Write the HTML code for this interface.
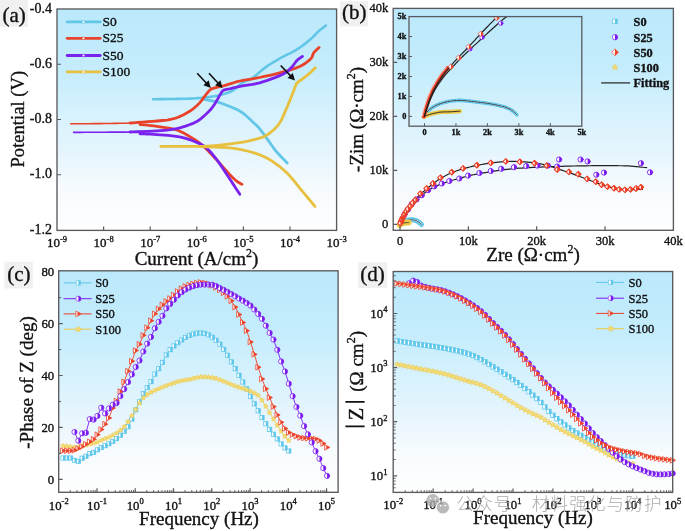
<!DOCTYPE html><html><head><meta charset="utf-8"><style>html,body{margin:0;padding:0;background:#fff;}svg{display:block}</style></head><body>
<svg width="685" height="531" viewBox="0 0 685 531" font-family="'Liberation Serif','Times New Roman',serif">
<style>text{stroke:#111;stroke-width:0.35px;paint-order:stroke;} .wm{stroke:none}</style>
<defs>
<linearGradient id="bg" x1="0" y1="0" x2="0" y2="1"><stop offset="0" stop-color="#bbe9fb"/><stop offset="0.27" stop-color="#c4ecfc"/><stop offset="0.45" stop-color="#d4f1fd"/><stop offset="0.65" stop-color="#e6f5fd"/><stop offset="0.82" stop-color="#f7fbfe"/><stop offset="1" stop-color="#fefefe"/></linearGradient>
<clipPath id="ca"><rect x="57" y="9" width="279.60" height="221.40"/></clipPath>
<clipPath id="cb"><rect x="393.2" y="8.4" width="280.20" height="221.90"/></clipPath>
<clipPath id="cc"><rect x="58.7" y="270.8" width="279.40" height="221.50"/></clipPath>
<clipPath id="cd"><rect x="393.2" y="271.5" width="279.50" height="220.90"/></clipPath>
<clipPath id="ci"><rect x="409" y="16.6" width="172.80" height="109.60"/></clipPath>
</defs>
<rect width="685" height="531" fill="#fff"/>
<rect x="57" y="9" width="279.60" height="221.40" fill="url(#bg)"/>
<g clip-path="url(#ca)" fill="none" stroke-linecap="round" stroke-linejoin="round">
<path d="M153,99.3 L154.81,99.27 L157.3,99.23 L160.25,99.17 L163.48,99.12 L166.8,99.06 L170,99 L173.22,98.95 L176.64,98.9 L180.14,98.85 L183.61,98.79 L186.94,98.71 L190,98.6 L192.77,98.47 L195.33,98.32 L197.75,98.16 L200.08,97.97 L202.37,97.75 L204.7,97.5 L207.03,97.23 L209.31,96.96 L211.56,96.66 L213.8,96.31 L216.04,95.89 L218.3,95.4 L220.62,94.84 L222.99,94.24 L225.36,93.58 L227.68,92.83 L229.91,91.97 L232,91 L233.92,89.82 L235.71,88.44 L237.4,86.96 L239.04,85.48 L240.66,84.09 L242.3,82.9 L243.89,82.02 L245.38,81.39 L246.85,80.85 L248.39,80.26 L250.08,79.46 L252,78.3 L254.2,76.68 L256.63,74.71 L259.21,72.52 L261.87,70.28 L264.52,68.12 L267.1,66.2 L269.67,64.48 L272.3,62.83 L274.94,61.28 L277.51,59.81 L279.95,58.45 L282.2,57.2 L284.22,56.12 L286.04,55.21 L287.73,54.41 L289.36,53.64 L291,52.83 L292.7,51.9 L294.48,50.86 L296.29,49.77 L298.09,48.64 L299.88,47.47 L301.62,46.29 L303.3,45.1 L304.93,43.87 L306.53,42.6 L308.09,41.3 L309.58,40.01 L310.99,38.77 L312.3,37.6 L313.46,36.51 L314.46,35.49 L315.39,34.51 L316.29,33.55 L317.24,32.59 L318.3,31.6 L319.56,30.52 L321,29.35 L322.47,28.18 L323.87,27.09 L325.05,26.16 L325.9,25.5" stroke="#62c6e6" stroke-width="2.6"/>
<path d="M204.7,99.5 L205.83,99.71 L207.39,99.98 L209.24,100.31 L211.22,100.69 L213.19,101.09 L215,101.5 L216.58,101.89 L218.06,102.26 L219.51,102.66 L221.06,103.13 L222.78,103.73 L224.8,104.5 L227.21,105.45 L229.97,106.55 L232.91,107.77 L235.88,109.1 L238.73,110.52 L241.3,112 L243.65,113.65 L245.9,115.5 L248.03,117.43 L250.01,119.34 L251.81,121.1 L253.4,122.6 L254.69,123.75 L255.68,124.62 L256.49,125.35 L257.24,126.07 L258.04,126.91 L259,128 L260.1,129.34 L261.24,130.8 L262.44,132.39 L263.69,134.1 L265.01,135.9 L266.4,137.8 L267.88,139.86 L269.44,142.09 L271.07,144.43 L272.76,146.8 L274.47,149.11 L276.2,151.3 L278.09,153.49 L280.19,155.77 L282.31,157.99 L284.3,160.03 L285.99,161.75 L287.2,163" stroke="#62c6e6" stroke-width="2.8"/>
<path d="M70.6,123.8 L73.79,123.78 L78.2,123.76 L83.42,123.74 L89.07,123.7 L94.72,123.66 L100,123.6 L105,123.54 L110.07,123.48 L115.15,123.41 L120.2,123.32 L125.17,123.19 L130,123 L134.99,122.72 L140.22,122.36 L145.38,121.96 L150.11,121.57 L154.1,121.23 L157,121" stroke="#e8432a" stroke-width="1.6"/>
<path d="M130,123 L133.1,122.78 L137.52,122.46 L142.69,122.09 L148.04,121.7 L153,121.33 L157,121 L160.02,120.74 L162.5,120.51 L164.59,120.31 L166.44,120.09 L168.19,119.83 L170,119.5 L171.79,119.13 L173.43,118.73 L174.98,118.29 L176.49,117.8 L178.01,117.24 L179.6,116.6 L181.31,115.83 L183.12,114.92 L184.94,113.95 L186.69,112.97 L188.31,112.03 L189.7,111.2 L190.82,110.5 L191.73,109.9 L192.49,109.34 L193.19,108.79 L193.9,108.19 L194.7,107.5 L195.56,106.76 L196.42,106.02 L197.29,105.23 L198.19,104.36 L199.16,103.36 L200.2,102.2 L201.38,100.76 L202.69,99.04 L204.06,97.21 L205.42,95.39 L206.69,93.74 L207.8,92.4 L208.64,91.41 L209.25,90.66 L209.78,90.08 L210.36,89.59 L211.15,89.12 L212.3,88.6 L213.82,88.07 L215.61,87.6 L217.6,87.15 L219.75,86.69 L222,86.18 L224.3,85.6 L226.66,84.91 L229.11,84.14 L231.68,83.33 L234.34,82.51 L237.11,81.72 L240,81 L243.01,80.37 L246.13,79.82 L249.37,79.29 L252.7,78.76 L256.11,78.17 L259.6,77.5 L263.25,76.73 L267.08,75.89 L270.99,75.01 L274.89,74.09 L278.66,73.14 L282.2,72.2 L285.57,71.26 L288.85,70.31 L292.01,69.34 L295,68.34 L297.78,67.29 L300.3,66.2 L302.58,65.02 L304.64,63.76 L306.49,62.45 L308.14,61.14 L309.57,59.88 L310.8,58.7 L311.71,57.61 L312.27,56.56 L312.63,55.56 L312.91,54.59 L313.25,53.64 L313.8,52.7 L314.61,51.71 L315.59,50.69 L316.64,49.68 L317.64,48.75 L318.5,47.97 L319.1,47.4" stroke="#e8432a" stroke-width="2.8"/>
<path d="M140,124.5 L141.82,124.69 L144.31,124.93 L147.28,125.22 L150.51,125.57 L153.82,125.96 L157,126.4 L160.17,126.85 L163.51,127.32 L166.93,127.84 L170.31,128.43 L173.57,129.14 L176.6,130 L179.42,131.05 L182.1,132.27 L184.66,133.61 L187.1,135 L189.41,136.38 L191.6,137.7 L193.61,138.91 L195.41,140.05 L197.09,141.18 L198.73,142.37 L200.4,143.69 L202.2,145.2 L204.12,146.92 L206.09,148.81 L208.11,150.82 L210.14,152.91 L212.18,155.06 L214.2,157.2 L216.25,159.42 L218.34,161.78 L220.44,164.18 L222.49,166.53 L224.46,168.77 L226.3,170.8 L228.01,172.64 L229.61,174.37 L231.14,175.97 L232.59,177.45 L233.97,178.8 L235.3,180 L236.63,181.06 L237.95,181.99 L239.21,182.78 L240.35,183.44 L241.3,183.98 L242,184.4" stroke="#e8432a" stroke-width="2.8"/>
<path d="M73.6,132.4 L76.43,132.38 L80.31,132.35 L84.92,132.31 L89.96,132.27 L95.09,132.24 L100,132.2 L104.83,132.18 L109.84,132.17 L114.96,132.16 L120.09,132.13 L125.13,132.09 L130,132 L134.99,131.86 L140.22,131.66 L145.38,131.44 L150.11,131.22 L154.1,131.03 L157,130.9" stroke="#7a22ee" stroke-width="1.6"/>
<path d="M130,132 L133.02,131.89 L137.27,131.76 L142.28,131.59 L147.55,131.4 L152.62,131.17 L157,130.9 L160.71,130.63 L164.14,130.36 L167.36,130.06 L170.45,129.69 L173.51,129.21 L176.6,128.6 L179.81,127.82 L183.07,126.9 L186.29,125.87 L189.37,124.78 L192.21,123.68 L194.7,122.6 L196.78,121.55 L198.52,120.48 L200.01,119.39 L201.36,118.29 L202.66,117.16 L204,116 L205.38,114.81 L206.71,113.59 L208,112.34 L209.23,111.07 L210.4,109.79 L211.5,108.5 L212.53,107.17 L213.5,105.8 L214.41,104.41 L215.26,103.04 L216.05,101.72 L216.8,100.5 L217.48,99.36 L218.08,98.29 L218.63,97.26 L219.14,96.29 L219.66,95.37 L220.2,94.5 L220.71,93.67 L221.17,92.87 L221.63,92.13 L222.14,91.45 L222.74,90.83 L223.5,90.3 L224.41,89.88 L225.43,89.57 L226.56,89.32 L227.77,89.11 L229.05,88.88 L230.4,88.6 L231.73,88.28 L233.03,87.96 L234.41,87.62 L235.96,87.26 L237.79,86.85 L240,86.4 L242.65,85.94 L245.68,85.48 L248.99,84.98 L252.47,84.4 L256.04,83.69 L259.6,82.8 L263.35,81.67 L267.41,80.33 L271.56,78.85 L275.56,77.33 L279.19,75.85 L282.2,74.5 L284.52,73.29 L286.32,72.15 L287.74,71.05 L288.93,69.96 L290.03,68.86 L291.2,67.7 L292.38,66.45 L293.45,65.11 L294.43,63.76 L295.36,62.45 L296.28,61.24 L297.2,60.2 L298.19,59.31 L299.21,58.52 L300.22,57.83 L301.15,57.25 L301.93,56.77 L302.5,56.4" stroke="#7a22ee" stroke-width="2.8"/>
<path d="M140,133.8 L141.78,133.87 L144.2,133.95 L147.09,134.06 L150.29,134.19 L153.65,134.37 L157,134.6 L160.51,134.86 L164.34,135.14 L168.33,135.47 L172.3,135.86 L176.12,136.33 L179.6,136.9 L182.78,137.6 L185.8,138.42 L188.66,139.32 L191.34,140.27 L193.86,141.24 L196.2,142.2 L198.3,143.09 L200.15,143.93 L201.83,144.78 L203.43,145.73 L205.02,146.84 L206.7,148.2 L208.43,149.78 L210.14,151.53 L211.85,153.44 L213.58,155.53 L215.36,157.78 L217.2,160.2 L219.14,162.89 L221.17,165.86 L223.25,169 L225.33,172.2 L227.36,175.33 L229.3,178.3 L231.26,181.27 L233.31,184.38 L235.31,187.43 L237.14,190.23 L238.68,192.58 L239.8,194.3" stroke="#7a22ee" stroke-width="2.8"/>
<path d="M160.8,146.4 L164.12,146.4 L168.83,146.41 L174.36,146.41 L180.11,146.41 L185.52,146.41 L190,146.4 L193.4,146.4 L196.16,146.43 L198.57,146.46 L200.94,146.44 L203.55,146.37 L206.7,146.2 L210.52,145.93 L214.8,145.57 L219.33,145.16 L223.9,144.69 L228.29,144.2 L232.3,143.7 L235.95,143.19 L239.4,142.66 L242.68,142.1 L245.81,141.51 L248.81,140.88 L251.7,140.2 L254.45,139.53 L257.04,138.9 L259.49,138.22 L261.85,137.44 L264.14,136.49 L266.4,135.3 L268.65,133.86 L270.86,132.22 L273.01,130.41 L275.06,128.47 L276.97,126.42 L278.7,124.3 L280.22,122.06 L281.55,119.67 L282.74,117.18 L283.84,114.64 L284.91,112.09 L286,109.6 L287.12,107.08 L288.22,104.49 L289.29,101.89 L290.31,99.37 L291.25,97.01 L292.1,94.9 L292.84,93.02 L293.5,91.29 L294.08,89.73 L294.59,88.33 L295.06,87.09 L295.5,86 L295.83,85.15 L296.03,84.56 L296.18,84.12 L296.37,83.75 L296.68,83.34 L297.2,82.8 L297.95,82.14 L298.86,81.46 L299.89,80.73 L301,79.97 L302.15,79.16 L303.3,78.3 L304.5,77.36 L305.81,76.33 L307.15,75.25 L308.47,74.17 L309.71,73.14 L310.8,72.2 L311.78,71.31 L312.69,70.41 L313.52,69.57 L314.24,68.81 L314.85,68.17 L315.3,67.7" stroke="#e6c03e" stroke-width="2.8"/>
<path d="M200,146.6 L203.61,146.73 L208.67,146.87 L214.63,147.06 L220.93,147.32 L227.01,147.69 L232.3,148.2 L236.9,148.86 L241.26,149.63 L245.39,150.51 L249.32,151.49 L253.05,152.56 L256.6,153.7 L259.91,154.91 L262.95,156.2 L265.8,157.57 L268.51,159.04 L271.16,160.62 L273.8,162.3 L276.42,164.11 L278.98,166.04 L281.46,168.07 L283.88,170.19 L286.22,172.37 L288.5,174.6 L290.65,176.88 L292.67,179.23 L294.63,181.65 L296.57,184.13 L298.57,186.68 L300.7,189.3 L303.13,192.21 L305.84,195.46 L308.61,198.77 L311.21,201.88 L313.42,204.51 L315,206.4" stroke="#e6c03e" stroke-width="2.8"/>
</g>
<line x1="197.2" y1="73.3" x2="206.71" y2="83.51" stroke="#111" stroke-width="1.6"/>
<path d="M210.8,87.9 L203.39,85.23 L208.66,80.32Z" fill="#111"/>
<line x1="209" y1="73.3" x2="218.43" y2="83.49" stroke="#111" stroke-width="1.6"/>
<path d="M222.5,87.9 L215.1,85.2 L220.39,80.32Z" fill="#111"/>
<line x1="280.7" y1="65.5" x2="290.86" y2="76.16" stroke="#111" stroke-width="1.6"/>
<path d="M295,80.5 L287.56,77.92 L292.78,72.95Z" fill="#111"/>
<rect x="57" y="9" width="279.60" height="221.40" fill="none" stroke="#5a5a5e" stroke-width="1.35"/>
<path d="M57,64.25h4 M57,119.5h4 M57,174.75h4" stroke="#5a5a5e" stroke-width="1.2" fill="none"/>
<path d="M103.6,230.4v-4 M150.2,230.4v-4 M196.8,230.4v-4 M243.4,230.4v-4 M290,230.4v-4" stroke="#5a5a5e" stroke-width="1.2" fill="none"/>
<text x="52.0" y="12.5" font-size="14" text-anchor="end" fill="#111" font-weight="normal">-0.4</text>
<text x="52.0" y="67.75" font-size="14" text-anchor="end" fill="#111" font-weight="normal">-0.6</text>
<text x="52.0" y="123" font-size="14" text-anchor="end" fill="#111" font-weight="normal">-0.8</text>
<text x="52.0" y="178.25" font-size="14" text-anchor="end" fill="#111" font-weight="normal">-1.0</text>
<text x="52.0" y="233.5" font-size="14" text-anchor="end" fill="#111" font-weight="normal">-1.2</text>
<text x="57" y="247.3" font-size="13" text-anchor="middle" fill="#111" font-weight="normal">10<tspan font-size="8.5" dy="-5.5">-9</tspan></text>
<text x="103.6" y="247.3" font-size="13" text-anchor="middle" fill="#111" font-weight="normal">10<tspan font-size="8.5" dy="-5.5">-8</tspan></text>
<text x="150.2" y="247.3" font-size="13" text-anchor="middle" fill="#111" font-weight="normal">10<tspan font-size="8.5" dy="-5.5">-7</tspan></text>
<text x="196.8" y="247.3" font-size="13" text-anchor="middle" fill="#111" font-weight="normal">10<tspan font-size="8.5" dy="-5.5">-6</tspan></text>
<text x="243.4" y="247.3" font-size="13" text-anchor="middle" fill="#111" font-weight="normal">10<tspan font-size="8.5" dy="-5.5">-5</tspan></text>
<text x="290" y="247.3" font-size="13" text-anchor="middle" fill="#111" font-weight="normal">10<tspan font-size="8.5" dy="-5.5">-4</tspan></text>
<text x="336.6" y="247.3" font-size="13" text-anchor="middle" fill="#111" font-weight="normal">10<tspan font-size="8.5" dy="-5.5">-3</tspan></text>
<line x1="67.2" y1="21.9" x2="100.2" y2="21.9" stroke="#62c6e6" stroke-width="2.8" stroke-linecap="round"/>
<circle cx="83.5" cy="21.9" r="1.3" fill="#fff" stroke="#62c6e6" stroke-width="0.6"/>
<text x="102.6" y="25.9" font-size="13.5" fill="#111">S0</text>
<line x1="67.2" y1="38.3" x2="100.2" y2="38.3" stroke="#e8432a" stroke-width="2.8" stroke-linecap="round"/>
<circle cx="83.5" cy="38.3" r="1.3" fill="#fff" stroke="#e8432a" stroke-width="0.6"/>
<text x="102.6" y="42.3" font-size="13.5" fill="#111">S25</text>
<line x1="67.2" y1="55.5" x2="100.2" y2="55.5" stroke="#7a22ee" stroke-width="2.8" stroke-linecap="round"/>
<circle cx="83.5" cy="55.5" r="1.3" fill="#fff" stroke="#7a22ee" stroke-width="0.6"/>
<text x="102.6" y="59.5" font-size="13.5" fill="#111">S50</text>
<line x1="67.2" y1="71.9" x2="100.2" y2="71.9" stroke="#e6c03e" stroke-width="2.8" stroke-linecap="round"/>
<circle cx="83.5" cy="71.9" r="1.3" fill="#fff" stroke="#e6c03e" stroke-width="0.6"/>
<text x="102.6" y="75.9" font-size="13.5" fill="#111">S100</text>
<text transform="translate(23.8,119.2) rotate(-90)" font-size="18.6" text-anchor="middle" fill="#111">Potential (V)</text>
<text x="196.5" y="265.4" font-size="19" text-anchor="middle" fill="#111">Current (A/cm<tspan font-size="12" dy="-8">2</tspan><tspan dy="8">)</tspan></text>
<rect x="0" y="0" width="28" height="27" fill="#f0f0f0"/>
<text x="2.5" y="21.5" font-size="21" fill="#111">(a)</text>
<rect x="393.2" y="8.4" width="280.20" height="221.90" fill="url(#bg)"/>
<g clip-path="url(#cb)" stroke-linecap="round" stroke-linejoin="round">
<path d="M400.3,224.6 L400.48,224.34 L400.71,223.97 L400.99,223.53 L401.31,223.08 L401.65,222.65 L402,222.3 L402.37,222.02 L402.77,221.77 L403.2,221.55 L403.64,221.35 L404.07,221.17 L404.5,221 L404.91,220.85 L405.31,220.71 L405.72,220.6 L406.13,220.5 L406.55,220.4 L407,220.3 L407.47,220.2 L407.96,220.1 L408.47,220.01 L408.98,219.92 L409.49,219.85 L410,219.8 L410.5,219.76 L411,219.73 L411.5,219.72 L412,219.72 L412.5,219.75 L413,219.8 L413.5,219.88 L414,219.98 L414.5,220.1 L415,220.24 L415.5,220.41 L416,220.6 L416.51,220.81 L417.02,221.04 L417.53,221.3 L418.04,221.58 L418.53,221.88 L419,222.2 L419.47,222.58 L419.96,223.03 L420.44,223.5 L420.87,223.95 L421.23,224.33 L421.5,224.6" stroke="#5cc6ea" stroke-width="5" fill="none"/>
<path d="M400.3,224.6 L400.48,224.34 L400.71,223.97 L400.99,223.53 L401.31,223.08 L401.65,222.65 L402,222.3 L402.37,222.02 L402.77,221.77 L403.2,221.55 L403.64,221.35 L404.07,221.17 L404.5,221 L404.91,220.85 L405.31,220.71 L405.72,220.6 L406.13,220.5 L406.55,220.4 L407,220.3 L407.47,220.2 L407.96,220.1 L408.47,220.01 L408.98,219.92 L409.49,219.85 L410,219.8 L410.5,219.76 L411,219.73 L411.5,219.72 L412,219.72 L412.5,219.75 L413,219.8 L413.5,219.88 L414,219.98 L414.5,220.1 L415,220.24 L415.5,220.41 L416,220.6 L416.51,220.81 L417.02,221.04 L417.53,221.3 L418.04,221.58 L418.53,221.88 L419,222.2 L419.47,222.58 L419.96,223.03 L420.44,223.5 L420.87,223.95 L421.23,224.33 L421.5,224.6" stroke="#fff" stroke-width="1.6" fill="none" stroke-dasharray="1.5 1.5" opacity="0.8"/>
<path d="M400.3,224.6 L400.48,224.34 L400.71,223.97 L400.99,223.53 L401.31,223.08 L401.65,222.65 L402,222.3 L402.37,222.02 L402.77,221.77 L403.2,221.55 L403.64,221.35 L404.07,221.17 L404.5,221 L404.91,220.85 L405.31,220.71 L405.72,220.6 L406.13,220.5 L406.55,220.4 L407,220.3 L407.47,220.2 L407.96,220.1 L408.47,220.01 L408.98,219.92 L409.49,219.85 L410,219.8 L410.5,219.76 L411,219.73 L411.5,219.72 L412,219.72 L412.5,219.75 L413,219.8 L413.5,219.88 L414,219.98 L414.5,220.1 L415,220.24 L415.5,220.41 L416,220.6 L416.51,220.81 L417.02,221.04 L417.53,221.3 L418.04,221.58 L418.53,221.88 L419,222.2 L419.47,222.58 L419.96,223.03 L420.44,223.5 L420.87,223.95 L421.23,224.33 L421.5,224.6" stroke="#1d2b30" stroke-width="0.9" fill="none"/>
<path d="M399.8,225 L399.98,224.84 L400.21,224.61 L400.49,224.34 L400.81,224.07 L401.15,223.81 L401.5,223.6 L401.87,223.44 L402.27,223.3 L402.7,223.18 L403.14,223.08 L403.57,222.99 L404,222.9 L404.42,222.82 L404.85,222.76 L405.28,222.71 L405.7,222.66 L406.11,222.63 L406.5,222.6 L406.9,222.58 L407.31,222.58 L407.71,222.58 L408.07,222.59 L408.38,222.6 L408.6,222.6" stroke="#ecc948" stroke-width="6" fill="none"/>
<path d="M399.8,225 L399.98,224.84 L400.21,224.61 L400.49,224.34 L400.81,224.07 L401.15,223.81 L401.5,223.6 L401.87,223.44 L402.27,223.3 L402.7,223.18 L403.14,223.08 L403.57,222.99 L404,222.9 L404.42,222.82 L404.85,222.76 L405.28,222.71 L405.7,222.66 L406.11,222.63 L406.5,222.6 L406.9,222.58 L407.31,222.58 L407.71,222.58 L408.07,222.59 L408.38,222.6 L408.6,222.6" stroke="#2a2a2a" stroke-width="0.9" fill="none"/>
<path d="M400,224.3 L400.15,223.84 L400.35,223.21 L400.59,222.46 L400.87,221.64 L401.17,220.81 L401.5,220 L401.84,219.21 L402.2,218.4 L402.59,217.57 L403.02,216.73 L403.48,215.87 L404,215 L404.58,214.11 L405.22,213.19 L405.91,212.25 L406.61,211.31 L407.32,210.39 L408,209.5 L408.67,208.63 L409.36,207.76 L410.04,206.91 L410.71,206.07 L411.37,205.27 L412,204.5 L412.57,203.79 L413.07,203.14 L413.56,202.51 L414.07,201.89 L414.67,201.22 L415.4,200.5 L416.28,199.7 L417.29,198.84 L418.37,197.94 L419.49,197.04 L420.62,196.15 L421.7,195.3 L422.75,194.48 L423.8,193.66 L424.86,192.85 L425.91,192.07 L426.96,191.31 L428,190.6 L429.02,189.93 L430.02,189.3 L431.02,188.71 L432.03,188.13 L433.09,187.56 L434.2,187 L435.39,186.44 L436.63,185.88 L437.92,185.34 L439.22,184.81 L440.52,184.29 L441.8,183.8 L443.03,183.33 L444.21,182.9 L445.4,182.48 L446.62,182.06 L447.91,181.64 L449.3,181.2 L450.84,180.74 L452.49,180.27 L454.22,179.79 L455.96,179.31 L457.67,178.85 L459.3,178.4 L460.81,177.98 L462.23,177.57 L463.62,177.18 L465.03,176.79 L466.5,176.4 L468.1,176 L469.84,175.59 L471.68,175.18 L473.59,174.77 L475.53,174.36 L477.48,173.97 L479.4,173.6 L481.31,173.25 L483.24,172.91 L485.18,172.59 L487.1,172.29 L488.98,171.99 L490.8,171.7 L492.51,171.43 L494.12,171.17 L495.69,170.93 L497.28,170.69 L498.96,170.45 L500.8,170.2 L502.78,169.93 L504.86,169.65 L507.03,169.37 L509.27,169.09 L511.6,168.83 L514,168.6 L516.5,168.4 L519.1,168.21 L521.78,168.05 L524.51,167.9 L527.26,167.75 L530,167.6 L532.67,167.45 L535.27,167.31 L537.89,167.18 L540.61,167.05 L543.52,166.93 L546.7,166.8 L550.21,166.67 L554,166.55 L557.98,166.43 L562.05,166.31 L566.12,166.2 L570.1,166.1 L574,166.01 L577.9,165.93 L581.81,165.86 L585.71,165.79 L589.61,165.74 L593.5,165.7 L597.5,165.67 L601.62,165.66 L605.74,165.65 L609.73,165.66 L613.46,165.67 L616.8,165.7 L619.65,165.73 L622.09,165.76 L624.26,165.8 L626.34,165.86 L628.46,165.96 L630.8,166.1 L633.52,166.32 L636.55,166.6 L639.62,166.92 L642.51,167.24 L644.95,167.51 L646.7,167.7" stroke="#222" stroke-width="1.2" fill="none"/>
<path d="M400,224.3 L400.16,223.78 L400.37,223.06 L400.62,222.21 L400.91,221.29 L401.2,220.37 L401.5,219.5 L401.8,218.67 L402.11,217.83 L402.44,216.98 L402.78,216.14 L403.13,215.31 L403.5,214.5 L403.87,213.73 L404.24,212.98 L404.62,212.25 L405.04,211.52 L405.49,210.77 L406,210 L406.57,209.2 L407.19,208.39 L407.84,207.56 L408.54,206.71 L409.26,205.86 L410,205 L410.76,204.13 L411.56,203.24 L412.38,202.35 L413.22,201.44 L414.1,200.53 L415,199.6 L415.94,198.65 L416.93,197.67 L417.94,196.69 L418.96,195.7 L419.99,194.74 L421,193.8 L422,192.89 L423,192.01 L424,191.14 L425,190.28 L426,189.44 L427,188.6 L427.98,187.79 L428.93,187 L429.88,186.22 L430.85,185.44 L431.88,184.64 L433,183.8 L434.18,182.91 L435.41,181.99 L436.69,181.05 L438.04,180.1 L439.47,179.14 L441,178.2 L442.66,177.25 L444.44,176.27 L446.31,175.29 L448.22,174.33 L450.13,173.43 L452,172.6 L453.8,171.86 L455.56,171.19 L457.31,170.56 L459.11,169.97 L460.99,169.39 L463,168.8 L465.16,168.2 L467.44,167.6 L469.81,167.01 L472.22,166.44 L474.63,165.9 L477,165.4 L479.32,164.93 L481.63,164.49 L483.94,164.07 L486.26,163.69 L488.61,163.33 L491,163 L493.45,162.69 L495.96,162.41 L498.5,162.15 L501.04,161.93 L503.55,161.74 L506,161.6 L508.38,161.5 L510.72,161.44 L513.02,161.43 L515.33,161.44 L517.64,161.5 L520,161.6 L522.43,161.74 L524.91,161.93 L527.42,162.16 L529.9,162.42 L532.3,162.7 L534.6,163 L536.77,163.3 L538.83,163.61 L540.83,163.95 L542.79,164.32 L544.74,164.73 L546.7,165.2 L548.67,165.74 L550.63,166.34 L552.58,166.99 L554.51,167.66 L556.45,168.34 L558.4,169 L560.35,169.65 L562.3,170.31 L564.25,170.97 L566.2,171.64 L568.15,172.32 L570.1,173 L572.05,173.68 L574,174.37 L575.95,175.07 L577.9,175.77 L579.85,176.48 L581.8,177.2 L583.75,177.94 L585.7,178.69 L587.66,179.46 L589.61,180.22 L591.56,180.97 L593.5,181.7 L595.44,182.42 L597.37,183.14 L599.3,183.86 L601.23,184.54 L603.16,185.2 L605.1,185.8 L607.04,186.36 L608.99,186.9 L610.94,187.39 L612.9,187.85 L614.85,188.25 L616.8,188.6 L618.72,188.88 L620.61,189.11 L622.51,189.29 L624.43,189.42 L626.42,189.52 L628.5,189.6 L630.86,189.63 L633.51,189.61 L636.23,189.56 L638.79,189.5 L640.95,189.44 L642.5,189.4" stroke="#222" stroke-width="1.2" fill="none"/>
<circle cx="650" cy="172.3" r="2.6" fill="#fff" stroke="#7a1cf0" stroke-width="0.9"/><path d="M650,169.7 A2.6,2.6 0 0 1 650,174.9Z" fill="#7a1cf0"/><circle cx="640.9" cy="163.2" r="2.6" fill="#fff" stroke="#7a1cf0" stroke-width="0.9"/><path d="M640.9,160.6 A2.6,2.6 0 0 1 640.9,165.8Z" fill="#7a1cf0"/><circle cx="604" cy="172.6" r="2.6" fill="#fff" stroke="#7a1cf0" stroke-width="0.9"/><path d="M604,170 A2.6,2.6 0 0 1 604,175.2Z" fill="#7a1cf0"/><circle cx="596.3" cy="174.7" r="2.6" fill="#fff" stroke="#7a1cf0" stroke-width="0.9"/><path d="M596.3,172.1 A2.6,2.6 0 0 1 596.3,177.3Z" fill="#7a1cf0"/><circle cx="587.6" cy="161.4" r="2.6" fill="#fff" stroke="#7a1cf0" stroke-width="0.9"/><path d="M587.6,158.8 A2.6,2.6 0 0 1 587.6,164Z" fill="#7a1cf0"/><circle cx="580.6" cy="159.5" r="2.6" fill="#fff" stroke="#7a1cf0" stroke-width="0.9"/><path d="M580.6,156.9 A2.6,2.6 0 0 1 580.6,162.1Z" fill="#7a1cf0"/><circle cx="559.1" cy="159.5" r="2.6" fill="#fff" stroke="#7a1cf0" stroke-width="0.9"/><path d="M559.1,156.9 A2.6,2.6 0 0 1 559.1,162.1Z" fill="#7a1cf0"/><circle cx="557.2" cy="166.5" r="2.6" fill="#fff" stroke="#7a1cf0" stroke-width="0.9"/><path d="M557.2,163.9 A2.6,2.6 0 0 1 557.2,169.1Z" fill="#7a1cf0"/><circle cx="547.9" cy="165.6" r="2.6" fill="#fff" stroke="#7a1cf0" stroke-width="0.9"/><path d="M547.9,163 A2.6,2.6 0 0 1 547.9,168.2Z" fill="#7a1cf0"/><circle cx="537.4" cy="165.6" r="2.6" fill="#fff" stroke="#7a1cf0" stroke-width="0.9"/><path d="M537.4,163 A2.6,2.6 0 0 1 537.4,168.2Z" fill="#7a1cf0"/><circle cx="526.2" cy="166" r="2.6" fill="#fff" stroke="#7a1cf0" stroke-width="0.9"/><path d="M526.2,163.4 A2.6,2.6 0 0 1 526.2,168.6Z" fill="#7a1cf0"/><circle cx="514" cy="167.2" r="2.6" fill="#fff" stroke="#7a1cf0" stroke-width="0.9"/><path d="M514,164.6 A2.6,2.6 0 0 1 514,169.8Z" fill="#7a1cf0"/><circle cx="501.2" cy="168.8" r="2.6" fill="#fff" stroke="#7a1cf0" stroke-width="0.9"/><path d="M501.2,166.2 A2.6,2.6 0 0 1 501.2,171.4Z" fill="#7a1cf0"/><circle cx="490.8" cy="171" r="2.6" fill="#fff" stroke="#7a1cf0" stroke-width="0.9"/><path d="M490.8,168.4 A2.6,2.6 0 0 1 490.8,173.6Z" fill="#7a1cf0"/><circle cx="479.4" cy="173" r="2.6" fill="#fff" stroke="#7a1cf0" stroke-width="0.9"/><path d="M479.4,170.4 A2.6,2.6 0 0 1 479.4,175.6Z" fill="#7a1cf0"/><circle cx="468.1" cy="175.6" r="2.6" fill="#fff" stroke="#7a1cf0" stroke-width="0.9"/><path d="M468.1,173 A2.6,2.6 0 0 1 468.1,178.2Z" fill="#7a1cf0"/><circle cx="459.3" cy="178.5" r="2.6" fill="#fff" stroke="#7a1cf0" stroke-width="0.9"/><path d="M459.3,175.9 A2.6,2.6 0 0 1 459.3,181.1Z" fill="#7a1cf0"/><circle cx="449.3" cy="181" r="2.6" fill="#fff" stroke="#7a1cf0" stroke-width="0.9"/><path d="M449.3,178.4 A2.6,2.6 0 0 1 449.3,183.6Z" fill="#7a1cf0"/><circle cx="441.8" cy="183.5" r="2.6" fill="#fff" stroke="#7a1cf0" stroke-width="0.9"/><path d="M441.8,180.9 A2.6,2.6 0 0 1 441.8,186.1Z" fill="#7a1cf0"/><circle cx="434.2" cy="186.4" r="2.6" fill="#fff" stroke="#7a1cf0" stroke-width="0.9"/><path d="M434.2,183.8 A2.6,2.6 0 0 1 434.2,189Z" fill="#7a1cf0"/><circle cx="428" cy="190.2" r="2.6" fill="#fff" stroke="#7a1cf0" stroke-width="0.9"/><path d="M428,187.6 A2.6,2.6 0 0 1 428,192.8Z" fill="#7a1cf0"/><circle cx="421.7" cy="195.3" r="2.6" fill="#fff" stroke="#7a1cf0" stroke-width="0.9"/><path d="M421.7,192.7 A2.6,2.6 0 0 1 421.7,197.9Z" fill="#7a1cf0"/><circle cx="416.5" cy="199.5" r="2.6" fill="#fff" stroke="#7a1cf0" stroke-width="0.9"/><path d="M416.5,196.9 A2.6,2.6 0 0 1 416.5,202.1Z" fill="#7a1cf0"/><circle cx="411.6" cy="204.2" r="2.6" fill="#fff" stroke="#7a1cf0" stroke-width="0.9"/><path d="M411.6,201.6 A2.6,2.6 0 0 1 411.6,206.8Z" fill="#7a1cf0"/><circle cx="408" cy="209.5" r="2.6" fill="#fff" stroke="#7a1cf0" stroke-width="0.9"/><path d="M408,206.9 A2.6,2.6 0 0 1 408,212.1Z" fill="#7a1cf0"/><circle cx="404.5" cy="214.5" r="2.6" fill="#fff" stroke="#7a1cf0" stroke-width="0.9"/><path d="M404.5,211.9 A2.6,2.6 0 0 1 404.5,217.1Z" fill="#7a1cf0"/>
<path d="M640.9,184.3 L643.7,187.1 L640.9,189.9 L638.1,187.1Z" fill="#fff" stroke="#ec3f25" stroke-width="1.1"/><path d="M640.9,184.3 L643.7,187.1 L640.9,189.9Z" fill="#ec3f25"/><path d="M636,185.7 L638.8,188.5 L636,191.3 L633.2,188.5Z" fill="#fff" stroke="#ec3f25" stroke-width="1.1"/><path d="M636,185.7 L638.8,188.5 L636,191.3Z" fill="#ec3f25"/><path d="M630.4,186.6 L633.2,189.4 L630.4,192.2 L627.6,189.4Z" fill="#fff" stroke="#ec3f25" stroke-width="1.1"/><path d="M630.4,186.6 L633.2,189.4 L630.4,192.2Z" fill="#ec3f25"/><path d="M625,187.1 L627.8,189.9 L625,192.7 L622.2,189.9Z" fill="#fff" stroke="#ec3f25" stroke-width="1.1"/><path d="M625,187.1 L627.8,189.9 L625,192.7Z" fill="#ec3f25"/><path d="M619.2,186.6 L622,189.4 L619.2,192.2 L616.4,189.4Z" fill="#fff" stroke="#ec3f25" stroke-width="1.1"/><path d="M619.2,186.6 L622,189.4 L619.2,192.2Z" fill="#ec3f25"/><path d="M614,185.4 L616.8,188.2 L614,191 L611.2,188.2Z" fill="#fff" stroke="#ec3f25" stroke-width="1.1"/><path d="M614,185.4 L616.8,188.2 L614,191Z" fill="#ec3f25"/><path d="M607.5,183.8 L610.3,186.6 L607.5,189.4 L604.7,186.6Z" fill="#fff" stroke="#ec3f25" stroke-width="1.1"/><path d="M607.5,183.8 L610.3,186.6 L607.5,189.4Z" fill="#ec3f25"/><path d="M601.6,181.9 L604.4,184.7 L601.6,187.5 L598.8,184.7Z" fill="#fff" stroke="#ec3f25" stroke-width="1.1"/><path d="M601.6,181.9 L604.4,184.7 L601.6,187.5Z" fill="#ec3f25"/><path d="M595.8,178.9 L598.6,181.7 L595.8,184.5 L593,181.7Z" fill="#fff" stroke="#ec3f25" stroke-width="1.1"/><path d="M595.8,178.9 L598.6,181.7 L595.8,184.5Z" fill="#ec3f25"/><path d="M587.1,176.1 L589.9,178.9 L587.1,181.7 L584.3,178.9Z" fill="#fff" stroke="#ec3f25" stroke-width="1.1"/><path d="M587.1,176.1 L589.9,178.9 L587.1,181.7Z" fill="#ec3f25"/><path d="M578.3,171.4 L581.1,174.2 L578.3,177 L575.5,174.2Z" fill="#fff" stroke="#ec3f25" stroke-width="1.1"/><path d="M578.3,171.4 L581.1,174.2 L578.3,177Z" fill="#ec3f25"/><path d="M568.9,169.1 L571.7,171.9 L568.9,174.7 L566.1,171.9Z" fill="#fff" stroke="#ec3f25" stroke-width="1.1"/><path d="M568.9,169.1 L571.7,171.9 L568.9,174.7Z" fill="#ec3f25"/><path d="M557.2,166.7 L560,169.5 L557.2,172.3 L554.4,169.5Z" fill="#fff" stroke="#ec3f25" stroke-width="1.1"/><path d="M557.2,166.7 L560,169.5 L557.2,172.3Z" fill="#ec3f25"/><path d="M546.7,162.8 L549.5,165.6 L546.7,168.4 L543.9,165.6Z" fill="#fff" stroke="#ec3f25" stroke-width="1.1"/><path d="M546.7,162.8 L549.5,165.6 L546.7,168.4Z" fill="#ec3f25"/><path d="M534.6,160.4 L537.4,163.2 L534.6,166 L531.8,163.2Z" fill="#fff" stroke="#ec3f25" stroke-width="1.1"/><path d="M534.6,160.4 L537.4,163.2 L534.6,166Z" fill="#ec3f25"/><path d="M519.9,159 L522.7,161.8 L519.9,164.6 L517.1,161.8Z" fill="#fff" stroke="#ec3f25" stroke-width="1.1"/><path d="M519.9,159 L522.7,161.8 L519.9,164.6Z" fill="#ec3f25"/><path d="M505.8,158.6 L508.6,161.4 L505.8,164.2 L503,161.4Z" fill="#fff" stroke="#ec3f25" stroke-width="1.1"/><path d="M505.8,158.6 L508.6,161.4 L505.8,164.2Z" fill="#ec3f25"/><path d="M490.8,160.1 L493.6,162.9 L490.8,165.7 L488,162.9Z" fill="#fff" stroke="#ec3f25" stroke-width="1.1"/><path d="M490.8,160.1 L493.6,162.9 L490.8,165.7Z" fill="#ec3f25"/><path d="M476.9,162.4 L479.7,165.2 L476.9,168 L474.1,165.2Z" fill="#fff" stroke="#ec3f25" stroke-width="1.1"/><path d="M476.9,162.4 L479.7,165.2 L476.9,168Z" fill="#ec3f25"/><path d="M463.1,165.6 L465.9,168.4 L463.1,171.2 L460.3,168.4Z" fill="#fff" stroke="#ec3f25" stroke-width="1.1"/><path d="M463.1,165.6 L465.9,168.4 L463.1,171.2Z" fill="#ec3f25"/><path d="M451.8,169.4 L454.6,172.2 L451.8,175 L449,172.2Z" fill="#fff" stroke="#ec3f25" stroke-width="1.1"/><path d="M451.8,169.4 L454.6,172.2 L451.8,175Z" fill="#ec3f25"/><path d="M440.5,174.9 L443.3,177.7 L440.5,180.5 L437.7,177.7Z" fill="#fff" stroke="#ec3f25" stroke-width="1.1"/><path d="M440.5,174.9 L443.3,177.7 L440.5,180.5Z" fill="#ec3f25"/><path d="M433,180.7 L435.8,183.5 L433,186.3 L430.2,183.5Z" fill="#fff" stroke="#ec3f25" stroke-width="1.1"/><path d="M433,180.7 L435.8,183.5 L433,186.3Z" fill="#ec3f25"/><path d="M426.7,185.7 L429.5,188.5 L426.7,191.3 L423.9,188.5Z" fill="#fff" stroke="#ec3f25" stroke-width="1.1"/><path d="M426.7,185.7 L429.5,188.5 L426.7,191.3Z" fill="#ec3f25"/><path d="M420.4,190.8 L423.2,193.6 L420.4,196.4 L417.6,193.6Z" fill="#fff" stroke="#ec3f25" stroke-width="1.1"/><path d="M420.4,190.8 L423.2,193.6 L420.4,196.4Z" fill="#ec3f25"/><path d="M415.4,197 L418.2,199.8 L415.4,202.6 L412.6,199.8Z" fill="#fff" stroke="#ec3f25" stroke-width="1.1"/><path d="M415.4,197 L418.2,199.8 L415.4,202.6Z" fill="#ec3f25"/><path d="M410.4,203.3 L413.2,206.1 L410.4,208.9 L407.6,206.1Z" fill="#fff" stroke="#ec3f25" stroke-width="1.1"/><path d="M410.4,203.3 L413.2,206.1 L410.4,208.9Z" fill="#ec3f25"/><path d="M405.8,209.1 L408.6,211.9 L405.8,214.7 L403,211.9Z" fill="#fff" stroke="#ec3f25" stroke-width="1.1"/><path d="M405.8,209.1 L408.6,211.9 L405.8,214.7Z" fill="#ec3f25"/><path d="M412.8,200 L415.6,202.8 L412.8,205.6 L410,202.8Z" fill="#fff" stroke="#ec3f25" stroke-width="1.1"/><path d="M412.8,200 L415.6,202.8 L412.8,205.6Z" fill="#ec3f25"/><path d="M407.8,206.2 L410.6,209 L407.8,211.8 L405,209Z" fill="#fff" stroke="#ec3f25" stroke-width="1.1"/><path d="M407.8,206.2 L410.6,209 L407.8,211.8Z" fill="#ec3f25"/><path d="M404.2,212 L407,214.8 L404.2,217.6 L401.4,214.8Z" fill="#fff" stroke="#ec3f25" stroke-width="1.1"/><path d="M404.2,212 L407,214.8 L404.2,217.6Z" fill="#ec3f25"/><path d="M402.8,214.6 L405.6,217.4 L402.8,220.2 L400,217.4Z" fill="#fff" stroke="#ec3f25" stroke-width="1.1"/><path d="M402.8,214.6 L405.6,217.4 L402.8,220.2Z" fill="#ec3f25"/><path d="M402,216.4 L404.8,219.2 L402,222 L399.2,219.2Z" fill="#fff" stroke="#ec3f25" stroke-width="1.1"/><path d="M402,216.4 L404.8,219.2 L402,222Z" fill="#ec3f25"/><path d="M401.2,218.2 L404,221 L401.2,223.8 L398.4,221Z" fill="#fff" stroke="#ec3f25" stroke-width="1.1"/><path d="M401.2,218.2 L404,221 L401.2,223.8Z" fill="#ec3f25"/><path d="M400.4,220.4 L403.2,223.2 L400.4,226 L397.6,223.2Z" fill="#fff" stroke="#ec3f25" stroke-width="1.1"/><path d="M400.4,220.4 L403.2,223.2 L400.4,226Z" fill="#ec3f25"/>
</g>
<rect x="393.2" y="8.4" width="280.20" height="221.90" fill="none" stroke="#5a5a5e" stroke-width="1.35"/>
<path d="M393.2,224.3h4 M393.2,170.3h4 M393.2,116.3h4 M393.2,62.3h4" stroke="#5a5a5e" stroke-width="1.2" fill="none"/>
<path d="M400,230.3v-4 M468.35,230.3v-4 M536.7,230.3v-4 M605.05,230.3v-4" stroke="#5a5a5e" stroke-width="1.2" fill="none"/>
<text x="388.2" y="227.9" font-size="12.5" text-anchor="end" fill="#111" font-weight="normal">0</text>
<text x="388.2" y="173.9" font-size="12.5" text-anchor="end" fill="#111" font-weight="normal">10k</text>
<text x="388.2" y="119.9" font-size="12.5" text-anchor="end" fill="#111" font-weight="normal">20k</text>
<text x="388.2" y="65.9" font-size="12.5" text-anchor="end" fill="#111" font-weight="normal">30k</text>
<text x="388.2" y="11.9" font-size="12.5" text-anchor="end" fill="#111" font-weight="normal">40k</text>
<text x="400" y="245" font-size="12.5" text-anchor="middle" fill="#111" font-weight="normal">0</text>
<text x="468.35" y="245" font-size="12.5" text-anchor="middle" fill="#111" font-weight="normal">10k</text>
<text x="536.7" y="245" font-size="12.5" text-anchor="middle" fill="#111" font-weight="normal">20k</text>
<text x="605.05" y="245" font-size="12.5" text-anchor="middle" fill="#111" font-weight="normal">30k</text>
<text x="673.4" y="245" font-size="12.5" text-anchor="middle" fill="#111" font-weight="normal">40k</text>
<g clip-path="url(#ci)" stroke-linecap="round" stroke-linejoin="round">
<path d="M424,115.8 L424.44,115.26 L425.04,114.5 L425.75,113.6 L426.52,112.66 L427.29,111.76 L428,111 L428.67,110.36 L429.33,109.78 L430,109.24 L430.67,108.74 L431.33,108.26 L432,107.8 L432.67,107.36 L433.33,106.94 L434,106.56 L434.67,106.19 L435.33,105.84 L436,105.5 L436.66,105.18 L437.3,104.88 L437.94,104.6 L438.59,104.33 L439.28,104.06 L440,103.8 L440.78,103.53 L441.6,103.27 L442.44,103.01 L443.3,102.76 L444.16,102.52 L445,102.3 L445.82,102.09 L446.63,101.89 L447.44,101.69 L448.26,101.51 L449.07,101.35 L449.9,101.2 L450.74,101.07 L451.59,100.95 L452.45,100.84 L453.31,100.75 L454.16,100.67 L455,100.6 L455.83,100.54 L456.64,100.49 L457.45,100.44 L458.26,100.41 L459.07,100.4 L459.9,100.4 L460.74,100.42 L461.59,100.46 L462.45,100.51 L463.31,100.57 L464.16,100.63 L465,100.7 L465.83,100.77 L466.64,100.85 L467.45,100.93 L468.26,101.02 L469.07,101.11 L469.9,101.2 L470.74,101.29 L471.59,101.39 L472.45,101.49 L473.31,101.6 L474.16,101.7 L475,101.8 L475.83,101.9 L476.64,102 L477.45,102.1 L478.26,102.2 L479.07,102.3 L479.9,102.4 L480.74,102.5 L481.59,102.59 L482.45,102.69 L483.31,102.79 L484.16,102.89 L485,103 L485.83,103.12 L486.64,103.25 L487.45,103.38 L488.26,103.52 L489.07,103.66 L489.9,103.8 L490.74,103.94 L491.6,104.09 L492.46,104.23 L493.31,104.38 L494.17,104.54 L495,104.7 L495.82,104.87 L496.64,105.06 L497.46,105.24 L498.26,105.43 L499.04,105.62 L499.8,105.8 L500.54,105.97 L501.26,106.13 L501.96,106.28 L502.65,106.44 L503.33,106.61 L504,106.8 L504.66,107.01 L505.32,107.23 L505.96,107.46 L506.59,107.7 L507.21,107.95 L507.8,108.2 L508.37,108.45 L508.93,108.7 L509.46,108.96 L509.99,109.23 L510.5,109.51 L511,109.8 L511.49,110.1 L511.96,110.4 L512.41,110.71 L512.87,111.04 L513.33,111.4 L513.8,111.8 L514.32,112.28 L514.9,112.84 L515.47,113.42 L516.01,113.99 L516.47,114.46 L516.8,114.8" stroke="#5cc6ea" stroke-width="3.6" fill="none"/>
<path d="M424,115.8 L424.44,115.26 L425.04,114.5 L425.75,113.6 L426.52,112.66 L427.29,111.76 L428,111 L428.67,110.36 L429.33,109.78 L430,109.24 L430.67,108.74 L431.33,108.26 L432,107.8 L432.67,107.36 L433.33,106.94 L434,106.56 L434.67,106.19 L435.33,105.84 L436,105.5 L436.66,105.18 L437.3,104.88 L437.94,104.6 L438.59,104.33 L439.28,104.06 L440,103.8 L440.78,103.53 L441.6,103.27 L442.44,103.01 L443.3,102.76 L444.16,102.52 L445,102.3 L445.82,102.09 L446.63,101.89 L447.44,101.69 L448.26,101.51 L449.07,101.35 L449.9,101.2 L450.74,101.07 L451.59,100.95 L452.45,100.84 L453.31,100.75 L454.16,100.67 L455,100.6 L455.83,100.54 L456.64,100.49 L457.45,100.44 L458.26,100.41 L459.07,100.4 L459.9,100.4 L460.74,100.42 L461.59,100.46 L462.45,100.51 L463.31,100.57 L464.16,100.63 L465,100.7 L465.83,100.77 L466.64,100.85 L467.45,100.93 L468.26,101.02 L469.07,101.11 L469.9,101.2 L470.74,101.29 L471.59,101.39 L472.45,101.49 L473.31,101.6 L474.16,101.7 L475,101.8 L475.83,101.9 L476.64,102 L477.45,102.1 L478.26,102.2 L479.07,102.3 L479.9,102.4 L480.74,102.5 L481.59,102.59 L482.45,102.69 L483.31,102.79 L484.16,102.89 L485,103 L485.83,103.12 L486.64,103.25 L487.45,103.38 L488.26,103.52 L489.07,103.66 L489.9,103.8 L490.74,103.94 L491.6,104.09 L492.46,104.23 L493.31,104.38 L494.17,104.54 L495,104.7 L495.82,104.87 L496.64,105.06 L497.46,105.24 L498.26,105.43 L499.04,105.62 L499.8,105.8 L500.54,105.97 L501.26,106.13 L501.96,106.28 L502.65,106.44 L503.33,106.61 L504,106.8 L504.66,107.01 L505.32,107.23 L505.96,107.46 L506.59,107.7 L507.21,107.95 L507.8,108.2 L508.37,108.45 L508.93,108.7 L509.46,108.96 L509.99,109.23 L510.5,109.51 L511,109.8 L511.49,110.1 L511.96,110.4 L512.41,110.71 L512.87,111.04 L513.33,111.4 L513.8,111.8 L514.32,112.28 L514.9,112.84 L515.47,113.42 L516.01,113.99 L516.47,114.46 L516.8,114.8" stroke="#fff" stroke-width="1.4" stroke-dasharray="1.6 1.8" fill="none" opacity="0.9"/>
<path d="M424,115.8 L424.44,115.26 L425.04,114.5 L425.75,113.6 L426.52,112.66 L427.29,111.76 L428,111 L428.67,110.36 L429.33,109.78 L430,109.24 L430.67,108.74 L431.33,108.26 L432,107.8 L432.67,107.36 L433.33,106.94 L434,106.56 L434.67,106.19 L435.33,105.84 L436,105.5 L436.66,105.18 L437.3,104.88 L437.94,104.6 L438.59,104.33 L439.28,104.06 L440,103.8 L440.78,103.53 L441.6,103.27 L442.44,103.01 L443.3,102.76 L444.16,102.52 L445,102.3 L445.82,102.09 L446.63,101.89 L447.44,101.69 L448.26,101.51 L449.07,101.35 L449.9,101.2 L450.74,101.07 L451.59,100.95 L452.45,100.84 L453.31,100.75 L454.16,100.67 L455,100.6 L455.83,100.54 L456.64,100.49 L457.45,100.44 L458.26,100.41 L459.07,100.4 L459.9,100.4 L460.74,100.42 L461.59,100.46 L462.45,100.51 L463.31,100.57 L464.16,100.63 L465,100.7 L465.83,100.77 L466.64,100.85 L467.45,100.93 L468.26,101.02 L469.07,101.11 L469.9,101.2 L470.74,101.29 L471.59,101.39 L472.45,101.49 L473.31,101.6 L474.16,101.7 L475,101.8 L475.83,101.9 L476.64,102 L477.45,102.1 L478.26,102.2 L479.07,102.3 L479.9,102.4 L480.74,102.5 L481.59,102.59 L482.45,102.69 L483.31,102.79 L484.16,102.89 L485,103 L485.83,103.12 L486.64,103.25 L487.45,103.38 L488.26,103.52 L489.07,103.66 L489.9,103.8 L490.74,103.94 L491.6,104.09 L492.46,104.23 L493.31,104.38 L494.17,104.54 L495,104.7 L495.82,104.87 L496.64,105.06 L497.46,105.24 L498.26,105.43 L499.04,105.62 L499.8,105.8 L500.54,105.97 L501.26,106.13 L501.96,106.28 L502.65,106.44 L503.33,106.61 L504,106.8 L504.66,107.01 L505.32,107.23 L505.96,107.46 L506.59,107.7 L507.21,107.95 L507.8,108.2 L508.37,108.45 L508.93,108.7 L509.46,108.96 L509.99,109.23 L510.5,109.51 L511,109.8 L511.49,110.1 L511.96,110.4 L512.41,110.71 L512.87,111.04 L513.33,111.4 L513.8,111.8 L514.32,112.28 L514.9,112.84 L515.47,113.42 L516.01,113.99 L516.47,114.46 L516.8,114.8" stroke="#1a2a33" stroke-width="1.0" fill="none"/>
<path d="M424,116.8 L424.44,116.6 L425.04,116.31 L425.75,115.97 L426.52,115.62 L427.29,115.29 L428,115 L428.67,114.76 L429.33,114.54 L430,114.34 L430.67,114.16 L431.33,113.98 L432,113.8 L432.67,113.63 L433.33,113.47 L434,113.32 L434.67,113.17 L435.33,113.03 L436,112.9 L436.66,112.77 L437.3,112.64 L437.94,112.51 L438.59,112.4 L439.28,112.29 L440,112.2 L440.78,112.12 L441.6,112.06 L442.44,112.01 L443.3,111.97 L444.16,111.93 L445,111.9 L445.82,111.87 L446.63,111.86 L447.44,111.85 L448.26,111.84 L449.07,111.83 L449.9,111.8 L450.74,111.76 L451.59,111.71 L452.45,111.66 L453.31,111.61 L454.16,111.55 L455,111.5 L455.88,111.45 L456.83,111.39 L457.77,111.33 L458.64,111.28 L459.37,111.23 L459.9,111.2" stroke="#ecc948" stroke-width="4.2" fill="none"/>
<path d="M424,116.8 L424.44,116.6 L425.04,116.31 L425.75,115.97 L426.52,115.62 L427.29,115.29 L428,115 L428.67,114.76 L429.33,114.54 L430,114.34 L430.67,114.16 L431.33,113.98 L432,113.8 L432.67,113.63 L433.33,113.47 L434,113.32 L434.67,113.17 L435.33,113.03 L436,112.9 L436.66,112.77 L437.3,112.64 L437.94,112.51 L438.59,112.4 L439.28,112.29 L440,112.2 L440.78,112.12 L441.6,112.06 L442.44,112.01 L443.3,111.97 L444.16,111.93 L445,111.9 L445.82,111.87 L446.63,111.86 L447.44,111.85 L448.26,111.84 L449.07,111.83 L449.9,111.8 L450.74,111.76 L451.59,111.71 L452.45,111.66 L453.31,111.61 L454.16,111.55 L455,111.5 L455.88,111.45 L456.83,111.39 L457.77,111.33 L458.64,111.28 L459.37,111.23 L459.9,111.2" stroke="#222" stroke-width="1.0" fill="none"/>
<path d="M423.8,116.4 L423.95,115.74 L424.14,114.83 L424.37,113.76 L424.64,112.59 L424.92,111.41 L425.2,110.3 L425.5,109.23 L425.82,108.13 L426.16,107.02 L426.51,105.91 L426.86,104.84 L427.2,103.8 L427.52,102.83 L427.83,101.92 L428.14,101.03 L428.46,100.14 L428.81,99.2 L429.2,98.2 L429.64,97.1 L430.13,95.92 L430.64,94.7 L431.16,93.48 L431.69,92.3 L432.2,91.2 L432.69,90.2 L433.16,89.26 L433.64,88.37 L434.13,87.48 L434.64,86.57 L435.2,85.6 L435.81,84.56 L436.46,83.47 L437.14,82.36 L437.83,81.24 L438.52,80.15 L439.2,79.1 L439.86,78.1 L440.52,77.12 L441.18,76.16 L441.84,75.23 L442.52,74.31 L443.2,73.4 L443.95,72.46 L444.77,71.47 L445.6,70.49 L446.37,69.6 L447.03,68.85 L447.5,68.3" stroke="#ec3f25" stroke-width="4.2" fill="none"/>
<path d="M422.2,115.8 L422.35,115.14 L422.54,114.23 L422.77,113.16 L423.04,111.99 L423.32,110.81 L423.6,109.7 L423.9,108.63 L424.22,107.53 L424.56,106.42 L424.91,105.31 L425.26,104.24 L425.6,103.2 L425.92,102.23 L426.23,101.32 L426.54,100.43 L426.86,99.54 L427.21,98.6 L427.6,97.6 L428.04,96.5 L428.53,95.32 L429.04,94.1 L429.56,92.88 L430.09,91.7 L430.6,90.6 L431.09,89.6 L431.56,88.66 L432.04,87.77 L432.53,86.88 L433.04,85.97 L433.6,85 L434.21,83.96 L434.86,82.87 L435.54,81.76 L436.23,80.64 L436.92,79.55 L437.6,78.5 L438.26,77.5 L438.92,76.52 L439.58,75.56 L440.24,74.63 L440.92,73.71 L441.6,72.8 L442.35,71.86 L443.17,70.87 L444,69.89 L444.77,69 L445.43,68.25 L445.9,67.7" stroke="#fff" stroke-width="0.9" fill="none" opacity="0.85"/>
<path d="M424.5,116.4 L424.66,115.81 L424.87,115 L425.12,114.04 L425.41,113.01 L425.7,111.97 L426,111 L426.3,110.09 L426.63,109.17 L426.97,108.26 L427.31,107.34 L427.66,106.42 L428,105.5 L428.32,104.59 L428.63,103.7 L428.94,102.81 L429.26,101.91 L429.61,100.97 L430,100 L430.44,98.96 L430.93,97.87 L431.44,96.75 L431.96,95.63 L432.49,94.54 L433,93.5 L433.49,92.53 L433.96,91.61 L434.44,90.72 L434.93,89.83 L435.44,88.93 L436,88 L436.61,87.02 L437.26,86.02 L437.94,85 L438.63,83.98 L439.32,82.98 L440,82 L440.62,81.09 L441.19,80.26 L441.75,79.44 L442.37,78.57 L443.1,77.61 L444,76.5 L445.1,75.19 L446.37,73.73 L447.75,72.17 L449.19,70.58 L450.62,69 L452,67.5 L453.31,66.09 L454.6,64.73 L455.88,63.39 L457.19,62.04 L458.56,60.66 L460,59.2 L461.54,57.66 L463.16,56.05 L464.82,54.41 L466.52,52.75 L468.22,51.1 L469.9,49.5 L471.56,47.94 L473.23,46.4 L474.89,44.87 L476.56,43.36 L478.23,41.83 L479.9,40.3 L481.57,38.75 L483.24,37.19 L484.91,35.62 L486.57,34.07 L488.24,32.52 L489.9,31 L491.58,29.48 L493.27,27.95 L494.96,26.44 L496.63,24.96 L498.25,23.54 L499.8,22.2 L501.36,20.88 L502.96,19.56 L504.52,18.3 L505.94,17.16 L507.13,16.2 L508,15.5" stroke="#222" stroke-width="1.2" fill="none"/>
<path d="M424.5,116.4 L424.66,115.77 L424.87,114.89 L425.12,113.86 L425.41,112.73 L425.7,111.59 L426,110.5 L426.3,109.44 L426.63,108.34 L426.97,107.22 L427.31,106.11 L427.66,105.03 L428,104 L428.32,103.04 L428.63,102.15 L428.94,101.28 L429.26,100.41 L429.61,99.49 L430,98.5 L430.44,97.4 L430.93,96.22 L431.44,95 L431.96,93.78 L432.49,92.6 L433,91.5 L433.49,90.51 L433.96,89.59 L434.44,88.72 L434.93,87.85 L435.44,86.96 L436,86 L436.61,84.97 L437.26,83.88 L437.94,82.76 L438.63,81.64 L439.32,80.55 L440,79.5 L440.62,78.55 L441.19,77.68 L441.75,76.84 L442.37,75.95 L443.1,74.96 L444,73.8 L445.1,72.42 L446.37,70.88 L447.75,69.22 L449.19,67.53 L450.62,65.87 L452,64.3 L453.31,62.85 L454.6,61.46 L455.88,60.1 L457.19,58.73 L458.56,57.31 L460,55.8 L461.54,54.19 L463.16,52.52 L464.82,50.8 L466.52,49.04 L468.22,47.27 L469.9,45.5 L471.56,43.71 L473.23,41.89 L474.89,40.06 L476.56,38.22 L478.23,36.39 L479.9,34.6 L481.58,32.82 L483.29,31.03 L484.99,29.26 L486.67,27.52 L488.31,25.83 L489.9,24.2 L491.51,22.55 L493.19,20.85 L494.82,19.2 L496.32,17.69 L497.58,16.43 L498.5,15.5" stroke="#222" stroke-width="1.2" fill="none"/>
<circle cx="469.8" cy="48.9" r="2.2" fill="#fff" stroke="#7a1cf0" stroke-width="0.7"/><path d="M469.8,46.7 A2.2,2.2 0 0 1 469.8,51.1Z" fill="#7a1cf0"/><circle cx="482" cy="37.3" r="2.2" fill="#fff" stroke="#7a1cf0" stroke-width="0.7"/><path d="M482,35.1 A2.2,2.2 0 0 1 482,39.5Z" fill="#7a1cf0"/><circle cx="500.8" cy="23.2" r="2.2" fill="#fff" stroke="#7a1cf0" stroke-width="0.7"/><path d="M500.8,21 A2.2,2.2 0 0 1 500.8,25.4Z" fill="#7a1cf0"/>
<path d="M451,64.3 L453.6,66.9 L451,69.5 L448.4,66.9Z" fill="#fff" stroke="#ec3f25" stroke-width="0.7"/><path d="M451,64.3 L453.6,66.9 L451,69.5Z" fill="#ec3f25"/><path d="M458.9,55.3 L461.5,57.9 L458.9,60.5 L456.3,57.9Z" fill="#fff" stroke="#ec3f25" stroke-width="0.7"/><path d="M458.9,55.3 L461.5,57.9 L458.9,60.5Z" fill="#ec3f25"/><path d="M468.9,44.3 L471.5,46.9 L468.9,49.5 L466.3,46.9Z" fill="#fff" stroke="#ec3f25" stroke-width="0.7"/><path d="M468.9,44.3 L471.5,46.9 L468.9,49.5Z" fill="#ec3f25"/><path d="M480.9,31.4 L483.5,34 L480.9,36.6 L478.3,34Z" fill="#fff" stroke="#ec3f25" stroke-width="0.7"/><path d="M480.9,31.4 L483.5,34 L480.9,36.6Z" fill="#ec3f25"/><path d="M496.8,15.4 L499.4,18 L496.8,20.6 L494.2,18Z" fill="#fff" stroke="#ec3f25" stroke-width="0.7"/><path d="M496.8,15.4 L499.4,18 L496.8,20.6Z" fill="#ec3f25"/>
</g>
<rect x="409" y="16.6" width="172.80" height="109.60" fill="none" stroke="#5a5a5e" stroke-width="1.3"/>
<path d="M409,116.4h3 M409,96.44h3 M409,76.48h3 M409,56.52h3 M409,36.56h3" stroke="#5a5a5e" stroke-width="1.0" fill="none"/>
<path d="M424.5,126.2v-3 M455.96,126.2v-3 M487.42,126.2v-3 M518.88,126.2v-3 M550.34,126.2v-3" stroke="#5a5a5e" stroke-width="1.0" fill="none"/>
<text x="406.3" y="118.9" font-size="8.3" text-anchor="end" fill="#111" font-weight="bold">0</text>
<text x="406.3" y="98.94" font-size="8.3" text-anchor="end" fill="#111" font-weight="bold">1k</text>
<text x="406.3" y="78.98" font-size="8.3" text-anchor="end" fill="#111" font-weight="bold">2k</text>
<text x="406.3" y="59.02" font-size="8.3" text-anchor="end" fill="#111" font-weight="bold">3k</text>
<text x="406.3" y="39.06" font-size="8.3" text-anchor="end" fill="#111" font-weight="bold">4k</text>
<text x="406.3" y="19.1" font-size="8.3" text-anchor="end" fill="#111" font-weight="bold">5k</text>
<text x="424.5" y="135.2" font-size="8.3" text-anchor="middle" fill="#111" font-weight="bold">0</text>
<text x="455.96" y="135.2" font-size="8.3" text-anchor="middle" fill="#111" font-weight="bold">1k</text>
<text x="487.42" y="135.2" font-size="8.3" text-anchor="middle" fill="#111" font-weight="bold">2k</text>
<text x="518.88" y="135.2" font-size="8.3" text-anchor="middle" fill="#111" font-weight="bold">3k</text>
<text x="550.34" y="135.2" font-size="8.3" text-anchor="middle" fill="#111" font-weight="bold">4k</text>
<text x="581.8" y="135.2" font-size="8.3" text-anchor="middle" fill="#111" font-weight="bold">5k</text>
<rect x="612.7" y="19.1" width="4.6" height="4.6" fill="#fff" stroke="#5cc6ea" stroke-width="0.7"/><rect x="615" y="19.1" width="2.3" height="4.6" fill="#5cc6ea"/>
<circle cx="615" cy="37.2" r="2.7" fill="#fff" stroke="#7a1cf0" stroke-width="0.7"/><path d="M615,34.5 A2.7,2.7 0 0 1 615,39.9Z" fill="#7a1cf0"/>
<path d="M615,48.9 L618.4,52.3 L615,55.7 L611.6,52.3Z" fill="#fff" stroke="#ec3f25" stroke-width="0.7"/><path d="M615,48.9 L618.4,52.3 L615,55.7Z" fill="#ec3f25"/>
<path d="M615,64.3 L615.88,66.09 L617.85,66.37 L616.43,67.76 L616.76,69.73 L615,68.8 L613.24,69.73 L613.57,67.76 L612.15,66.37 L614.12,66.09Z" fill="#f6dc78" stroke="#ecc948" stroke-width="0.6"/>
<line x1="601.2" y1="82.9" x2="630.1" y2="82.9" stroke="#222" stroke-width="1.2"/>
<text x="633.6" y="25.7" font-size="12.3" font-weight="bold" fill="#111">S0</text>
<text x="633.6" y="41.5" font-size="12.3" font-weight="bold" fill="#111">S25</text>
<text x="633.6" y="56.599999999999994" font-size="12.3" font-weight="bold" fill="#111">S50</text>
<text x="633.6" y="71.6" font-size="12.3" font-weight="bold" fill="#111">S100</text>
<text x="633.6" y="87.2" font-size="12.3" font-weight="bold" fill="#111">Fitting</text>
<text transform="translate(363.3,119.4) rotate(-90)" font-size="19" text-anchor="middle" fill="#111">-Zim (Ω·cm<tspan font-size="12" dy="-8">2</tspan><tspan dy="8">)</tspan></text>
<text x="533" y="260.8" font-size="19" text-anchor="middle" fill="#111">Zre (Ω·cm<tspan font-size="12" dy="-8">2</tspan><tspan dy="8">)</tspan></text>
<rect x="340" y="1.3" width="28" height="25.099999999999998" fill="#f0f0f0"/>
<text x="341.9" y="19.0" font-size="21" fill="#111">(b)</text>
<rect x="58.7" y="270.8" width="279.40" height="221.50" fill="url(#bg)"/>
<g clip-path="url(#cc)" fill="none" stroke-linejoin="round">
<path d="M63,458 L66.83,458 L70.65,458.01 L74.48,460.33 L78.31,461.3 L82.13,458.19 L85.96,456.19 L89.79,453.65 L93.62,452.33 L97.44,449.82 L101.27,447.55 L105.1,445.7 L108.92,443.74 L112.75,441.34 L116.58,438.57 L120.41,435.24 L124.23,431.23 L128.06,426.72 L131.89,419.07 L135.71,409.81 L139.54,401.83 L143.37,393.49 L147.19,387.56 L151.02,381.65 L154.85,374.09 L158.68,368.69 L162.5,362.41 L166.33,354.93 L170.16,349.64 L173.98,345.92 L177.81,342.75 L181.64,339.99 L185.46,337.44 L189.29,335.35 L193.12,333.95 L196.94,333.08 L200.77,333 L204.6,333.39 L208.43,334.98 L212.25,337.23 L216.08,340.18 L219.91,344.1 L223.73,349.32 L227.56,355.28 L231.39,361.86 L235.22,368.58 L239.04,375.3 L242.87,382.03 L246.7,388.87 L250.52,396.46 L254.35,403.76 L258.18,410.77 L262,417.55 L265.83,423.72 L269.66,429.33 L273.49,434.24 L277.31,438.97 L281.14,443.93 L284.97,447.91 L288.79,451" stroke="#5cc6ea" stroke-width="0.9"/>
<path d="M63,445.72 L66.83,446.22 L70.65,446.73 L74.48,447.26 L78.31,447.14 L82.13,445.99 L85.96,445.05 L89.79,444.12 L93.62,443.19 L97.44,442.22 L101.27,440.27 L105.1,438.67 L108.92,437.24 L112.75,435.26 L116.58,432.99 L120.41,430.21 L124.23,426.64 L128.06,421.61 L131.89,415.79 L135.71,409.48 L139.54,403.03 L143.37,398.07 L147.19,394.64 L151.02,392.34 L154.85,390.46 L158.68,388.83 L162.5,387.23 L166.33,385.62 L170.16,384.26 L173.98,383.04 L177.81,381.67 L181.64,380.66 L185.46,380.06 L189.29,379.46 L193.12,378.49 L196.94,377.51 L200.77,376.95 L204.6,376.83 L208.43,377.11 L212.25,377.59 L216.08,378.44 L219.91,379.86 L223.73,381.35 L227.56,382.93 L231.39,384.53 L235.22,385.98 L239.04,387.34 L242.87,388.66 L246.7,389.85 L250.52,391.22 L254.35,393.14 L258.18,395.31 L262,400.18 L265.83,406.35 L269.66,412.76 L273.49,419.14 L277.31,425.33 L281.14,431.2 L284.97,436.46 L288.79,440.49" stroke="#ecc948" stroke-width="0.9"/>
<path d="M63,450.7 L66.83,450.7 L70.65,450.7 L74.48,450.24 L78.31,448.53 L82.13,446.58 L85.96,444.19 L89.79,441.7 L93.62,439.23 L97.44,434.7 L101.27,429.56 L105.1,424.16 L108.92,417.95 L112.75,408.01 L116.58,400.97 L120.41,391.49 L124.23,381.9 L128.06,371.06 L131.89,361.2 L135.71,350.55 L139.54,344.21 L143.37,335.34 L147.19,327.7 L151.02,320.69 L154.85,313.85 L158.68,308.94 L162.5,304.89 L166.33,301.46 L170.16,298.45 L173.98,295.08 L177.81,291.5 L181.64,288.69 L185.46,286.46 L189.29,285.01 L193.12,283.96 L196.94,283.01 L200.77,282.4 L204.6,282.82 L208.43,283.81 L212.25,285.3 L216.08,287.43 L219.91,289.86 L223.73,292.82 L227.56,296.36 L231.39,300.83 L235.22,307.11 L239.04,314.58 L242.87,322.51 L246.7,330.7 L250.52,341.98 L254.35,354.3 L258.18,367.2 L262,378.95 L265.83,388.75 L269.66,397.61 L273.49,406.65 L277.31,414.98 L281.14,422.3 L284.97,428.46 L288.79,432.41 L292.62,434.59 L296.45,436.21 L300.27,437.48 L304.1,438.01 L307.93,438.25 L311.75,438.55 L315.58,438.96 L319.41,440.53 L323.24,443.55 L327.06,447.39" stroke="#ec3f25" stroke-width="0.9"/>
<path d="M74.48,432 L78.31,440.7 L82.13,433.3 L85.96,432.8 L89.79,419.1 L93.62,419.6 L97.44,415.9 L101.27,407.7 L105.1,413.4 L108.92,408.4 L112.75,404.7 L116.58,403.09 L120.41,396.09 L124.23,389.09 L128.06,382.09 L131.89,374.42 L135.71,366.97 L139.54,360.5 L143.37,351.49 L147.19,343.59 L151.02,336.95 L154.85,328.25 L158.68,321.85 L162.5,315.8 L166.33,308.37 L170.16,303.94 L173.98,299.69 L177.81,295.4 L181.64,292.13 L185.46,289.57 L189.29,287.64 L193.12,286.19 L196.94,285.18 L200.77,284.6 L204.6,284.6 L208.43,284.6 L212.25,284.68 L216.08,286.1 L219.91,288.11 L223.73,289.94 L227.56,291.93 L231.39,294.05 L235.22,296.3 L239.04,298.52 L242.87,300.67 L246.7,302.99 L250.52,305.62 L254.35,309.53 L258.18,313.97 L262,318.81 L265.83,325.67 L269.66,332.88 L273.49,339.55 L277.31,349.76 L281.14,361.43 L284.97,371.47 L288.79,383.65 L292.62,396.13 L296.45,406.92 L300.27,415.69 L304.1,426.08 L307.93,434.3 L311.75,442.44 L315.58,451.22 L319.41,458.78 L323.24,468.17 L327.06,475.87" stroke="#7a1cf0" stroke-width="0.9"/>
</g>
<rect x="286.69" y="448.9" width="4.2" height="4.2" fill="#fff" stroke="#5cc6ea" stroke-width="0.8"/><rect x="288.79" y="448.9" width="2.1" height="4.2" fill="#5cc6ea"/><rect x="282.87" y="445.81" width="4.2" height="4.2" fill="#fff" stroke="#5cc6ea" stroke-width="0.8"/><rect x="284.97" y="445.81" width="2.1" height="4.2" fill="#5cc6ea"/><rect x="279.04" y="441.83" width="4.2" height="4.2" fill="#fff" stroke="#5cc6ea" stroke-width="0.8"/><rect x="281.14" y="441.83" width="2.1" height="4.2" fill="#5cc6ea"/><rect x="275.21" y="436.87" width="4.2" height="4.2" fill="#fff" stroke="#5cc6ea" stroke-width="0.8"/><rect x="277.31" y="436.87" width="2.1" height="4.2" fill="#5cc6ea"/><rect x="271.38" y="432.14" width="4.2" height="4.2" fill="#fff" stroke="#5cc6ea" stroke-width="0.8"/><rect x="273.49" y="432.14" width="2.1" height="4.2" fill="#5cc6ea"/><rect x="267.56" y="427.23" width="4.2" height="4.2" fill="#fff" stroke="#5cc6ea" stroke-width="0.8"/><rect x="269.66" y="427.23" width="2.1" height="4.2" fill="#5cc6ea"/><rect x="263.73" y="421.62" width="4.2" height="4.2" fill="#fff" stroke="#5cc6ea" stroke-width="0.8"/><rect x="265.83" y="421.62" width="2.1" height="4.2" fill="#5cc6ea"/><rect x="259.9" y="415.45" width="4.2" height="4.2" fill="#fff" stroke="#5cc6ea" stroke-width="0.8"/><rect x="262" y="415.45" width="2.1" height="4.2" fill="#5cc6ea"/><rect x="256.08" y="408.67" width="4.2" height="4.2" fill="#fff" stroke="#5cc6ea" stroke-width="0.8"/><rect x="258.18" y="408.67" width="2.1" height="4.2" fill="#5cc6ea"/><rect x="252.25" y="401.66" width="4.2" height="4.2" fill="#fff" stroke="#5cc6ea" stroke-width="0.8"/><rect x="254.35" y="401.66" width="2.1" height="4.2" fill="#5cc6ea"/><rect x="248.42" y="394.36" width="4.2" height="4.2" fill="#fff" stroke="#5cc6ea" stroke-width="0.8"/><rect x="250.52" y="394.36" width="2.1" height="4.2" fill="#5cc6ea"/><rect x="244.6" y="386.77" width="4.2" height="4.2" fill="#fff" stroke="#5cc6ea" stroke-width="0.8"/><rect x="246.7" y="386.77" width="2.1" height="4.2" fill="#5cc6ea"/><rect x="240.77" y="379.93" width="4.2" height="4.2" fill="#fff" stroke="#5cc6ea" stroke-width="0.8"/><rect x="242.87" y="379.93" width="2.1" height="4.2" fill="#5cc6ea"/><rect x="236.94" y="373.2" width="4.2" height="4.2" fill="#fff" stroke="#5cc6ea" stroke-width="0.8"/><rect x="239.04" y="373.2" width="2.1" height="4.2" fill="#5cc6ea"/><rect x="233.12" y="366.48" width="4.2" height="4.2" fill="#fff" stroke="#5cc6ea" stroke-width="0.8"/><rect x="235.22" y="366.48" width="2.1" height="4.2" fill="#5cc6ea"/><rect x="229.29" y="359.76" width="4.2" height="4.2" fill="#fff" stroke="#5cc6ea" stroke-width="0.8"/><rect x="231.39" y="359.76" width="2.1" height="4.2" fill="#5cc6ea"/><rect x="225.46" y="353.18" width="4.2" height="4.2" fill="#fff" stroke="#5cc6ea" stroke-width="0.8"/><rect x="227.56" y="353.18" width="2.1" height="4.2" fill="#5cc6ea"/><rect x="221.63" y="347.22" width="4.2" height="4.2" fill="#fff" stroke="#5cc6ea" stroke-width="0.8"/><rect x="223.73" y="347.22" width="2.1" height="4.2" fill="#5cc6ea"/><rect x="217.81" y="342" width="4.2" height="4.2" fill="#fff" stroke="#5cc6ea" stroke-width="0.8"/><rect x="219.91" y="342" width="2.1" height="4.2" fill="#5cc6ea"/><rect x="213.98" y="338.08" width="4.2" height="4.2" fill="#fff" stroke="#5cc6ea" stroke-width="0.8"/><rect x="216.08" y="338.08" width="2.1" height="4.2" fill="#5cc6ea"/><rect x="210.15" y="335.13" width="4.2" height="4.2" fill="#fff" stroke="#5cc6ea" stroke-width="0.8"/><rect x="212.25" y="335.13" width="2.1" height="4.2" fill="#5cc6ea"/><rect x="206.33" y="332.88" width="4.2" height="4.2" fill="#fff" stroke="#5cc6ea" stroke-width="0.8"/><rect x="208.43" y="332.88" width="2.1" height="4.2" fill="#5cc6ea"/><rect x="202.5" y="331.29" width="4.2" height="4.2" fill="#fff" stroke="#5cc6ea" stroke-width="0.8"/><rect x="204.6" y="331.29" width="2.1" height="4.2" fill="#5cc6ea"/><rect x="198.67" y="330.9" width="4.2" height="4.2" fill="#fff" stroke="#5cc6ea" stroke-width="0.8"/><rect x="200.77" y="330.9" width="2.1" height="4.2" fill="#5cc6ea"/><rect x="194.84" y="330.98" width="4.2" height="4.2" fill="#fff" stroke="#5cc6ea" stroke-width="0.8"/><rect x="196.94" y="330.98" width="2.1" height="4.2" fill="#5cc6ea"/><rect x="191.02" y="331.85" width="4.2" height="4.2" fill="#fff" stroke="#5cc6ea" stroke-width="0.8"/><rect x="193.12" y="331.85" width="2.1" height="4.2" fill="#5cc6ea"/><rect x="187.19" y="333.25" width="4.2" height="4.2" fill="#fff" stroke="#5cc6ea" stroke-width="0.8"/><rect x="189.29" y="333.25" width="2.1" height="4.2" fill="#5cc6ea"/><rect x="183.36" y="335.34" width="4.2" height="4.2" fill="#fff" stroke="#5cc6ea" stroke-width="0.8"/><rect x="185.46" y="335.34" width="2.1" height="4.2" fill="#5cc6ea"/><rect x="179.54" y="337.89" width="4.2" height="4.2" fill="#fff" stroke="#5cc6ea" stroke-width="0.8"/><rect x="181.64" y="337.89" width="2.1" height="4.2" fill="#5cc6ea"/><rect x="175.71" y="340.65" width="4.2" height="4.2" fill="#fff" stroke="#5cc6ea" stroke-width="0.8"/><rect x="177.81" y="340.65" width="2.1" height="4.2" fill="#5cc6ea"/><rect x="171.88" y="343.82" width="4.2" height="4.2" fill="#fff" stroke="#5cc6ea" stroke-width="0.8"/><rect x="173.98" y="343.82" width="2.1" height="4.2" fill="#5cc6ea"/><rect x="168.06" y="347.54" width="4.2" height="4.2" fill="#fff" stroke="#5cc6ea" stroke-width="0.8"/><rect x="170.16" y="347.54" width="2.1" height="4.2" fill="#5cc6ea"/><rect x="164.23" y="352.83" width="4.2" height="4.2" fill="#fff" stroke="#5cc6ea" stroke-width="0.8"/><rect x="166.33" y="352.83" width="2.1" height="4.2" fill="#5cc6ea"/><rect x="160.4" y="360.31" width="4.2" height="4.2" fill="#fff" stroke="#5cc6ea" stroke-width="0.8"/><rect x="162.5" y="360.31" width="2.1" height="4.2" fill="#5cc6ea"/><rect x="156.58" y="366.59" width="4.2" height="4.2" fill="#fff" stroke="#5cc6ea" stroke-width="0.8"/><rect x="158.68" y="366.59" width="2.1" height="4.2" fill="#5cc6ea"/><rect x="152.75" y="371.99" width="4.2" height="4.2" fill="#fff" stroke="#5cc6ea" stroke-width="0.8"/><rect x="154.85" y="371.99" width="2.1" height="4.2" fill="#5cc6ea"/><rect x="148.92" y="379.55" width="4.2" height="4.2" fill="#fff" stroke="#5cc6ea" stroke-width="0.8"/><rect x="151.02" y="379.55" width="2.1" height="4.2" fill="#5cc6ea"/><rect x="145.09" y="385.46" width="4.2" height="4.2" fill="#fff" stroke="#5cc6ea" stroke-width="0.8"/><rect x="147.19" y="385.46" width="2.1" height="4.2" fill="#5cc6ea"/><rect x="141.27" y="391.39" width="4.2" height="4.2" fill="#fff" stroke="#5cc6ea" stroke-width="0.8"/><rect x="143.37" y="391.39" width="2.1" height="4.2" fill="#5cc6ea"/><rect x="137.44" y="399.73" width="4.2" height="4.2" fill="#fff" stroke="#5cc6ea" stroke-width="0.8"/><rect x="139.54" y="399.73" width="2.1" height="4.2" fill="#5cc6ea"/><rect x="133.61" y="407.71" width="4.2" height="4.2" fill="#fff" stroke="#5cc6ea" stroke-width="0.8"/><rect x="135.71" y="407.71" width="2.1" height="4.2" fill="#5cc6ea"/><rect x="129.79" y="416.97" width="4.2" height="4.2" fill="#fff" stroke="#5cc6ea" stroke-width="0.8"/><rect x="131.89" y="416.97" width="2.1" height="4.2" fill="#5cc6ea"/><rect x="125.96" y="424.62" width="4.2" height="4.2" fill="#fff" stroke="#5cc6ea" stroke-width="0.8"/><rect x="128.06" y="424.62" width="2.1" height="4.2" fill="#5cc6ea"/><rect x="122.13" y="429.13" width="4.2" height="4.2" fill="#fff" stroke="#5cc6ea" stroke-width="0.8"/><rect x="124.23" y="429.13" width="2.1" height="4.2" fill="#5cc6ea"/><rect x="118.31" y="433.14" width="4.2" height="4.2" fill="#fff" stroke="#5cc6ea" stroke-width="0.8"/><rect x="120.41" y="433.14" width="2.1" height="4.2" fill="#5cc6ea"/><rect x="114.48" y="436.47" width="4.2" height="4.2" fill="#fff" stroke="#5cc6ea" stroke-width="0.8"/><rect x="116.58" y="436.47" width="2.1" height="4.2" fill="#5cc6ea"/><rect x="110.65" y="439.24" width="4.2" height="4.2" fill="#fff" stroke="#5cc6ea" stroke-width="0.8"/><rect x="112.75" y="439.24" width="2.1" height="4.2" fill="#5cc6ea"/><rect x="106.82" y="441.64" width="4.2" height="4.2" fill="#fff" stroke="#5cc6ea" stroke-width="0.8"/><rect x="108.92" y="441.64" width="2.1" height="4.2" fill="#5cc6ea"/><rect x="103" y="443.6" width="4.2" height="4.2" fill="#fff" stroke="#5cc6ea" stroke-width="0.8"/><rect x="105.1" y="443.6" width="2.1" height="4.2" fill="#5cc6ea"/><rect x="99.17" y="445.45" width="4.2" height="4.2" fill="#fff" stroke="#5cc6ea" stroke-width="0.8"/><rect x="101.27" y="445.45" width="2.1" height="4.2" fill="#5cc6ea"/><rect x="95.34" y="447.72" width="4.2" height="4.2" fill="#fff" stroke="#5cc6ea" stroke-width="0.8"/><rect x="97.44" y="447.72" width="2.1" height="4.2" fill="#5cc6ea"/><rect x="91.52" y="450.23" width="4.2" height="4.2" fill="#fff" stroke="#5cc6ea" stroke-width="0.8"/><rect x="93.62" y="450.23" width="2.1" height="4.2" fill="#5cc6ea"/><rect x="87.69" y="451.55" width="4.2" height="4.2" fill="#fff" stroke="#5cc6ea" stroke-width="0.8"/><rect x="89.79" y="451.55" width="2.1" height="4.2" fill="#5cc6ea"/><rect x="83.86" y="454.09" width="4.2" height="4.2" fill="#fff" stroke="#5cc6ea" stroke-width="0.8"/><rect x="85.96" y="454.09" width="2.1" height="4.2" fill="#5cc6ea"/><rect x="80.03" y="456.09" width="4.2" height="4.2" fill="#fff" stroke="#5cc6ea" stroke-width="0.8"/><rect x="82.13" y="456.09" width="2.1" height="4.2" fill="#5cc6ea"/><rect x="76.21" y="459.2" width="4.2" height="4.2" fill="#fff" stroke="#5cc6ea" stroke-width="0.8"/><rect x="78.31" y="459.2" width="2.1" height="4.2" fill="#5cc6ea"/><rect x="72.38" y="458.23" width="4.2" height="4.2" fill="#fff" stroke="#5cc6ea" stroke-width="0.8"/><rect x="74.48" y="458.23" width="2.1" height="4.2" fill="#5cc6ea"/><rect x="68.55" y="455.91" width="4.2" height="4.2" fill="#fff" stroke="#5cc6ea" stroke-width="0.8"/><rect x="70.65" y="455.91" width="2.1" height="4.2" fill="#5cc6ea"/><rect x="64.73" y="455.9" width="4.2" height="4.2" fill="#fff" stroke="#5cc6ea" stroke-width="0.8"/><rect x="66.83" y="455.9" width="2.1" height="4.2" fill="#5cc6ea"/><rect x="60.9" y="455.9" width="4.2" height="4.2" fill="#fff" stroke="#5cc6ea" stroke-width="0.8"/><rect x="63" y="455.9" width="2.1" height="4.2" fill="#5cc6ea"/>
<path d="M288.79,437.89 L289.56,439.44 L291.27,439.69 L290.03,440.9 L290.32,442.6 L288.79,441.79 L287.26,442.6 L287.56,440.9 L286.32,439.69 L288.03,439.44Z" fill="#f6dc78" stroke="#ecc948" stroke-width="0.6"/><path d="M284.97,433.86 L285.73,435.41 L287.44,435.66 L286.2,436.86 L286.49,438.56 L284.97,437.76 L283.44,438.56 L283.73,436.86 L282.49,435.66 L284.2,435.41Z" fill="#f6dc78" stroke="#ecc948" stroke-width="0.6"/><path d="M281.14,428.6 L281.9,430.15 L283.61,430.4 L282.38,431.6 L282.67,433.31 L281.14,432.5 L279.61,433.31 L279.9,431.6 L278.67,430.4 L280.37,430.15Z" fill="#f6dc78" stroke="#ecc948" stroke-width="0.6"/><path d="M277.31,422.73 L278.08,424.28 L279.78,424.52 L278.55,425.73 L278.84,427.43 L277.31,426.63 L275.78,427.43 L276.08,425.73 L274.84,424.52 L276.55,424.28Z" fill="#f6dc78" stroke="#ecc948" stroke-width="0.6"/><path d="M273.49,416.54 L274.25,418.09 L275.96,418.34 L274.72,419.54 L275.01,421.25 L273.49,420.44 L271.96,421.25 L272.25,419.54 L271.01,418.34 L272.72,418.09Z" fill="#f6dc78" stroke="#ecc948" stroke-width="0.6"/><path d="M269.66,410.16 L270.42,411.71 L272.13,411.95 L270.89,413.16 L271.19,414.86 L269.66,414.06 L268.13,414.86 L268.42,413.16 L267.19,411.95 L268.89,411.71Z" fill="#f6dc78" stroke="#ecc948" stroke-width="0.6"/><path d="M265.83,403.75 L266.6,405.29 L268.3,405.54 L267.07,406.75 L267.36,408.45 L265.83,407.65 L264.3,408.45 L264.59,406.75 L263.36,405.54 L265.07,405.29Z" fill="#f6dc78" stroke="#ecc948" stroke-width="0.6"/><path d="M262,397.58 L262.77,399.13 L264.48,399.38 L263.24,400.58 L263.53,402.28 L262,401.48 L260.48,402.28 L260.77,400.58 L259.53,399.38 L261.24,399.13Z" fill="#f6dc78" stroke="#ecc948" stroke-width="0.6"/><path d="M258.18,392.71 L258.94,394.26 L260.65,394.51 L259.41,395.72 L259.71,397.42 L258.18,396.61 L256.65,397.42 L256.94,395.72 L255.7,394.51 L257.41,394.26Z" fill="#f6dc78" stroke="#ecc948" stroke-width="0.6"/><path d="M254.35,390.54 L255.11,392.09 L256.82,392.34 L255.59,393.54 L255.88,395.25 L254.35,394.44 L252.82,395.25 L253.11,393.54 L251.88,392.34 L253.59,392.09Z" fill="#f6dc78" stroke="#ecc948" stroke-width="0.6"/><path d="M250.52,388.62 L251.29,390.17 L253,390.41 L251.76,391.62 L252.05,393.32 L250.52,392.52 L248.99,393.32 L249.29,391.62 L248.05,390.41 L249.76,390.17Z" fill="#f6dc78" stroke="#ecc948" stroke-width="0.6"/><path d="M246.7,387.25 L247.46,388.79 L249.17,389.04 L247.93,390.25 L248.22,391.95 L246.7,391.15 L245.17,391.95 L245.46,390.25 L244.22,389.04 L245.93,388.79Z" fill="#f6dc78" stroke="#ecc948" stroke-width="0.6"/><path d="M242.87,386.06 L243.63,387.61 L245.34,387.85 L244.11,389.06 L244.4,390.76 L242.87,389.96 L241.34,390.76 L241.63,389.06 L240.4,387.85 L242.1,387.61Z" fill="#f6dc78" stroke="#ecc948" stroke-width="0.6"/><path d="M239.04,384.74 L239.81,386.29 L241.51,386.54 L240.28,387.74 L240.57,389.44 L239.04,388.64 L237.51,389.44 L237.81,387.74 L236.57,386.54 L238.28,386.29Z" fill="#f6dc78" stroke="#ecc948" stroke-width="0.6"/><path d="M235.22,383.38 L235.98,384.92 L237.69,385.17 L236.45,386.38 L236.74,388.08 L235.22,387.28 L233.69,388.08 L233.98,386.38 L232.74,385.17 L234.45,384.92Z" fill="#f6dc78" stroke="#ecc948" stroke-width="0.6"/><path d="M231.39,381.93 L232.15,383.47 L233.86,383.72 L232.62,384.93 L232.92,386.63 L231.39,385.83 L229.86,386.63 L230.15,384.93 L228.92,383.72 L230.62,383.47Z" fill="#f6dc78" stroke="#ecc948" stroke-width="0.6"/><path d="M227.56,380.33 L228.33,381.87 L230.03,382.12 L228.8,383.33 L229.09,385.03 L227.56,384.23 L226.03,385.03 L226.32,383.33 L225.09,382.12 L226.8,381.87Z" fill="#f6dc78" stroke="#ecc948" stroke-width="0.6"/><path d="M223.73,378.75 L224.5,380.3 L226.21,380.55 L224.97,381.76 L225.26,383.46 L223.73,382.65 L222.21,383.46 L222.5,381.76 L221.26,380.55 L222.97,380.3Z" fill="#f6dc78" stroke="#ecc948" stroke-width="0.6"/><path d="M219.91,377.26 L220.67,378.81 L222.38,379.06 L221.14,380.27 L221.44,381.97 L219.91,381.16 L218.38,381.97 L218.67,380.27 L217.43,379.06 L219.14,378.81Z" fill="#f6dc78" stroke="#ecc948" stroke-width="0.6"/><path d="M216.08,375.84 L216.84,377.39 L218.55,377.63 L217.32,378.84 L217.61,380.54 L216.08,379.74 L214.55,380.54 L214.84,378.84 L213.61,377.63 L215.32,377.39Z" fill="#f6dc78" stroke="#ecc948" stroke-width="0.6"/><path d="M212.25,374.99 L213.02,376.54 L214.73,376.79 L213.49,377.99 L213.78,379.7 L212.25,378.89 L210.72,379.7 L211.02,377.99 L209.78,376.79 L211.49,376.54Z" fill="#f6dc78" stroke="#ecc948" stroke-width="0.6"/><path d="M208.43,374.51 L209.19,376.06 L210.9,376.3 L209.66,377.51 L209.95,379.21 L208.43,378.41 L206.9,379.21 L207.19,377.51 L205.95,376.3 L207.66,376.06Z" fill="#f6dc78" stroke="#ecc948" stroke-width="0.6"/><path d="M204.6,374.23 L205.36,375.77 L207.07,376.02 L205.84,377.23 L206.13,378.93 L204.6,378.13 L203.07,378.93 L203.36,377.23 L202.13,376.02 L203.83,375.77Z" fill="#f6dc78" stroke="#ecc948" stroke-width="0.6"/><path d="M200.77,374.35 L201.54,375.9 L203.24,376.14 L202.01,377.35 L202.3,379.05 L200.77,378.25 L199.24,379.05 L199.54,377.35 L198.3,376.14 L200.01,375.9Z" fill="#f6dc78" stroke="#ecc948" stroke-width="0.6"/><path d="M196.94,374.91 L197.71,376.46 L199.42,376.71 L198.18,377.91 L198.47,379.61 L196.94,378.81 L195.42,379.61 L195.71,377.91 L194.47,376.71 L196.18,376.46Z" fill="#f6dc78" stroke="#ecc948" stroke-width="0.6"/><path d="M193.12,375.89 L193.88,377.43 L195.59,377.68 L194.35,378.89 L194.65,380.59 L193.12,379.79 L191.59,380.59 L191.88,378.89 L190.65,377.68 L192.35,377.43Z" fill="#f6dc78" stroke="#ecc948" stroke-width="0.6"/><path d="M189.29,376.86 L190.06,378.41 L191.76,378.66 L190.53,379.86 L190.82,381.56 L189.29,380.76 L187.76,381.56 L188.05,379.86 L186.82,378.66 L188.53,378.41Z" fill="#f6dc78" stroke="#ecc948" stroke-width="0.6"/><path d="M185.46,377.46 L186.23,379.01 L187.94,379.26 L186.7,380.46 L186.99,382.16 L185.46,381.36 L183.94,382.16 L184.23,380.46 L182.99,379.26 L184.7,379.01Z" fill="#f6dc78" stroke="#ecc948" stroke-width="0.6"/><path d="M181.64,378.06 L182.4,379.61 L184.11,379.86 L182.87,381.06 L183.17,382.76 L181.64,381.96 L180.11,382.76 L180.4,381.06 L179.16,379.86 L180.87,379.61Z" fill="#f6dc78" stroke="#ecc948" stroke-width="0.6"/><path d="M177.81,379.07 L178.57,380.61 L180.28,380.86 L179.05,382.07 L179.34,383.77 L177.81,382.97 L176.28,383.77 L176.57,382.07 L175.34,380.86 L177.05,380.61Z" fill="#f6dc78" stroke="#ecc948" stroke-width="0.6"/><path d="M173.98,380.44 L174.75,381.98 L176.46,382.23 L175.22,383.44 L175.51,385.14 L173.98,384.34 L172.45,385.14 L172.75,383.44 L171.51,382.23 L173.22,381.98Z" fill="#f6dc78" stroke="#ecc948" stroke-width="0.6"/><path d="M170.16,381.66 L170.92,383.21 L172.63,383.45 L171.39,384.66 L171.68,386.36 L170.16,385.56 L168.63,386.36 L168.92,384.66 L167.68,383.45 L169.39,383.21Z" fill="#f6dc78" stroke="#ecc948" stroke-width="0.6"/><path d="M166.33,383.02 L167.09,384.57 L168.8,384.82 L167.57,386.03 L167.86,387.73 L166.33,386.92 L164.8,387.73 L165.09,386.03 L163.86,384.82 L165.56,384.57Z" fill="#f6dc78" stroke="#ecc948" stroke-width="0.6"/><path d="M162.5,384.63 L163.27,386.18 L164.97,386.43 L163.74,387.63 L164.03,389.33 L162.5,388.53 L160.97,389.33 L161.27,387.63 L160.03,386.43 L161.74,386.18Z" fill="#f6dc78" stroke="#ecc948" stroke-width="0.6"/><path d="M158.68,386.23 L159.44,387.78 L161.15,388.03 L159.91,389.24 L160.2,390.94 L158.68,390.13 L157.15,390.94 L157.44,389.24 L156.2,388.03 L157.91,387.78Z" fill="#f6dc78" stroke="#ecc948" stroke-width="0.6"/><path d="M154.85,387.86 L155.61,389.41 L157.32,389.65 L156.08,390.86 L156.38,392.56 L154.85,391.76 L153.32,392.56 L153.61,390.86 L152.38,389.65 L154.08,389.41Z" fill="#f6dc78" stroke="#ecc948" stroke-width="0.6"/><path d="M151.02,389.74 L151.79,391.29 L153.49,391.54 L152.26,392.74 L152.55,394.44 L151.02,393.64 L149.49,394.44 L149.78,392.74 L148.55,391.54 L150.26,391.29Z" fill="#f6dc78" stroke="#ecc948" stroke-width="0.6"/><path d="M147.19,392.04 L147.96,393.59 L149.67,393.84 L148.43,395.04 L148.72,396.75 L147.19,395.94 L145.67,396.75 L145.96,395.04 L144.72,393.84 L146.43,393.59Z" fill="#f6dc78" stroke="#ecc948" stroke-width="0.6"/><path d="M143.37,395.47 L144.13,397.02 L145.84,397.26 L144.6,398.47 L144.9,400.17 L143.37,399.37 L141.84,400.17 L142.13,398.47 L140.89,397.26 L142.6,397.02Z" fill="#f6dc78" stroke="#ecc948" stroke-width="0.6"/><path d="M139.54,400.43 L140.3,401.98 L142.01,402.23 L140.78,403.43 L141.07,405.13 L139.54,404.33 L138.01,405.13 L138.3,403.43 L137.07,402.23 L138.78,401.98Z" fill="#f6dc78" stroke="#ecc948" stroke-width="0.6"/><path d="M135.71,406.88 L136.48,408.43 L138.19,408.68 L136.95,409.89 L137.24,411.59 L135.71,410.78 L134.18,411.59 L134.48,409.89 L133.24,408.68 L134.95,408.43Z" fill="#f6dc78" stroke="#ecc948" stroke-width="0.6"/><path d="M131.89,413.19 L132.65,414.74 L134.36,414.99 L133.12,416.2 L133.41,417.9 L131.89,417.09 L130.36,417.9 L130.65,416.2 L129.41,414.99 L131.12,414.74Z" fill="#f6dc78" stroke="#ecc948" stroke-width="0.6"/><path d="M128.06,419.01 L128.82,420.55 L130.53,420.8 L129.3,422.01 L129.59,423.71 L128.06,422.91 L126.53,423.71 L126.82,422.01 L125.59,420.8 L127.29,420.55Z" fill="#f6dc78" stroke="#ecc948" stroke-width="0.6"/><path d="M124.23,424.04 L125,425.59 L126.7,425.84 L125.47,427.04 L125.76,428.75 L124.23,427.94 L122.7,428.75 L123,427.04 L121.76,425.84 L123.47,425.59Z" fill="#f6dc78" stroke="#ecc948" stroke-width="0.6"/><path d="M120.41,427.61 L121.17,429.16 L122.88,429.41 L121.64,430.62 L121.93,432.32 L120.41,431.51 L118.88,432.32 L119.17,430.62 L117.93,429.41 L119.64,429.16Z" fill="#f6dc78" stroke="#ecc948" stroke-width="0.6"/><path d="M116.58,430.39 L117.34,431.94 L119.05,432.19 L117.81,433.39 L118.11,435.09 L116.58,434.29 L115.05,435.09 L115.34,433.39 L114.11,432.19 L115.81,431.94Z" fill="#f6dc78" stroke="#ecc948" stroke-width="0.6"/><path d="M112.75,432.66 L113.52,434.21 L115.22,434.46 L113.99,435.67 L114.28,437.37 L112.75,436.56 L111.22,437.37 L111.51,435.67 L110.28,434.46 L111.99,434.21Z" fill="#f6dc78" stroke="#ecc948" stroke-width="0.6"/><path d="M108.92,434.64 L109.69,436.19 L111.4,436.43 L110.16,437.64 L110.45,439.34 L108.92,438.54 L107.4,439.34 L107.69,437.64 L106.45,436.43 L108.16,436.19Z" fill="#f6dc78" stroke="#ecc948" stroke-width="0.6"/><path d="M105.1,436.07 L105.86,437.61 L107.57,437.86 L106.33,439.07 L106.63,440.77 L105.1,439.97 L103.57,440.77 L103.86,439.07 L102.62,437.86 L104.33,437.61Z" fill="#f6dc78" stroke="#ecc948" stroke-width="0.6"/><path d="M101.27,437.67 L102.03,439.21 L103.74,439.46 L102.51,440.67 L102.8,442.37 L101.27,441.57 L99.74,442.37 L100.03,440.67 L98.8,439.46 L100.51,439.21Z" fill="#f6dc78" stroke="#ecc948" stroke-width="0.6"/><path d="M97.44,439.62 L98.21,441.17 L99.92,441.42 L98.68,442.62 L98.97,444.32 L97.44,443.52 L95.91,444.32 L96.21,442.62 L94.97,441.42 L96.68,441.17Z" fill="#f6dc78" stroke="#ecc948" stroke-width="0.6"/><path d="M93.62,440.59 L94.38,442.14 L96.09,442.39 L94.85,443.6 L95.14,445.3 L93.62,444.49 L92.09,445.3 L92.38,443.6 L91.14,442.39 L92.85,442.14Z" fill="#f6dc78" stroke="#ecc948" stroke-width="0.6"/><path d="M89.79,441.52 L90.55,443.07 L92.26,443.31 L91.03,444.52 L91.32,446.22 L89.79,445.42 L88.26,446.22 L88.55,444.52 L87.32,443.31 L89.02,443.07Z" fill="#f6dc78" stroke="#ecc948" stroke-width="0.6"/><path d="M85.96,442.45 L86.73,444 L88.43,444.25 L87.2,445.46 L87.49,447.16 L85.96,446.35 L84.43,447.16 L84.73,445.46 L83.49,444.25 L85.2,444Z" fill="#f6dc78" stroke="#ecc948" stroke-width="0.6"/><path d="M82.13,443.39 L82.9,444.94 L84.61,445.19 L83.37,446.39 L83.66,448.1 L82.13,447.29 L80.61,448.1 L80.9,446.39 L79.66,445.19 L81.37,444.94Z" fill="#f6dc78" stroke="#ecc948" stroke-width="0.6"/><path d="M78.31,444.54 L79.07,446.09 L80.78,446.34 L79.54,447.54 L79.84,449.24 L78.31,448.44 L76.78,449.24 L77.07,447.54 L75.84,446.34 L77.54,446.09Z" fill="#f6dc78" stroke="#ecc948" stroke-width="0.6"/><path d="M74.48,444.66 L75.25,446.21 L76.95,446.46 L75.72,447.66 L76.01,449.37 L74.48,448.56 L72.95,449.37 L73.24,447.66 L72.01,446.46 L73.72,446.21Z" fill="#f6dc78" stroke="#ecc948" stroke-width="0.6"/><path d="M70.65,444.13 L71.42,445.68 L73.13,445.93 L71.89,447.13 L72.18,448.84 L70.65,448.03 L69.13,448.84 L69.42,447.13 L68.18,445.93 L69.89,445.68Z" fill="#f6dc78" stroke="#ecc948" stroke-width="0.6"/><path d="M66.83,443.62 L67.59,445.17 L69.3,445.42 L68.06,446.62 L68.36,448.33 L66.83,447.52 L65.3,448.33 L65.59,446.62 L64.35,445.42 L66.06,445.17Z" fill="#f6dc78" stroke="#ecc948" stroke-width="0.6"/><path d="M63,443.12 L63.76,444.67 L65.47,444.92 L64.24,446.12 L64.53,447.82 L63,447.02 L61.47,447.82 L61.76,446.12 L60.53,444.92 L62.24,444.67Z" fill="#f6dc78" stroke="#ecc948" stroke-width="0.6"/>
<path d="M324.68,444.59 L329.86,447.39 L324.68,450.19Z" fill="#fff" stroke="#ec3f25" stroke-width="0.8" stroke-linejoin="miter"/><path d="M326.22,445.42 L329.86,447.39 L326.22,449.35Z" fill="#ec3f25"/><path d="M320.86,440.75 L326.04,443.55 L320.86,446.35Z" fill="#fff" stroke="#ec3f25" stroke-width="0.8" stroke-linejoin="miter"/><path d="M322.4,441.59 L326.04,443.55 L322.4,445.52Z" fill="#ec3f25"/><path d="M317.03,437.73 L322.21,440.53 L317.03,443.33Z" fill="#fff" stroke="#ec3f25" stroke-width="0.8" stroke-linejoin="miter"/><path d="M318.57,438.57 L322.21,440.53 L318.57,442.5Z" fill="#ec3f25"/><path d="M313.2,436.16 L318.38,438.96 L313.2,441.76Z" fill="#fff" stroke="#ec3f25" stroke-width="0.8" stroke-linejoin="miter"/><path d="M314.74,436.99 L318.38,438.96 L314.74,440.93Z" fill="#ec3f25"/><path d="M309.38,435.75 L314.56,438.55 L309.38,441.35Z" fill="#fff" stroke="#ec3f25" stroke-width="0.8" stroke-linejoin="miter"/><path d="M310.92,436.58 L314.56,438.55 L310.92,440.51Z" fill="#ec3f25"/><path d="M305.55,435.45 L310.73,438.25 L305.55,441.05Z" fill="#fff" stroke="#ec3f25" stroke-width="0.8" stroke-linejoin="miter"/><path d="M307.09,436.28 L310.73,438.25 L307.09,440.21Z" fill="#ec3f25"/><path d="M301.72,435.21 L306.9,438.01 L301.72,440.81Z" fill="#fff" stroke="#ec3f25" stroke-width="0.8" stroke-linejoin="miter"/><path d="M303.26,436.04 L306.9,438.01 L303.26,439.97Z" fill="#ec3f25"/><path d="M297.89,434.68 L303.07,437.48 L297.89,440.28Z" fill="#fff" stroke="#ec3f25" stroke-width="0.8" stroke-linejoin="miter"/><path d="M299.43,435.51 L303.07,437.48 L299.43,439.45Z" fill="#ec3f25"/><path d="M294.07,433.41 L299.25,436.21 L294.07,439.01Z" fill="#fff" stroke="#ec3f25" stroke-width="0.8" stroke-linejoin="miter"/><path d="M295.61,434.25 L299.25,436.21 L295.61,438.18Z" fill="#ec3f25"/><path d="M290.24,431.79 L295.42,434.59 L290.24,437.39Z" fill="#fff" stroke="#ec3f25" stroke-width="0.8" stroke-linejoin="miter"/><path d="M291.78,432.63 L295.42,434.59 L291.78,436.56Z" fill="#ec3f25"/><path d="M286.41,429.61 L291.59,432.41 L286.41,435.21Z" fill="#fff" stroke="#ec3f25" stroke-width="0.8" stroke-linejoin="miter"/><path d="M287.95,430.44 L291.59,432.41 L287.95,434.38Z" fill="#ec3f25"/><path d="M282.59,425.66 L287.77,428.46 L282.59,431.26Z" fill="#fff" stroke="#ec3f25" stroke-width="0.8" stroke-linejoin="miter"/><path d="M284.13,426.49 L287.77,428.46 L284.13,430.42Z" fill="#ec3f25"/><path d="M278.76,419.5 L283.94,422.3 L278.76,425.1Z" fill="#fff" stroke="#ec3f25" stroke-width="0.8" stroke-linejoin="miter"/><path d="M280.3,420.33 L283.94,422.3 L280.3,424.27Z" fill="#ec3f25"/><path d="M274.93,412.18 L280.11,414.98 L274.93,417.78Z" fill="#fff" stroke="#ec3f25" stroke-width="0.8" stroke-linejoin="miter"/><path d="M276.47,413.01 L280.11,414.98 L276.47,416.94Z" fill="#ec3f25"/><path d="M271.11,403.85 L276.29,406.65 L271.11,409.45Z" fill="#fff" stroke="#ec3f25" stroke-width="0.8" stroke-linejoin="miter"/><path d="M272.65,404.68 L276.29,406.65 L272.65,408.62Z" fill="#ec3f25"/><path d="M267.28,394.81 L272.46,397.61 L267.28,400.41Z" fill="#fff" stroke="#ec3f25" stroke-width="0.8" stroke-linejoin="miter"/><path d="M268.82,395.64 L272.46,397.61 L268.82,399.57Z" fill="#ec3f25"/><path d="M263.45,385.95 L268.63,388.75 L263.45,391.55Z" fill="#fff" stroke="#ec3f25" stroke-width="0.8" stroke-linejoin="miter"/><path d="M264.99,386.78 L268.63,388.75 L264.99,390.71Z" fill="#ec3f25"/><path d="M259.62,376.15 L264.8,378.95 L259.62,381.75Z" fill="#fff" stroke="#ec3f25" stroke-width="0.8" stroke-linejoin="miter"/><path d="M261.16,376.98 L264.8,378.95 L261.16,380.92Z" fill="#ec3f25"/><path d="M255.8,364.4 L260.98,367.2 L255.8,370Z" fill="#fff" stroke="#ec3f25" stroke-width="0.8" stroke-linejoin="miter"/><path d="M257.34,365.23 L260.98,367.2 L257.34,369.17Z" fill="#ec3f25"/><path d="M251.97,351.5 L257.15,354.3 L251.97,357.1Z" fill="#fff" stroke="#ec3f25" stroke-width="0.8" stroke-linejoin="miter"/><path d="M253.51,352.33 L257.15,354.3 L253.51,356.26Z" fill="#ec3f25"/><path d="M248.14,339.18 L253.32,341.98 L248.14,344.78Z" fill="#fff" stroke="#ec3f25" stroke-width="0.8" stroke-linejoin="miter"/><path d="M249.68,340.01 L253.32,341.98 L249.68,343.95Z" fill="#ec3f25"/><path d="M244.32,327.9 L249.5,330.7 L244.32,333.5Z" fill="#fff" stroke="#ec3f25" stroke-width="0.8" stroke-linejoin="miter"/><path d="M245.86,328.73 L249.5,330.7 L245.86,332.67Z" fill="#ec3f25"/><path d="M240.49,319.71 L245.67,322.51 L240.49,325.31Z" fill="#fff" stroke="#ec3f25" stroke-width="0.8" stroke-linejoin="miter"/><path d="M242.03,320.54 L245.67,322.51 L242.03,324.48Z" fill="#ec3f25"/><path d="M236.66,311.78 L241.84,314.58 L236.66,317.38Z" fill="#fff" stroke="#ec3f25" stroke-width="0.8" stroke-linejoin="miter"/><path d="M238.2,312.61 L241.84,314.58 L238.2,316.55Z" fill="#ec3f25"/><path d="M232.84,304.31 L238.02,307.11 L232.84,309.91Z" fill="#fff" stroke="#ec3f25" stroke-width="0.8" stroke-linejoin="miter"/><path d="M234.38,305.15 L238.02,307.11 L234.38,309.08Z" fill="#ec3f25"/><path d="M229.01,298.03 L234.19,300.83 L229.01,303.63Z" fill="#fff" stroke="#ec3f25" stroke-width="0.8" stroke-linejoin="miter"/><path d="M230.55,298.86 L234.19,300.83 L230.55,302.8Z" fill="#ec3f25"/><path d="M225.18,293.56 L230.36,296.36 L225.18,299.16Z" fill="#fff" stroke="#ec3f25" stroke-width="0.8" stroke-linejoin="miter"/><path d="M226.72,294.39 L230.36,296.36 L226.72,298.33Z" fill="#ec3f25"/><path d="M221.35,290.02 L226.53,292.82 L221.35,295.62Z" fill="#fff" stroke="#ec3f25" stroke-width="0.8" stroke-linejoin="miter"/><path d="M222.89,290.86 L226.53,292.82 L222.89,294.79Z" fill="#ec3f25"/><path d="M217.53,287.06 L222.71,289.86 L217.53,292.66Z" fill="#fff" stroke="#ec3f25" stroke-width="0.8" stroke-linejoin="miter"/><path d="M219.07,287.9 L222.71,289.86 L219.07,291.83Z" fill="#ec3f25"/><path d="M213.7,284.63 L218.88,287.43 L213.7,290.23Z" fill="#fff" stroke="#ec3f25" stroke-width="0.8" stroke-linejoin="miter"/><path d="M215.24,285.46 L218.88,287.43 L215.24,289.4Z" fill="#ec3f25"/><path d="M209.87,282.5 L215.05,285.3 L209.87,288.1Z" fill="#fff" stroke="#ec3f25" stroke-width="0.8" stroke-linejoin="miter"/><path d="M211.41,283.33 L215.05,285.3 L211.41,287.27Z" fill="#ec3f25"/><path d="M206.05,281.01 L211.23,283.81 L206.05,286.61Z" fill="#fff" stroke="#ec3f25" stroke-width="0.8" stroke-linejoin="miter"/><path d="M207.59,281.84 L211.23,283.81 L207.59,285.77Z" fill="#ec3f25"/><path d="M202.22,280.02 L207.4,282.82 L202.22,285.62Z" fill="#fff" stroke="#ec3f25" stroke-width="0.8" stroke-linejoin="miter"/><path d="M203.76,280.85 L207.4,282.82 L203.76,284.79Z" fill="#ec3f25"/><path d="M198.39,279.6 L203.57,282.4 L198.39,285.2Z" fill="#fff" stroke="#ec3f25" stroke-width="0.8" stroke-linejoin="miter"/><path d="M199.93,280.44 L203.57,282.4 L199.93,284.37Z" fill="#ec3f25"/><path d="M194.56,280.21 L199.75,283.01 L194.56,285.81Z" fill="#fff" stroke="#ec3f25" stroke-width="0.8" stroke-linejoin="miter"/><path d="M196.1,281.04 L199.75,283.01 L196.1,284.97Z" fill="#ec3f25"/><path d="M190.74,281.16 L195.92,283.96 L190.74,286.76Z" fill="#fff" stroke="#ec3f25" stroke-width="0.8" stroke-linejoin="miter"/><path d="M192.28,281.99 L195.92,283.96 L192.28,285.93Z" fill="#ec3f25"/><path d="M186.91,282.21 L192.09,285.01 L186.91,287.81Z" fill="#fff" stroke="#ec3f25" stroke-width="0.8" stroke-linejoin="miter"/><path d="M188.45,283.04 L192.09,285.01 L188.45,286.98Z" fill="#ec3f25"/><path d="M183.08,283.66 L188.26,286.46 L183.08,289.26Z" fill="#fff" stroke="#ec3f25" stroke-width="0.8" stroke-linejoin="miter"/><path d="M184.62,284.49 L188.26,286.46 L184.62,288.42Z" fill="#ec3f25"/><path d="M179.26,285.89 L184.44,288.69 L179.26,291.49Z" fill="#fff" stroke="#ec3f25" stroke-width="0.8" stroke-linejoin="miter"/><path d="M180.8,286.72 L184.44,288.69 L180.8,290.66Z" fill="#ec3f25"/><path d="M175.43,288.7 L180.61,291.5 L175.43,294.3Z" fill="#fff" stroke="#ec3f25" stroke-width="0.8" stroke-linejoin="miter"/><path d="M176.97,289.53 L180.61,291.5 L176.97,293.47Z" fill="#ec3f25"/><path d="M171.6,292.28 L176.78,295.08 L171.6,297.88Z" fill="#fff" stroke="#ec3f25" stroke-width="0.8" stroke-linejoin="miter"/><path d="M173.14,293.11 L176.78,295.08 L173.14,297.05Z" fill="#ec3f25"/><path d="M167.78,295.65 L172.96,298.45 L167.78,301.25Z" fill="#fff" stroke="#ec3f25" stroke-width="0.8" stroke-linejoin="miter"/><path d="M169.32,296.48 L172.96,298.45 L169.32,300.42Z" fill="#ec3f25"/><path d="M163.95,298.66 L169.13,301.46 L163.95,304.26Z" fill="#fff" stroke="#ec3f25" stroke-width="0.8" stroke-linejoin="miter"/><path d="M165.49,299.5 L169.13,301.46 L165.49,303.43Z" fill="#ec3f25"/><path d="M160.12,302.09 L165.3,304.89 L160.12,307.69Z" fill="#fff" stroke="#ec3f25" stroke-width="0.8" stroke-linejoin="miter"/><path d="M161.66,302.92 L165.3,304.89 L161.66,306.85Z" fill="#ec3f25"/><path d="M156.3,306.14 L161.48,308.94 L156.3,311.74Z" fill="#fff" stroke="#ec3f25" stroke-width="0.8" stroke-linejoin="miter"/><path d="M157.84,306.97 L161.48,308.94 L157.84,310.91Z" fill="#ec3f25"/><path d="M152.47,311.05 L157.65,313.85 L152.47,316.65Z" fill="#fff" stroke="#ec3f25" stroke-width="0.8" stroke-linejoin="miter"/><path d="M154.01,311.88 L157.65,313.85 L154.01,315.82Z" fill="#ec3f25"/><path d="M148.64,317.89 L153.82,320.69 L148.64,323.49Z" fill="#fff" stroke="#ec3f25" stroke-width="0.8" stroke-linejoin="miter"/><path d="M150.18,318.72 L153.82,320.69 L150.18,322.66Z" fill="#ec3f25"/><path d="M144.81,324.9 L149.99,327.7 L144.81,330.5Z" fill="#fff" stroke="#ec3f25" stroke-width="0.8" stroke-linejoin="miter"/><path d="M146.35,325.73 L149.99,327.7 L146.35,329.67Z" fill="#ec3f25"/><path d="M140.99,332.54 L146.17,335.34 L140.99,338.14Z" fill="#fff" stroke="#ec3f25" stroke-width="0.8" stroke-linejoin="miter"/><path d="M142.53,333.37 L146.17,335.34 L142.53,337.31Z" fill="#ec3f25"/><path d="M137.16,341.41 L142.34,344.21 L137.16,347.01Z" fill="#fff" stroke="#ec3f25" stroke-width="0.8" stroke-linejoin="miter"/><path d="M138.7,342.25 L142.34,344.21 L138.7,346.18Z" fill="#ec3f25"/><path d="M133.33,347.75 L138.51,350.55 L133.33,353.35Z" fill="#fff" stroke="#ec3f25" stroke-width="0.8" stroke-linejoin="miter"/><path d="M134.87,348.58 L138.51,350.55 L134.87,352.52Z" fill="#ec3f25"/><path d="M129.51,358.4 L134.69,361.2 L129.51,364Z" fill="#fff" stroke="#ec3f25" stroke-width="0.8" stroke-linejoin="miter"/><path d="M131.05,359.23 L134.69,361.2 L131.05,363.16Z" fill="#ec3f25"/><path d="M125.68,368.26 L130.86,371.06 L125.68,373.86Z" fill="#fff" stroke="#ec3f25" stroke-width="0.8" stroke-linejoin="miter"/><path d="M127.22,369.09 L130.86,371.06 L127.22,373.03Z" fill="#ec3f25"/><path d="M121.85,379.1 L127.03,381.9 L121.85,384.7Z" fill="#fff" stroke="#ec3f25" stroke-width="0.8" stroke-linejoin="miter"/><path d="M123.39,379.93 L127.03,381.9 L123.39,383.87Z" fill="#ec3f25"/><path d="M118.03,388.69 L123.2,391.49 L118.03,394.29Z" fill="#fff" stroke="#ec3f25" stroke-width="0.8" stroke-linejoin="miter"/><path d="M119.56,389.52 L123.2,391.49 L119.56,393.46Z" fill="#ec3f25"/><path d="M114.2,398.17 L119.38,400.97 L114.2,403.77Z" fill="#fff" stroke="#ec3f25" stroke-width="0.8" stroke-linejoin="miter"/><path d="M115.74,399 L119.38,400.97 L115.74,402.94Z" fill="#ec3f25"/><path d="M110.37,405.21 L115.55,408.01 L110.37,410.81Z" fill="#fff" stroke="#ec3f25" stroke-width="0.8" stroke-linejoin="miter"/><path d="M111.91,406.04 L115.55,408.01 L111.91,409.98Z" fill="#ec3f25"/><path d="M106.54,415.15 L111.72,417.95 L106.54,420.75Z" fill="#fff" stroke="#ec3f25" stroke-width="0.8" stroke-linejoin="miter"/><path d="M108.08,415.98 L111.72,417.95 L108.08,419.92Z" fill="#ec3f25"/><path d="M102.72,421.36 L107.9,424.16 L102.72,426.96Z" fill="#fff" stroke="#ec3f25" stroke-width="0.8" stroke-linejoin="miter"/><path d="M104.26,422.19 L107.9,424.16 L104.26,426.13Z" fill="#ec3f25"/><path d="M98.89,426.76 L104.07,429.56 L98.89,432.36Z" fill="#fff" stroke="#ec3f25" stroke-width="0.8" stroke-linejoin="miter"/><path d="M100.43,427.59 L104.07,429.56 L100.43,431.52Z" fill="#ec3f25"/><path d="M95.06,431.9 L100.24,434.7 L95.06,437.5Z" fill="#fff" stroke="#ec3f25" stroke-width="0.8" stroke-linejoin="miter"/><path d="M96.6,432.73 L100.24,434.7 L96.6,436.67Z" fill="#ec3f25"/><path d="M91.24,436.43 L96.42,439.23 L91.24,442.03Z" fill="#fff" stroke="#ec3f25" stroke-width="0.8" stroke-linejoin="miter"/><path d="M92.78,437.27 L96.42,439.23 L92.78,441.2Z" fill="#ec3f25"/><path d="M87.41,438.9 L92.59,441.7 L87.41,444.5Z" fill="#fff" stroke="#ec3f25" stroke-width="0.8" stroke-linejoin="miter"/><path d="M88.95,439.73 L92.59,441.7 L88.95,443.67Z" fill="#ec3f25"/><path d="M83.58,441.39 L88.76,444.19 L83.58,446.99Z" fill="#fff" stroke="#ec3f25" stroke-width="0.8" stroke-linejoin="miter"/><path d="M85.12,442.22 L88.76,444.19 L85.12,446.16Z" fill="#ec3f25"/><path d="M79.75,443.78 L84.93,446.58 L79.75,449.38Z" fill="#fff" stroke="#ec3f25" stroke-width="0.8" stroke-linejoin="miter"/><path d="M81.29,444.61 L84.93,446.58 L81.29,448.54Z" fill="#ec3f25"/><path d="M75.93,445.73 L81.11,448.53 L75.93,451.33Z" fill="#fff" stroke="#ec3f25" stroke-width="0.8" stroke-linejoin="miter"/><path d="M77.47,446.57 L81.11,448.53 L77.47,450.5Z" fill="#ec3f25"/><path d="M72.1,447.44 L77.28,450.24 L72.1,453.04Z" fill="#fff" stroke="#ec3f25" stroke-width="0.8" stroke-linejoin="miter"/><path d="M73.64,448.28 L77.28,450.24 L73.64,452.21Z" fill="#ec3f25"/><path d="M68.27,447.9 L73.45,450.7 L68.27,453.5Z" fill="#fff" stroke="#ec3f25" stroke-width="0.8" stroke-linejoin="miter"/><path d="M69.81,448.73 L73.45,450.7 L69.81,452.67Z" fill="#ec3f25"/><path d="M64.45,447.9 L69.63,450.7 L64.45,453.5Z" fill="#fff" stroke="#ec3f25" stroke-width="0.8" stroke-linejoin="miter"/><path d="M65.99,448.73 L69.63,450.7 L65.99,452.67Z" fill="#ec3f25"/><path d="M60.62,447.9 L65.8,450.7 L60.62,453.5Z" fill="#fff" stroke="#ec3f25" stroke-width="0.8" stroke-linejoin="miter"/><path d="M62.16,448.73 L65.8,450.7 L62.16,452.67Z" fill="#ec3f25"/>
<circle cx="327.06" cy="475.87" r="2.6" fill="#fff" stroke="#7a1cf0" stroke-width="0.8"/><path d="M327.06,473.27 A2.6,2.6 0 0 1 327.06,478.47Z" fill="#7a1cf0"/><circle cx="323.24" cy="468.17" r="2.6" fill="#fff" stroke="#7a1cf0" stroke-width="0.8"/><path d="M323.24,465.57 A2.6,2.6 0 0 1 323.24,470.77Z" fill="#7a1cf0"/><circle cx="319.41" cy="458.78" r="2.6" fill="#fff" stroke="#7a1cf0" stroke-width="0.8"/><path d="M319.41,456.18 A2.6,2.6 0 0 1 319.41,461.38Z" fill="#7a1cf0"/><circle cx="315.58" cy="451.22" r="2.6" fill="#fff" stroke="#7a1cf0" stroke-width="0.8"/><path d="M315.58,448.62 A2.6,2.6 0 0 1 315.58,453.82Z" fill="#7a1cf0"/><circle cx="311.75" cy="442.44" r="2.6" fill="#fff" stroke="#7a1cf0" stroke-width="0.8"/><path d="M311.75,439.84 A2.6,2.6 0 0 1 311.75,445.04Z" fill="#7a1cf0"/><circle cx="307.93" cy="434.3" r="2.6" fill="#fff" stroke="#7a1cf0" stroke-width="0.8"/><path d="M307.93,431.7 A2.6,2.6 0 0 1 307.93,436.9Z" fill="#7a1cf0"/><circle cx="304.1" cy="426.08" r="2.6" fill="#fff" stroke="#7a1cf0" stroke-width="0.8"/><path d="M304.1,423.48 A2.6,2.6 0 0 1 304.1,428.68Z" fill="#7a1cf0"/><circle cx="300.27" cy="415.69" r="2.6" fill="#fff" stroke="#7a1cf0" stroke-width="0.8"/><path d="M300.27,413.09 A2.6,2.6 0 0 1 300.27,418.29Z" fill="#7a1cf0"/><circle cx="296.45" cy="406.92" r="2.6" fill="#fff" stroke="#7a1cf0" stroke-width="0.8"/><path d="M296.45,404.32 A2.6,2.6 0 0 1 296.45,409.52Z" fill="#7a1cf0"/><circle cx="292.62" cy="396.13" r="2.6" fill="#fff" stroke="#7a1cf0" stroke-width="0.8"/><path d="M292.62,393.53 A2.6,2.6 0 0 1 292.62,398.73Z" fill="#7a1cf0"/><circle cx="288.79" cy="383.65" r="2.6" fill="#fff" stroke="#7a1cf0" stroke-width="0.8"/><path d="M288.79,381.05 A2.6,2.6 0 0 1 288.79,386.25Z" fill="#7a1cf0"/><circle cx="284.97" cy="371.47" r="2.6" fill="#fff" stroke="#7a1cf0" stroke-width="0.8"/><path d="M284.97,368.87 A2.6,2.6 0 0 1 284.97,374.07Z" fill="#7a1cf0"/><circle cx="281.14" cy="361.43" r="2.6" fill="#fff" stroke="#7a1cf0" stroke-width="0.8"/><path d="M281.14,358.83 A2.6,2.6 0 0 1 281.14,364.03Z" fill="#7a1cf0"/><circle cx="277.31" cy="349.76" r="2.6" fill="#fff" stroke="#7a1cf0" stroke-width="0.8"/><path d="M277.31,347.16 A2.6,2.6 0 0 1 277.31,352.36Z" fill="#7a1cf0"/><circle cx="273.49" cy="339.55" r="2.6" fill="#fff" stroke="#7a1cf0" stroke-width="0.8"/><path d="M273.49,336.95 A2.6,2.6 0 0 1 273.49,342.15Z" fill="#7a1cf0"/><circle cx="269.66" cy="332.88" r="2.6" fill="#fff" stroke="#7a1cf0" stroke-width="0.8"/><path d="M269.66,330.28 A2.6,2.6 0 0 1 269.66,335.48Z" fill="#7a1cf0"/><circle cx="265.83" cy="325.67" r="2.6" fill="#fff" stroke="#7a1cf0" stroke-width="0.8"/><path d="M265.83,323.07 A2.6,2.6 0 0 1 265.83,328.27Z" fill="#7a1cf0"/><circle cx="262" cy="318.81" r="2.6" fill="#fff" stroke="#7a1cf0" stroke-width="0.8"/><path d="M262,316.21 A2.6,2.6 0 0 1 262,321.41Z" fill="#7a1cf0"/><circle cx="258.18" cy="313.97" r="2.6" fill="#fff" stroke="#7a1cf0" stroke-width="0.8"/><path d="M258.18,311.37 A2.6,2.6 0 0 1 258.18,316.57Z" fill="#7a1cf0"/><circle cx="254.35" cy="309.53" r="2.6" fill="#fff" stroke="#7a1cf0" stroke-width="0.8"/><path d="M254.35,306.93 A2.6,2.6 0 0 1 254.35,312.13Z" fill="#7a1cf0"/><circle cx="250.52" cy="305.62" r="2.6" fill="#fff" stroke="#7a1cf0" stroke-width="0.8"/><path d="M250.52,303.02 A2.6,2.6 0 0 1 250.52,308.22Z" fill="#7a1cf0"/><circle cx="246.7" cy="302.99" r="2.6" fill="#fff" stroke="#7a1cf0" stroke-width="0.8"/><path d="M246.7,300.39 A2.6,2.6 0 0 1 246.7,305.59Z" fill="#7a1cf0"/><circle cx="242.87" cy="300.67" r="2.6" fill="#fff" stroke="#7a1cf0" stroke-width="0.8"/><path d="M242.87,298.07 A2.6,2.6 0 0 1 242.87,303.27Z" fill="#7a1cf0"/><circle cx="239.04" cy="298.52" r="2.6" fill="#fff" stroke="#7a1cf0" stroke-width="0.8"/><path d="M239.04,295.92 A2.6,2.6 0 0 1 239.04,301.12Z" fill="#7a1cf0"/><circle cx="235.22" cy="296.3" r="2.6" fill="#fff" stroke="#7a1cf0" stroke-width="0.8"/><path d="M235.22,293.7 A2.6,2.6 0 0 1 235.22,298.9Z" fill="#7a1cf0"/><circle cx="231.39" cy="294.05" r="2.6" fill="#fff" stroke="#7a1cf0" stroke-width="0.8"/><path d="M231.39,291.45 A2.6,2.6 0 0 1 231.39,296.65Z" fill="#7a1cf0"/><circle cx="227.56" cy="291.93" r="2.6" fill="#fff" stroke="#7a1cf0" stroke-width="0.8"/><path d="M227.56,289.33 A2.6,2.6 0 0 1 227.56,294.53Z" fill="#7a1cf0"/><circle cx="223.73" cy="289.94" r="2.6" fill="#fff" stroke="#7a1cf0" stroke-width="0.8"/><path d="M223.73,287.34 A2.6,2.6 0 0 1 223.73,292.54Z" fill="#7a1cf0"/><circle cx="219.91" cy="288.11" r="2.6" fill="#fff" stroke="#7a1cf0" stroke-width="0.8"/><path d="M219.91,285.51 A2.6,2.6 0 0 1 219.91,290.71Z" fill="#7a1cf0"/><circle cx="216.08" cy="286.1" r="2.6" fill="#fff" stroke="#7a1cf0" stroke-width="0.8"/><path d="M216.08,283.5 A2.6,2.6 0 0 1 216.08,288.7Z" fill="#7a1cf0"/><circle cx="212.25" cy="284.68" r="2.6" fill="#fff" stroke="#7a1cf0" stroke-width="0.8"/><path d="M212.25,282.08 A2.6,2.6 0 0 1 212.25,287.28Z" fill="#7a1cf0"/><circle cx="208.43" cy="284.6" r="2.6" fill="#fff" stroke="#7a1cf0" stroke-width="0.8"/><path d="M208.43,282 A2.6,2.6 0 0 1 208.43,287.2Z" fill="#7a1cf0"/><circle cx="204.6" cy="284.6" r="2.6" fill="#fff" stroke="#7a1cf0" stroke-width="0.8"/><path d="M204.6,282 A2.6,2.6 0 0 1 204.6,287.2Z" fill="#7a1cf0"/><circle cx="200.77" cy="284.6" r="2.6" fill="#fff" stroke="#7a1cf0" stroke-width="0.8"/><path d="M200.77,282 A2.6,2.6 0 0 1 200.77,287.2Z" fill="#7a1cf0"/><circle cx="196.94" cy="285.18" r="2.6" fill="#fff" stroke="#7a1cf0" stroke-width="0.8"/><path d="M196.94,282.58 A2.6,2.6 0 0 1 196.94,287.78Z" fill="#7a1cf0"/><circle cx="193.12" cy="286.19" r="2.6" fill="#fff" stroke="#7a1cf0" stroke-width="0.8"/><path d="M193.12,283.59 A2.6,2.6 0 0 1 193.12,288.79Z" fill="#7a1cf0"/><circle cx="189.29" cy="287.64" r="2.6" fill="#fff" stroke="#7a1cf0" stroke-width="0.8"/><path d="M189.29,285.04 A2.6,2.6 0 0 1 189.29,290.24Z" fill="#7a1cf0"/><circle cx="185.46" cy="289.57" r="2.6" fill="#fff" stroke="#7a1cf0" stroke-width="0.8"/><path d="M185.46,286.97 A2.6,2.6 0 0 1 185.46,292.17Z" fill="#7a1cf0"/><circle cx="181.64" cy="292.13" r="2.6" fill="#fff" stroke="#7a1cf0" stroke-width="0.8"/><path d="M181.64,289.53 A2.6,2.6 0 0 1 181.64,294.73Z" fill="#7a1cf0"/><circle cx="177.81" cy="295.4" r="2.6" fill="#fff" stroke="#7a1cf0" stroke-width="0.8"/><path d="M177.81,292.8 A2.6,2.6 0 0 1 177.81,298Z" fill="#7a1cf0"/><circle cx="173.98" cy="299.69" r="2.6" fill="#fff" stroke="#7a1cf0" stroke-width="0.8"/><path d="M173.98,297.09 A2.6,2.6 0 0 1 173.98,302.29Z" fill="#7a1cf0"/><circle cx="170.16" cy="303.94" r="2.6" fill="#fff" stroke="#7a1cf0" stroke-width="0.8"/><path d="M170.16,301.34 A2.6,2.6 0 0 1 170.16,306.54Z" fill="#7a1cf0"/><circle cx="166.33" cy="308.37" r="2.6" fill="#fff" stroke="#7a1cf0" stroke-width="0.8"/><path d="M166.33,305.77 A2.6,2.6 0 0 1 166.33,310.97Z" fill="#7a1cf0"/><circle cx="162.5" cy="315.8" r="2.6" fill="#fff" stroke="#7a1cf0" stroke-width="0.8"/><path d="M162.5,313.2 A2.6,2.6 0 0 1 162.5,318.4Z" fill="#7a1cf0"/><circle cx="158.68" cy="321.85" r="2.6" fill="#fff" stroke="#7a1cf0" stroke-width="0.8"/><path d="M158.68,319.25 A2.6,2.6 0 0 1 158.68,324.45Z" fill="#7a1cf0"/><circle cx="154.85" cy="328.25" r="2.6" fill="#fff" stroke="#7a1cf0" stroke-width="0.8"/><path d="M154.85,325.65 A2.6,2.6 0 0 1 154.85,330.85Z" fill="#7a1cf0"/><circle cx="151.02" cy="336.95" r="2.6" fill="#fff" stroke="#7a1cf0" stroke-width="0.8"/><path d="M151.02,334.35 A2.6,2.6 0 0 1 151.02,339.55Z" fill="#7a1cf0"/><circle cx="147.19" cy="343.59" r="2.6" fill="#fff" stroke="#7a1cf0" stroke-width="0.8"/><path d="M147.19,340.99 A2.6,2.6 0 0 1 147.19,346.19Z" fill="#7a1cf0"/><circle cx="143.37" cy="351.49" r="2.6" fill="#fff" stroke="#7a1cf0" stroke-width="0.8"/><path d="M143.37,348.89 A2.6,2.6 0 0 1 143.37,354.09Z" fill="#7a1cf0"/><circle cx="139.54" cy="360.5" r="2.6" fill="#fff" stroke="#7a1cf0" stroke-width="0.8"/><path d="M139.54,357.9 A2.6,2.6 0 0 1 139.54,363.1Z" fill="#7a1cf0"/><circle cx="135.71" cy="366.97" r="2.6" fill="#fff" stroke="#7a1cf0" stroke-width="0.8"/><path d="M135.71,364.37 A2.6,2.6 0 0 1 135.71,369.57Z" fill="#7a1cf0"/><circle cx="131.89" cy="374.42" r="2.6" fill="#fff" stroke="#7a1cf0" stroke-width="0.8"/><path d="M131.89,371.82 A2.6,2.6 0 0 1 131.89,377.02Z" fill="#7a1cf0"/><circle cx="128.06" cy="382.09" r="2.6" fill="#fff" stroke="#7a1cf0" stroke-width="0.8"/><path d="M128.06,379.49 A2.6,2.6 0 0 1 128.06,384.69Z" fill="#7a1cf0"/><circle cx="124.23" cy="389.09" r="2.6" fill="#fff" stroke="#7a1cf0" stroke-width="0.8"/><path d="M124.23,386.49 A2.6,2.6 0 0 1 124.23,391.69Z" fill="#7a1cf0"/><circle cx="120.41" cy="396.09" r="2.6" fill="#fff" stroke="#7a1cf0" stroke-width="0.8"/><path d="M120.41,393.49 A2.6,2.6 0 0 1 120.41,398.69Z" fill="#7a1cf0"/><circle cx="116.58" cy="403.09" r="2.6" fill="#fff" stroke="#7a1cf0" stroke-width="0.8"/><path d="M116.58,400.49 A2.6,2.6 0 0 1 116.58,405.69Z" fill="#7a1cf0"/><circle cx="112.75" cy="404.7" r="2.6" fill="#fff" stroke="#7a1cf0" stroke-width="0.8"/><path d="M112.75,402.1 A2.6,2.6 0 0 1 112.75,407.3Z" fill="#7a1cf0"/><circle cx="108.92" cy="408.4" r="2.6" fill="#fff" stroke="#7a1cf0" stroke-width="0.8"/><path d="M108.92,405.8 A2.6,2.6 0 0 1 108.92,411Z" fill="#7a1cf0"/><circle cx="105.1" cy="413.4" r="2.6" fill="#fff" stroke="#7a1cf0" stroke-width="0.8"/><path d="M105.1,410.8 A2.6,2.6 0 0 1 105.1,416Z" fill="#7a1cf0"/><circle cx="101.27" cy="407.7" r="2.6" fill="#fff" stroke="#7a1cf0" stroke-width="0.8"/><path d="M101.27,405.1 A2.6,2.6 0 0 1 101.27,410.3Z" fill="#7a1cf0"/><circle cx="97.44" cy="415.9" r="2.6" fill="#fff" stroke="#7a1cf0" stroke-width="0.8"/><path d="M97.44,413.3 A2.6,2.6 0 0 1 97.44,418.5Z" fill="#7a1cf0"/><circle cx="93.62" cy="419.6" r="2.6" fill="#fff" stroke="#7a1cf0" stroke-width="0.8"/><path d="M93.62,417 A2.6,2.6 0 0 1 93.62,422.2Z" fill="#7a1cf0"/><circle cx="89.79" cy="419.1" r="2.6" fill="#fff" stroke="#7a1cf0" stroke-width="0.8"/><path d="M89.79,416.5 A2.6,2.6 0 0 1 89.79,421.7Z" fill="#7a1cf0"/><circle cx="85.96" cy="432.8" r="2.6" fill="#fff" stroke="#7a1cf0" stroke-width="0.8"/><path d="M85.96,430.2 A2.6,2.6 0 0 1 85.96,435.4Z" fill="#7a1cf0"/><circle cx="82.13" cy="433.3" r="2.6" fill="#fff" stroke="#7a1cf0" stroke-width="0.8"/><path d="M82.13,430.7 A2.6,2.6 0 0 1 82.13,435.9Z" fill="#7a1cf0"/><circle cx="78.31" cy="440.7" r="2.6" fill="#fff" stroke="#7a1cf0" stroke-width="0.8"/><path d="M78.31,438.1 A2.6,2.6 0 0 1 78.31,443.3Z" fill="#7a1cf0"/><circle cx="74.48" cy="432" r="2.6" fill="#fff" stroke="#7a1cf0" stroke-width="0.8"/><path d="M74.48,429.4 A2.6,2.6 0 0 1 74.48,434.6Z" fill="#7a1cf0"/>
<rect x="58.7" y="270.8" width="279.40" height="221.50" fill="none" stroke="#5a5a5e" stroke-width="1.35"/>
<path d="M58.7,479.3h4 M58.7,427.4h4 M58.7,375.5h4 M58.7,323.6h4" stroke="#5a5a5e" stroke-width="1.2" fill="none"/>
<path d="M58.7,453.35h2.5 M58.7,401.45h2.5 M58.7,349.55h2.5 M58.7,297.65h2.5" stroke="#5a5a5e" stroke-width="1.0" fill="none"/>
<path d="M96.97,492.3v-4 M135.24,492.3v-4 M173.51,492.3v-4 M211.78,492.3v-4 M250.05,492.3v-4 M288.32,492.3v-4 M326.59,492.3v-4" stroke="#5a5a5e" stroke-width="1.2" fill="none"/>
<path d="M70.22,492.3v-2.3 M76.96,492.3v-2.3 M81.74,492.3v-2.3 M85.45,492.3v-2.3 M88.48,492.3v-2.3 M91.04,492.3v-2.3 M93.26,492.3v-2.3 M95.22,492.3v-2.3 M108.49,492.3v-2.3 M115.23,492.3v-2.3 M120.01,492.3v-2.3 M123.72,492.3v-2.3 M126.75,492.3v-2.3 M129.31,492.3v-2.3 M131.53,492.3v-2.3 M133.49,492.3v-2.3 M146.76,492.3v-2.3 M153.5,492.3v-2.3 M158.28,492.3v-2.3 M161.99,492.3v-2.3 M165.02,492.3v-2.3 M167.58,492.3v-2.3 M169.8,492.3v-2.3 M171.76,492.3v-2.3 M185.03,492.3v-2.3 M191.77,492.3v-2.3 M196.55,492.3v-2.3 M200.26,492.3v-2.3 M203.29,492.3v-2.3 M205.85,492.3v-2.3 M208.07,492.3v-2.3 M210.03,492.3v-2.3 M223.3,492.3v-2.3 M230.04,492.3v-2.3 M234.82,492.3v-2.3 M238.53,492.3v-2.3 M241.56,492.3v-2.3 M244.12,492.3v-2.3 M246.34,492.3v-2.3 M248.3,492.3v-2.3 M261.57,492.3v-2.3 M268.31,492.3v-2.3 M273.09,492.3v-2.3 M276.8,492.3v-2.3 M279.83,492.3v-2.3 M282.39,492.3v-2.3 M284.61,492.3v-2.3 M286.57,492.3v-2.3 M299.84,492.3v-2.3 M306.58,492.3v-2.3 M311.36,492.3v-2.3 M315.07,492.3v-2.3 M318.1,492.3v-2.3 M320.66,492.3v-2.3 M322.88,492.3v-2.3 M324.84,492.3v-2.3" stroke="#5a5a5e" stroke-width="0.9" fill="none"/>
<text x="54.2" y="483.7" font-size="12.8" text-anchor="end" fill="#111" font-weight="normal">0</text>
<text x="54.2" y="431.8" font-size="12.8" text-anchor="end" fill="#111" font-weight="normal">20</text>
<text x="54.2" y="379.9" font-size="12.8" text-anchor="end" fill="#111" font-weight="normal">40</text>
<text x="54.2" y="328" font-size="12.8" text-anchor="end" fill="#111" font-weight="normal">60</text>
<text x="54.2" y="276.1" font-size="12.8" text-anchor="end" fill="#111" font-weight="normal">80</text>
<text x="58.7" y="509.5" font-size="12.8" text-anchor="middle" fill="#111" font-weight="normal">10<tspan font-size="8.5" dy="-5.5">-2</tspan></text>
<text x="96.97" y="509.5" font-size="12.8" text-anchor="middle" fill="#111" font-weight="normal">10<tspan font-size="8.5" dy="-5.5">-1</tspan></text>
<text x="135.24" y="509.5" font-size="12.8" text-anchor="middle" fill="#111" font-weight="normal">10<tspan font-size="8.5" dy="-5.5">0</tspan></text>
<text x="173.51" y="509.5" font-size="12.8" text-anchor="middle" fill="#111" font-weight="normal">10<tspan font-size="8.5" dy="-5.5">1</tspan></text>
<text x="211.78" y="509.5" font-size="12.8" text-anchor="middle" fill="#111" font-weight="normal">10<tspan font-size="8.5" dy="-5.5">2</tspan></text>
<text x="250.05" y="509.5" font-size="12.8" text-anchor="middle" fill="#111" font-weight="normal">10<tspan font-size="8.5" dy="-5.5">3</tspan></text>
<text x="288.32" y="509.5" font-size="12.8" text-anchor="middle" fill="#111" font-weight="normal">10<tspan font-size="8.5" dy="-5.5">4</tspan></text>
<text x="326.59" y="509.5" font-size="12.8" text-anchor="middle" fill="#111" font-weight="normal">10<tspan font-size="8.5" dy="-5.5">5</tspan></text>
<line x1="63.6" y1="282.9" x2="91.6" y2="282.9" stroke="#5cc6ea" stroke-width="1"/>
<rect x="76.2" y="280.7" width="4.4" height="4.4" fill="#fff" stroke="#5cc6ea" stroke-width="0.6"/><rect x="78.4" y="280.7" width="2.2" height="4.4" fill="#5cc6ea"/>
<text x="95.2" y="287.2" font-size="12.5" fill="#111">S0</text>
<line x1="63.6" y1="298.7" x2="91.6" y2="298.7" stroke="#7a1cf0" stroke-width="1"/>
<circle cx="78.4" cy="298.7" r="2.6" fill="#fff" stroke="#7a1cf0" stroke-width="0.6"/><path d="M78.4,296.1 A2.6,2.6 0 0 1 78.4,301.3Z" fill="#7a1cf0"/>
<text x="95.2" y="303.0" font-size="12.5" fill="#111">S25</text>
<line x1="63.6" y1="313.9" x2="91.6" y2="313.9" stroke="#ec3f25" stroke-width="1"/>
<path d="M75.94,311 L81.3,313.9 L75.94,316.8Z" fill="#fff" stroke="#ec3f25" stroke-width="0.7" stroke-linejoin="miter"/><path d="M77.53,311.86 L81.3,313.9 L77.53,315.94Z" fill="#ec3f25"/>
<text x="95.2" y="318.2" font-size="12.5" fill="#111">S50</text>
<line x1="63.6" y1="329.2" x2="91.6" y2="329.2" stroke="#ecc948" stroke-width="1"/>
<path d="M78.4,326.2 L79.28,327.99 L81.25,328.27 L79.83,329.66 L80.16,331.63 L78.4,330.7 L76.64,331.63 L76.97,329.66 L75.55,328.27 L77.52,327.99Z" fill="#f6dc78" stroke="#ecc948" stroke-width="0.6"/>
<text x="95.2" y="333.5" font-size="12.5" fill="#111">S100</text>
<text transform="translate(33.2,382.5) rotate(-90)" font-size="19" text-anchor="middle" fill="#111">-Phase of Z (deg)</text>
<text x="199" y="524.6" font-size="19" text-anchor="middle" fill="#111">Frequency (Hz)</text>
<rect x="393.2" y="271.5" width="279.50" height="220.90" fill="url(#bg)"/>
<rect x="630.59" y="454.04" width="4.4" height="4.4" fill="#fff" stroke="#5cc6ea" stroke-width="0.8"/><rect x="632.79" y="454.04" width="2.2" height="4.4" fill="#5cc6ea"/><rect x="626.59" y="453.65" width="4.4" height="4.4" fill="#fff" stroke="#5cc6ea" stroke-width="0.8"/><rect x="628.79" y="453.65" width="2.2" height="4.4" fill="#5cc6ea"/><rect x="622.6" y="453.05" width="4.4" height="4.4" fill="#fff" stroke="#5cc6ea" stroke-width="0.8"/><rect x="624.8" y="453.05" width="2.2" height="4.4" fill="#5cc6ea"/><rect x="618.61" y="452.3" width="4.4" height="4.4" fill="#fff" stroke="#5cc6ea" stroke-width="0.8"/><rect x="620.81" y="452.3" width="2.2" height="4.4" fill="#5cc6ea"/><rect x="614.61" y="451.26" width="4.4" height="4.4" fill="#fff" stroke="#5cc6ea" stroke-width="0.8"/><rect x="616.81" y="451.26" width="2.2" height="4.4" fill="#5cc6ea"/><rect x="610.62" y="449.93" width="4.4" height="4.4" fill="#fff" stroke="#5cc6ea" stroke-width="0.8"/><rect x="612.82" y="449.93" width="2.2" height="4.4" fill="#5cc6ea"/><rect x="606.63" y="448.26" width="4.4" height="4.4" fill="#fff" stroke="#5cc6ea" stroke-width="0.8"/><rect x="608.83" y="448.26" width="2.2" height="4.4" fill="#5cc6ea"/><rect x="602.64" y="446.41" width="4.4" height="4.4" fill="#fff" stroke="#5cc6ea" stroke-width="0.8"/><rect x="604.84" y="446.41" width="2.2" height="4.4" fill="#5cc6ea"/><rect x="598.64" y="444.35" width="4.4" height="4.4" fill="#fff" stroke="#5cc6ea" stroke-width="0.8"/><rect x="600.84" y="444.35" width="2.2" height="4.4" fill="#5cc6ea"/><rect x="594.65" y="442.06" width="4.4" height="4.4" fill="#fff" stroke="#5cc6ea" stroke-width="0.8"/><rect x="596.85" y="442.06" width="2.2" height="4.4" fill="#5cc6ea"/><rect x="590.66" y="439.69" width="4.4" height="4.4" fill="#fff" stroke="#5cc6ea" stroke-width="0.8"/><rect x="592.86" y="439.69" width="2.2" height="4.4" fill="#5cc6ea"/><rect x="586.66" y="437.55" width="4.4" height="4.4" fill="#fff" stroke="#5cc6ea" stroke-width="0.8"/><rect x="588.86" y="437.55" width="2.2" height="4.4" fill="#5cc6ea"/><rect x="582.67" y="435.42" width="4.4" height="4.4" fill="#fff" stroke="#5cc6ea" stroke-width="0.8"/><rect x="584.87" y="435.42" width="2.2" height="4.4" fill="#5cc6ea"/><rect x="578.68" y="433.16" width="4.4" height="4.4" fill="#fff" stroke="#5cc6ea" stroke-width="0.8"/><rect x="580.88" y="433.16" width="2.2" height="4.4" fill="#5cc6ea"/><rect x="574.68" y="430.82" width="4.4" height="4.4" fill="#fff" stroke="#5cc6ea" stroke-width="0.8"/><rect x="576.88" y="430.82" width="2.2" height="4.4" fill="#5cc6ea"/><rect x="570.69" y="428.41" width="4.4" height="4.4" fill="#fff" stroke="#5cc6ea" stroke-width="0.8"/><rect x="572.89" y="428.41" width="2.2" height="4.4" fill="#5cc6ea"/><rect x="566.7" y="425.77" width="4.4" height="4.4" fill="#fff" stroke="#5cc6ea" stroke-width="0.8"/><rect x="568.9" y="425.77" width="2.2" height="4.4" fill="#5cc6ea"/><rect x="562.71" y="422.78" width="4.4" height="4.4" fill="#fff" stroke="#5cc6ea" stroke-width="0.8"/><rect x="564.91" y="422.78" width="2.2" height="4.4" fill="#5cc6ea"/><rect x="558.71" y="419.7" width="4.4" height="4.4" fill="#fff" stroke="#5cc6ea" stroke-width="0.8"/><rect x="560.91" y="419.7" width="2.2" height="4.4" fill="#5cc6ea"/><rect x="554.72" y="416.54" width="4.4" height="4.4" fill="#fff" stroke="#5cc6ea" stroke-width="0.8"/><rect x="556.92" y="416.54" width="2.2" height="4.4" fill="#5cc6ea"/><rect x="550.73" y="413.08" width="4.4" height="4.4" fill="#fff" stroke="#5cc6ea" stroke-width="0.8"/><rect x="552.93" y="413.08" width="2.2" height="4.4" fill="#5cc6ea"/><rect x="546.73" y="409.27" width="4.4" height="4.4" fill="#fff" stroke="#5cc6ea" stroke-width="0.8"/><rect x="548.93" y="409.27" width="2.2" height="4.4" fill="#5cc6ea"/><rect x="542.74" y="404.83" width="4.4" height="4.4" fill="#fff" stroke="#5cc6ea" stroke-width="0.8"/><rect x="544.94" y="404.83" width="2.2" height="4.4" fill="#5cc6ea"/><rect x="538.75" y="400.23" width="4.4" height="4.4" fill="#fff" stroke="#5cc6ea" stroke-width="0.8"/><rect x="540.95" y="400.23" width="2.2" height="4.4" fill="#5cc6ea"/><rect x="534.75" y="396.43" width="4.4" height="4.4" fill="#fff" stroke="#5cc6ea" stroke-width="0.8"/><rect x="536.95" y="396.43" width="2.2" height="4.4" fill="#5cc6ea"/><rect x="530.76" y="392.94" width="4.4" height="4.4" fill="#fff" stroke="#5cc6ea" stroke-width="0.8"/><rect x="532.96" y="392.94" width="2.2" height="4.4" fill="#5cc6ea"/><rect x="526.77" y="389.57" width="4.4" height="4.4" fill="#fff" stroke="#5cc6ea" stroke-width="0.8"/><rect x="528.97" y="389.57" width="2.2" height="4.4" fill="#5cc6ea"/><rect x="522.78" y="386.33" width="4.4" height="4.4" fill="#fff" stroke="#5cc6ea" stroke-width="0.8"/><rect x="524.98" y="386.33" width="2.2" height="4.4" fill="#5cc6ea"/><rect x="518.78" y="383.24" width="4.4" height="4.4" fill="#fff" stroke="#5cc6ea" stroke-width="0.8"/><rect x="520.98" y="383.24" width="2.2" height="4.4" fill="#5cc6ea"/><rect x="514.79" y="380.28" width="4.4" height="4.4" fill="#fff" stroke="#5cc6ea" stroke-width="0.8"/><rect x="516.99" y="380.28" width="2.2" height="4.4" fill="#5cc6ea"/><rect x="510.8" y="377.45" width="4.4" height="4.4" fill="#fff" stroke="#5cc6ea" stroke-width="0.8"/><rect x="513" y="377.45" width="2.2" height="4.4" fill="#5cc6ea"/><rect x="506.8" y="374.73" width="4.4" height="4.4" fill="#fff" stroke="#5cc6ea" stroke-width="0.8"/><rect x="509" y="374.73" width="2.2" height="4.4" fill="#5cc6ea"/><rect x="502.81" y="372.1" width="4.4" height="4.4" fill="#fff" stroke="#5cc6ea" stroke-width="0.8"/><rect x="505.01" y="372.1" width="2.2" height="4.4" fill="#5cc6ea"/><rect x="498.82" y="369.58" width="4.4" height="4.4" fill="#fff" stroke="#5cc6ea" stroke-width="0.8"/><rect x="501.02" y="369.58" width="2.2" height="4.4" fill="#5cc6ea"/><rect x="494.82" y="367.13" width="4.4" height="4.4" fill="#fff" stroke="#5cc6ea" stroke-width="0.8"/><rect x="497.02" y="367.13" width="2.2" height="4.4" fill="#5cc6ea"/><rect x="490.83" y="364.7" width="4.4" height="4.4" fill="#fff" stroke="#5cc6ea" stroke-width="0.8"/><rect x="493.03" y="364.7" width="2.2" height="4.4" fill="#5cc6ea"/><rect x="486.84" y="362.17" width="4.4" height="4.4" fill="#fff" stroke="#5cc6ea" stroke-width="0.8"/><rect x="489.04" y="362.17" width="2.2" height="4.4" fill="#5cc6ea"/><rect x="482.85" y="359.65" width="4.4" height="4.4" fill="#fff" stroke="#5cc6ea" stroke-width="0.8"/><rect x="485.05" y="359.65" width="2.2" height="4.4" fill="#5cc6ea"/><rect x="478.85" y="357.35" width="4.4" height="4.4" fill="#fff" stroke="#5cc6ea" stroke-width="0.8"/><rect x="481.05" y="357.35" width="2.2" height="4.4" fill="#5cc6ea"/><rect x="474.86" y="355.35" width="4.4" height="4.4" fill="#fff" stroke="#5cc6ea" stroke-width="0.8"/><rect x="477.06" y="355.35" width="2.2" height="4.4" fill="#5cc6ea"/><rect x="470.87" y="353.5" width="4.4" height="4.4" fill="#fff" stroke="#5cc6ea" stroke-width="0.8"/><rect x="473.07" y="353.5" width="2.2" height="4.4" fill="#5cc6ea"/><rect x="466.87" y="351.92" width="4.4" height="4.4" fill="#fff" stroke="#5cc6ea" stroke-width="0.8"/><rect x="469.07" y="351.92" width="2.2" height="4.4" fill="#5cc6ea"/><rect x="462.88" y="350.67" width="4.4" height="4.4" fill="#fff" stroke="#5cc6ea" stroke-width="0.8"/><rect x="465.08" y="350.67" width="2.2" height="4.4" fill="#5cc6ea"/><rect x="458.89" y="349.59" width="4.4" height="4.4" fill="#fff" stroke="#5cc6ea" stroke-width="0.8"/><rect x="461.09" y="349.59" width="2.2" height="4.4" fill="#5cc6ea"/><rect x="454.89" y="348.63" width="4.4" height="4.4" fill="#fff" stroke="#5cc6ea" stroke-width="0.8"/><rect x="457.09" y="348.63" width="2.2" height="4.4" fill="#5cc6ea"/><rect x="450.9" y="347.75" width="4.4" height="4.4" fill="#fff" stroke="#5cc6ea" stroke-width="0.8"/><rect x="453.1" y="347.75" width="2.2" height="4.4" fill="#5cc6ea"/><rect x="446.91" y="346.95" width="4.4" height="4.4" fill="#fff" stroke="#5cc6ea" stroke-width="0.8"/><rect x="449.11" y="346.95" width="2.2" height="4.4" fill="#5cc6ea"/><rect x="442.92" y="346.2" width="4.4" height="4.4" fill="#fff" stroke="#5cc6ea" stroke-width="0.8"/><rect x="445.12" y="346.2" width="2.2" height="4.4" fill="#5cc6ea"/><rect x="438.92" y="345.48" width="4.4" height="4.4" fill="#fff" stroke="#5cc6ea" stroke-width="0.8"/><rect x="441.12" y="345.48" width="2.2" height="4.4" fill="#5cc6ea"/><rect x="434.93" y="344.81" width="4.4" height="4.4" fill="#fff" stroke="#5cc6ea" stroke-width="0.8"/><rect x="437.13" y="344.81" width="2.2" height="4.4" fill="#5cc6ea"/><rect x="430.94" y="344.21" width="4.4" height="4.4" fill="#fff" stroke="#5cc6ea" stroke-width="0.8"/><rect x="433.14" y="344.21" width="2.2" height="4.4" fill="#5cc6ea"/><rect x="426.94" y="343.64" width="4.4" height="4.4" fill="#fff" stroke="#5cc6ea" stroke-width="0.8"/><rect x="429.14" y="343.64" width="2.2" height="4.4" fill="#5cc6ea"/><rect x="422.95" y="343.08" width="4.4" height="4.4" fill="#fff" stroke="#5cc6ea" stroke-width="0.8"/><rect x="425.15" y="343.08" width="2.2" height="4.4" fill="#5cc6ea"/><rect x="418.96" y="342.52" width="4.4" height="4.4" fill="#fff" stroke="#5cc6ea" stroke-width="0.8"/><rect x="421.16" y="342.52" width="2.2" height="4.4" fill="#5cc6ea"/><rect x="414.96" y="341.93" width="4.4" height="4.4" fill="#fff" stroke="#5cc6ea" stroke-width="0.8"/><rect x="417.16" y="341.93" width="2.2" height="4.4" fill="#5cc6ea"/><rect x="410.97" y="341.31" width="4.4" height="4.4" fill="#fff" stroke="#5cc6ea" stroke-width="0.8"/><rect x="413.17" y="341.31" width="2.2" height="4.4" fill="#5cc6ea"/><rect x="406.98" y="340.67" width="4.4" height="4.4" fill="#fff" stroke="#5cc6ea" stroke-width="0.8"/><rect x="409.18" y="340.67" width="2.2" height="4.4" fill="#5cc6ea"/><rect x="402.99" y="340.02" width="4.4" height="4.4" fill="#fff" stroke="#5cc6ea" stroke-width="0.8"/><rect x="405.19" y="340.02" width="2.2" height="4.4" fill="#5cc6ea"/><rect x="398.99" y="339.37" width="4.4" height="4.4" fill="#fff" stroke="#5cc6ea" stroke-width="0.8"/><rect x="401.19" y="339.37" width="2.2" height="4.4" fill="#5cc6ea"/><rect x="395" y="338.7" width="4.4" height="4.4" fill="#fff" stroke="#5cc6ea" stroke-width="0.8"/><rect x="397.2" y="338.7" width="2.2" height="4.4" fill="#5cc6ea"/>
<path d="M632.79,461.09 L633.61,462.76 L635.45,463.03 L634.12,464.33 L634.43,466.16 L632.79,465.29 L631.14,466.16 L631.46,464.33 L630.12,463.03 L631.96,462.76Z" fill="#f6dc78" stroke="#ecc948" stroke-width="0.6"/><path d="M628.79,460.3 L629.62,461.97 L631.46,462.24 L630.13,463.53 L630.44,465.37 L628.79,464.5 L627.15,465.37 L627.46,463.53 L626.13,462.24 L627.97,461.97Z" fill="#f6dc78" stroke="#ecc948" stroke-width="0.6"/><path d="M624.8,459.22 L625.62,460.89 L627.46,461.15 L626.13,462.45 L626.45,464.28 L624.8,463.42 L623.16,464.28 L623.47,462.45 L622.14,461.15 L623.98,460.89Z" fill="#f6dc78" stroke="#ecc948" stroke-width="0.6"/><path d="M620.81,457.89 L621.63,459.56 L623.47,459.83 L622.14,461.13 L622.45,462.96 L620.81,462.09 L619.16,462.96 L619.48,461.13 L618.15,459.83 L619.99,459.56Z" fill="#f6dc78" stroke="#ecc948" stroke-width="0.6"/><path d="M616.81,456.18 L617.64,457.85 L619.48,458.12 L618.15,459.42 L618.46,461.25 L616.81,460.38 L615.17,461.25 L615.48,459.42 L614.15,458.12 L615.99,457.85Z" fill="#f6dc78" stroke="#ecc948" stroke-width="0.6"/><path d="M612.82,454.35 L613.64,456.01 L615.48,456.28 L614.15,457.58 L614.47,459.41 L612.82,458.55 L611.18,459.41 L611.49,457.58 L610.16,456.28 L612,456.01Z" fill="#f6dc78" stroke="#ecc948" stroke-width="0.6"/><path d="M608.83,452.34 L609.65,454.01 L611.49,454.28 L610.16,455.58 L610.47,457.41 L608.83,456.54 L607.18,457.41 L607.5,455.58 L606.17,454.28 L608.01,454.01Z" fill="#f6dc78" stroke="#ecc948" stroke-width="0.6"/><path d="M604.84,450.1 L605.66,451.77 L607.5,452.04 L606.17,453.34 L606.48,455.17 L604.84,454.3 L603.19,455.17 L603.5,453.34 L602.17,452.04 L604.01,451.77Z" fill="#f6dc78" stroke="#ecc948" stroke-width="0.6"/><path d="M600.84,447.75 L601.67,449.42 L603.51,449.68 L602.17,450.98 L602.49,452.81 L600.84,451.95 L599.2,452.81 L599.51,450.98 L598.18,449.68 L600.02,449.42Z" fill="#f6dc78" stroke="#ecc948" stroke-width="0.6"/><path d="M596.85,445.75 L597.67,447.41 L599.51,447.68 L598.18,448.98 L598.5,450.81 L596.85,449.95 L595.2,450.81 L595.52,448.98 L594.19,447.68 L596.03,447.41Z" fill="#f6dc78" stroke="#ecc948" stroke-width="0.6"/><path d="M592.86,443.78 L593.68,445.45 L595.52,445.72 L594.19,447.02 L594.5,448.85 L592.86,447.98 L591.21,448.85 L591.53,447.02 L590.19,445.72 L592.03,445.45Z" fill="#f6dc78" stroke="#ecc948" stroke-width="0.6"/><path d="M588.86,441.4 L589.69,443.07 L591.53,443.34 L590.2,444.64 L590.51,446.47 L588.86,445.6 L587.22,446.47 L587.53,444.64 L586.2,443.34 L588.04,443.07Z" fill="#f6dc78" stroke="#ecc948" stroke-width="0.6"/><path d="M584.87,439.02 L585.69,440.69 L587.53,440.96 L586.2,442.25 L586.52,444.09 L584.87,443.22 L583.23,444.09 L583.54,442.25 L582.21,440.96 L584.05,440.69Z" fill="#f6dc78" stroke="#ecc948" stroke-width="0.6"/><path d="M580.88,436.97 L581.7,438.64 L583.54,438.91 L582.21,440.21 L582.52,442.04 L580.88,441.17 L579.23,442.04 L579.55,440.21 L578.22,438.91 L580.06,438.64Z" fill="#f6dc78" stroke="#ecc948" stroke-width="0.6"/><path d="M576.88,434.99 L577.71,436.66 L579.55,436.92 L578.22,438.22 L578.53,440.06 L576.88,439.19 L575.24,440.06 L575.55,438.22 L574.22,436.92 L576.06,436.66Z" fill="#f6dc78" stroke="#ecc948" stroke-width="0.6"/><path d="M572.89,432.99 L573.71,434.66 L575.55,434.92 L574.22,436.22 L574.54,438.06 L572.89,437.19 L571.25,438.06 L571.56,436.22 L570.23,434.92 L572.07,434.66Z" fill="#f6dc78" stroke="#ecc948" stroke-width="0.6"/><path d="M568.9,431.01 L569.72,432.68 L571.56,432.95 L570.23,434.25 L570.54,436.08 L568.9,435.21 L567.25,436.08 L567.57,434.25 L566.24,432.95 L568.08,432.68Z" fill="#f6dc78" stroke="#ecc948" stroke-width="0.6"/><path d="M564.91,429.1 L565.73,430.76 L567.57,431.03 L566.24,432.33 L566.55,434.16 L564.91,433.3 L563.26,434.16 L563.57,432.33 L562.24,431.03 L564.08,430.76Z" fill="#f6dc78" stroke="#ecc948" stroke-width="0.6"/><path d="M560.91,426.93 L561.74,428.6 L563.58,428.86 L562.24,430.16 L562.56,431.99 L560.91,431.13 L559.27,431.99 L559.58,430.16 L558.25,428.86 L560.09,428.6Z" fill="#f6dc78" stroke="#ecc948" stroke-width="0.6"/><path d="M556.92,424.43 L557.74,426.09 L559.58,426.36 L558.25,427.66 L558.57,429.49 L556.92,428.63 L555.27,429.49 L555.59,427.66 L554.26,426.36 L556.1,426.09Z" fill="#f6dc78" stroke="#ecc948" stroke-width="0.6"/><path d="M552.93,422.01 L553.75,423.68 L555.59,423.95 L554.26,425.24 L554.57,427.08 L552.93,426.21 L551.28,427.08 L551.6,425.24 L550.26,423.95 L552.1,423.68Z" fill="#f6dc78" stroke="#ecc948" stroke-width="0.6"/><path d="M548.93,419.67 L549.76,421.34 L551.6,421.6 L550.27,422.9 L550.58,424.73 L548.93,423.87 L547.29,424.73 L547.6,422.9 L546.27,421.6 L548.11,421.34Z" fill="#f6dc78" stroke="#ecc948" stroke-width="0.6"/><path d="M544.94,417.11 L545.76,418.78 L547.6,419.05 L546.27,420.34 L546.59,422.18 L544.94,421.31 L543.3,422.18 L543.61,420.34 L542.28,419.05 L544.12,418.78Z" fill="#f6dc78" stroke="#ecc948" stroke-width="0.6"/><path d="M540.95,414.51 L541.77,416.18 L543.61,416.45 L542.28,417.74 L542.59,419.58 L540.95,418.71 L539.3,419.58 L539.62,417.74 L538.29,416.45 L540.13,416.18Z" fill="#f6dc78" stroke="#ecc948" stroke-width="0.6"/><path d="M536.95,412.67 L537.78,414.34 L539.62,414.61 L538.29,415.91 L538.6,417.74 L536.95,416.87 L535.31,417.74 L535.62,415.91 L534.29,414.61 L536.13,414.34Z" fill="#f6dc78" stroke="#ecc948" stroke-width="0.6"/><path d="M532.96,411.07 L533.78,412.74 L535.62,413.01 L534.29,414.31 L534.61,416.14 L532.96,415.27 L531.32,416.14 L531.63,414.31 L530.3,413.01 L532.14,412.74Z" fill="#f6dc78" stroke="#ecc948" stroke-width="0.6"/><path d="M528.97,409.15 L529.79,410.82 L531.63,411.09 L530.3,412.38 L530.61,414.22 L528.97,413.35 L527.32,414.22 L527.64,412.38 L526.31,411.09 L528.15,410.82Z" fill="#f6dc78" stroke="#ecc948" stroke-width="0.6"/><path d="M524.98,407.07 L525.8,408.73 L527.64,409 L526.31,410.3 L526.62,412.13 L524.98,411.27 L523.33,412.13 L523.64,410.3 L522.31,409 L524.15,408.73Z" fill="#f6dc78" stroke="#ecc948" stroke-width="0.6"/><path d="M520.98,404.87 L521.81,406.54 L523.65,406.81 L522.31,408.11 L522.63,409.94 L520.98,409.07 L519.34,409.94 L519.65,408.11 L518.32,406.81 L520.16,406.54Z" fill="#f6dc78" stroke="#ecc948" stroke-width="0.6"/><path d="M516.99,402.59 L517.81,404.26 L519.65,404.53 L518.32,405.82 L518.64,407.66 L516.99,406.79 L515.34,407.66 L515.66,405.82 L514.33,404.53 L516.17,404.26Z" fill="#f6dc78" stroke="#ecc948" stroke-width="0.6"/><path d="M513,400.17 L513.82,401.83 L515.66,402.1 L514.33,403.4 L514.64,405.23 L513,404.37 L511.35,405.23 L511.67,403.4 L510.33,402.1 L512.17,401.83Z" fill="#f6dc78" stroke="#ecc948" stroke-width="0.6"/><path d="M509,397.69 L509.83,399.36 L511.67,399.62 L510.34,400.92 L510.65,402.76 L509,401.89 L507.36,402.76 L507.67,400.92 L506.34,399.62 L508.18,399.36Z" fill="#f6dc78" stroke="#ecc948" stroke-width="0.6"/><path d="M505.01,395.26 L505.83,396.92 L507.67,397.19 L506.34,398.49 L506.66,400.32 L505.01,399.46 L503.37,400.32 L503.68,398.49 L502.35,397.19 L504.19,396.92Z" fill="#f6dc78" stroke="#ecc948" stroke-width="0.6"/><path d="M501.02,392.8 L501.84,394.46 L503.68,394.73 L502.35,396.03 L502.66,397.86 L501.02,397 L499.37,397.86 L499.69,396.03 L498.36,394.73 L500.2,394.46Z" fill="#f6dc78" stroke="#ecc948" stroke-width="0.6"/><path d="M497.02,390.37 L497.85,392.04 L499.69,392.31 L498.36,393.61 L498.67,395.44 L497.02,394.57 L495.38,395.44 L495.69,393.61 L494.36,392.31 L496.2,392.04Z" fill="#f6dc78" stroke="#ecc948" stroke-width="0.6"/><path d="M493.03,388.11 L493.85,389.78 L495.69,390.04 L494.36,391.34 L494.68,393.17 L493.03,392.31 L491.39,393.17 L491.7,391.34 L490.37,390.04 L492.21,389.78Z" fill="#f6dc78" stroke="#ecc948" stroke-width="0.6"/><path d="M489.04,385.94 L489.86,387.6 L491.7,387.87 L490.37,389.17 L490.68,391 L489.04,390.14 L487.39,391 L487.71,389.17 L486.38,387.87 L488.22,387.6Z" fill="#f6dc78" stroke="#ecc948" stroke-width="0.6"/><path d="M485.05,383.87 L485.87,385.54 L487.71,385.8 L486.38,387.1 L486.69,388.93 L485.05,388.07 L483.4,388.93 L483.71,387.1 L482.38,385.8 L484.22,385.54Z" fill="#f6dc78" stroke="#ecc948" stroke-width="0.6"/><path d="M481.05,382.09 L481.88,383.76 L483.72,384.03 L482.38,385.33 L482.7,387.16 L481.05,386.29 L479.41,387.16 L479.72,385.33 L478.39,384.03 L480.23,383.76Z" fill="#f6dc78" stroke="#ecc948" stroke-width="0.6"/><path d="M477.06,380.74 L477.88,382.41 L479.72,382.68 L478.39,383.98 L478.71,385.81 L477.06,384.94 L475.41,385.81 L475.73,383.98 L474.4,382.68 L476.24,382.41Z" fill="#f6dc78" stroke="#ecc948" stroke-width="0.6"/><path d="M473.07,379.66 L473.89,381.32 L475.73,381.59 L474.4,382.89 L474.71,384.72 L473.07,383.86 L471.42,384.72 L471.74,382.89 L470.4,381.59 L472.24,381.32Z" fill="#f6dc78" stroke="#ecc948" stroke-width="0.6"/><path d="M469.07,378.62 L469.9,380.29 L471.74,380.56 L470.41,381.85 L470.72,383.69 L469.07,382.82 L467.43,383.69 L467.74,381.85 L466.41,380.56 L468.25,380.29Z" fill="#f6dc78" stroke="#ecc948" stroke-width="0.6"/><path d="M465.08,377.47 L465.9,379.14 L467.74,379.4 L466.41,380.7 L466.73,382.54 L465.08,381.67 L463.44,382.54 L463.75,380.7 L462.42,379.4 L464.26,379.14Z" fill="#f6dc78" stroke="#ecc948" stroke-width="0.6"/><path d="M461.09,376.22 L461.91,377.89 L463.75,378.16 L462.42,379.45 L462.73,381.29 L461.09,380.42 L459.44,381.29 L459.76,379.45 L458.43,378.16 L460.27,377.89Z" fill="#f6dc78" stroke="#ecc948" stroke-width="0.6"/><path d="M457.09,374.93 L457.92,376.6 L459.76,376.87 L458.43,378.16 L458.74,380 L457.09,379.13 L455.45,380 L455.76,378.16 L454.43,376.87 L456.27,376.6Z" fill="#f6dc78" stroke="#ecc948" stroke-width="0.6"/><path d="M453.1,373.64 L453.92,375.31 L455.76,375.58 L454.43,376.88 L454.75,378.71 L453.1,377.84 L451.46,378.71 L451.77,376.88 L450.44,375.58 L452.28,375.31Z" fill="#f6dc78" stroke="#ecc948" stroke-width="0.6"/><path d="M449.11,372.4 L449.93,374.07 L451.77,374.34 L450.44,375.64 L450.75,377.47 L449.11,376.6 L447.46,377.47 L447.78,375.64 L446.45,374.34 L448.29,374.07Z" fill="#f6dc78" stroke="#ecc948" stroke-width="0.6"/><path d="M445.12,371.25 L445.94,372.92 L447.78,373.19 L446.45,374.49 L446.76,376.32 L445.12,375.45 L443.47,376.32 L443.78,374.49 L442.45,373.19 L444.29,372.92Z" fill="#f6dc78" stroke="#ecc948" stroke-width="0.6"/><path d="M441.12,370.24 L441.95,371.91 L443.79,372.17 L442.45,373.47 L442.77,375.3 L441.12,374.44 L439.48,375.3 L439.79,373.47 L438.46,372.17 L440.3,371.91Z" fill="#f6dc78" stroke="#ecc948" stroke-width="0.6"/><path d="M437.13,369.34 L437.95,371.01 L439.79,371.27 L438.46,372.57 L438.78,374.4 L437.13,373.54 L435.48,374.4 L435.8,372.57 L434.47,371.27 L436.31,371.01Z" fill="#f6dc78" stroke="#ecc948" stroke-width="0.6"/><path d="M433.14,368.51 L433.96,370.18 L435.8,370.45 L434.47,371.74 L434.78,373.58 L433.14,372.71 L431.49,373.58 L431.81,371.74 L430.47,370.45 L432.31,370.18Z" fill="#f6dc78" stroke="#ecc948" stroke-width="0.6"/><path d="M429.14,367.74 L429.97,369.4 L431.81,369.67 L430.48,370.97 L430.79,372.8 L429.14,371.94 L427.5,372.8 L427.81,370.97 L426.48,369.67 L428.32,369.4Z" fill="#f6dc78" stroke="#ecc948" stroke-width="0.6"/><path d="M425.15,366.99 L425.97,368.65 L427.81,368.92 L426.48,370.22 L426.8,372.05 L425.15,371.19 L423.51,372.05 L423.82,370.22 L422.49,368.92 L424.33,368.65Z" fill="#f6dc78" stroke="#ecc948" stroke-width="0.6"/><path d="M421.16,366.24 L421.98,367.91 L423.82,368.17 L422.49,369.47 L422.8,371.3 L421.16,370.44 L419.51,371.3 L419.83,369.47 L418.5,368.17 L420.34,367.91Z" fill="#f6dc78" stroke="#ecc948" stroke-width="0.6"/><path d="M417.16,365.47 L417.99,367.14 L419.83,367.41 L418.5,368.7 L418.81,370.54 L417.16,369.67 L415.52,370.54 L415.83,368.7 L414.5,367.41 L416.34,367.14Z" fill="#f6dc78" stroke="#ecc948" stroke-width="0.6"/><path d="M413.17,364.68 L413.99,366.34 L415.83,366.61 L414.5,367.91 L414.82,369.74 L413.17,368.88 L411.53,369.74 L411.84,367.91 L410.51,366.61 L412.35,366.34Z" fill="#f6dc78" stroke="#ecc948" stroke-width="0.6"/><path d="M409.18,363.88 L410,365.55 L411.84,365.82 L410.51,367.11 L410.82,368.95 L409.18,368.08 L407.53,368.95 L407.85,367.11 L406.52,365.82 L408.36,365.55Z" fill="#f6dc78" stroke="#ecc948" stroke-width="0.6"/><path d="M405.19,363.09 L406.01,364.75 L407.85,365.02 L406.52,366.32 L406.83,368.15 L405.19,367.29 L403.54,368.15 L403.85,366.32 L402.52,365.02 L404.36,364.75Z" fill="#f6dc78" stroke="#ecc948" stroke-width="0.6"/><path d="M401.19,362.29 L402.02,363.96 L403.86,364.23 L402.52,365.53 L402.84,367.36 L401.19,366.49 L399.55,367.36 L399.86,365.53 L398.53,364.23 L400.37,363.96Z" fill="#f6dc78" stroke="#ecc948" stroke-width="0.6"/><path d="M397.2,361.5 L398.02,363.17 L399.86,363.43 L398.53,364.73 L398.85,366.57 L397.2,365.7 L395.55,366.57 L395.87,364.73 L394.54,363.43 L396.38,363.17Z" fill="#f6dc78" stroke="#ecc948" stroke-width="0.6"/>
<circle cx="672.72" cy="473.37" r="2.6" fill="#fff" stroke="#7a1cf0" stroke-width="0.8"/><path d="M672.72,470.77 A2.6,2.6 0 0 1 672.72,475.97Z" fill="#7a1cf0"/><circle cx="668.72" cy="474.06" r="2.6" fill="#fff" stroke="#7a1cf0" stroke-width="0.8"/><path d="M668.72,471.46 A2.6,2.6 0 0 1 668.72,476.66Z" fill="#7a1cf0"/><circle cx="664.73" cy="474.27" r="2.6" fill="#fff" stroke="#7a1cf0" stroke-width="0.8"/><path d="M664.73,471.67 A2.6,2.6 0 0 1 664.73,476.87Z" fill="#7a1cf0"/><circle cx="660.74" cy="474.39" r="2.6" fill="#fff" stroke="#7a1cf0" stroke-width="0.8"/><path d="M660.74,471.79 A2.6,2.6 0 0 1 660.74,476.99Z" fill="#7a1cf0"/><circle cx="656.75" cy="474.31" r="2.6" fill="#fff" stroke="#7a1cf0" stroke-width="0.8"/><path d="M656.75,471.71 A2.6,2.6 0 0 1 656.75,476.91Z" fill="#7a1cf0"/><circle cx="652.75" cy="473.72" r="2.6" fill="#fff" stroke="#7a1cf0" stroke-width="0.8"/><path d="M652.75,471.12 A2.6,2.6 0 0 1 652.75,476.32Z" fill="#7a1cf0"/><circle cx="648.76" cy="472.83" r="2.6" fill="#fff" stroke="#7a1cf0" stroke-width="0.8"/><path d="M648.76,470.23 A2.6,2.6 0 0 1 648.76,475.43Z" fill="#7a1cf0"/><circle cx="644.77" cy="471.16" r="2.6" fill="#fff" stroke="#7a1cf0" stroke-width="0.8"/><path d="M644.77,468.56 A2.6,2.6 0 0 1 644.77,473.76Z" fill="#7a1cf0"/><circle cx="640.77" cy="469.61" r="2.6" fill="#fff" stroke="#7a1cf0" stroke-width="0.8"/><path d="M640.77,467.01 A2.6,2.6 0 0 1 640.77,472.21Z" fill="#7a1cf0"/><circle cx="636.78" cy="468.05" r="2.6" fill="#fff" stroke="#7a1cf0" stroke-width="0.8"/><path d="M636.78,465.45 A2.6,2.6 0 0 1 636.78,470.65Z" fill="#7a1cf0"/><circle cx="632.79" cy="466.41" r="2.6" fill="#fff" stroke="#7a1cf0" stroke-width="0.8"/><path d="M632.79,463.81 A2.6,2.6 0 0 1 632.79,469.01Z" fill="#7a1cf0"/><circle cx="628.79" cy="464.47" r="2.6" fill="#fff" stroke="#7a1cf0" stroke-width="0.8"/><path d="M628.79,461.87 A2.6,2.6 0 0 1 628.79,467.07Z" fill="#7a1cf0"/><circle cx="624.8" cy="462.12" r="2.6" fill="#fff" stroke="#7a1cf0" stroke-width="0.8"/><path d="M624.8,459.52 A2.6,2.6 0 0 1 624.8,464.72Z" fill="#7a1cf0"/><circle cx="620.81" cy="459.35" r="2.6" fill="#fff" stroke="#7a1cf0" stroke-width="0.8"/><path d="M620.81,456.75 A2.6,2.6 0 0 1 620.81,461.95Z" fill="#7a1cf0"/><circle cx="616.81" cy="456.09" r="2.6" fill="#fff" stroke="#7a1cf0" stroke-width="0.8"/><path d="M616.81,453.49 A2.6,2.6 0 0 1 616.81,458.69Z" fill="#7a1cf0"/><circle cx="612.82" cy="452.64" r="2.6" fill="#fff" stroke="#7a1cf0" stroke-width="0.8"/><path d="M612.82,450.04 A2.6,2.6 0 0 1 612.82,455.24Z" fill="#7a1cf0"/><circle cx="608.83" cy="448.97" r="2.6" fill="#fff" stroke="#7a1cf0" stroke-width="0.8"/><path d="M608.83,446.37 A2.6,2.6 0 0 1 608.83,451.57Z" fill="#7a1cf0"/><circle cx="604.84" cy="445.13" r="2.6" fill="#fff" stroke="#7a1cf0" stroke-width="0.8"/><path d="M604.84,442.53 A2.6,2.6 0 0 1 604.84,447.73Z" fill="#7a1cf0"/><circle cx="600.84" cy="441.14" r="2.6" fill="#fff" stroke="#7a1cf0" stroke-width="0.8"/><path d="M600.84,438.54 A2.6,2.6 0 0 1 600.84,443.74Z" fill="#7a1cf0"/><circle cx="596.85" cy="437.19" r="2.6" fill="#fff" stroke="#7a1cf0" stroke-width="0.8"/><path d="M596.85,434.59 A2.6,2.6 0 0 1 596.85,439.79Z" fill="#7a1cf0"/><circle cx="592.86" cy="433.07" r="2.6" fill="#fff" stroke="#7a1cf0" stroke-width="0.8"/><path d="M592.86,430.47 A2.6,2.6 0 0 1 592.86,435.67Z" fill="#7a1cf0"/><circle cx="588.86" cy="428.34" r="2.6" fill="#fff" stroke="#7a1cf0" stroke-width="0.8"/><path d="M588.86,425.74 A2.6,2.6 0 0 1 588.86,430.94Z" fill="#7a1cf0"/><circle cx="584.87" cy="423.52" r="2.6" fill="#fff" stroke="#7a1cf0" stroke-width="0.8"/><path d="M584.87,420.92 A2.6,2.6 0 0 1 584.87,426.12Z" fill="#7a1cf0"/><circle cx="580.88" cy="419.12" r="2.6" fill="#fff" stroke="#7a1cf0" stroke-width="0.8"/><path d="M580.88,416.52 A2.6,2.6 0 0 1 580.88,421.72Z" fill="#7a1cf0"/><circle cx="576.88" cy="414.65" r="2.6" fill="#fff" stroke="#7a1cf0" stroke-width="0.8"/><path d="M576.88,412.05 A2.6,2.6 0 0 1 576.88,417.25Z" fill="#7a1cf0"/><circle cx="572.89" cy="409.83" r="2.6" fill="#fff" stroke="#7a1cf0" stroke-width="0.8"/><path d="M572.89,407.23 A2.6,2.6 0 0 1 572.89,412.43Z" fill="#7a1cf0"/><circle cx="568.9" cy="405.31" r="2.6" fill="#fff" stroke="#7a1cf0" stroke-width="0.8"/><path d="M568.9,402.71 A2.6,2.6 0 0 1 568.9,407.91Z" fill="#7a1cf0"/><circle cx="564.91" cy="401.27" r="2.6" fill="#fff" stroke="#7a1cf0" stroke-width="0.8"/><path d="M564.91,398.67 A2.6,2.6 0 0 1 564.91,403.87Z" fill="#7a1cf0"/><circle cx="560.91" cy="397.35" r="2.6" fill="#fff" stroke="#7a1cf0" stroke-width="0.8"/><path d="M560.91,394.75 A2.6,2.6 0 0 1 560.91,399.95Z" fill="#7a1cf0"/><circle cx="556.92" cy="393.51" r="2.6" fill="#fff" stroke="#7a1cf0" stroke-width="0.8"/><path d="M556.92,390.91 A2.6,2.6 0 0 1 556.92,396.11Z" fill="#7a1cf0"/><circle cx="552.93" cy="389.85" r="2.6" fill="#fff" stroke="#7a1cf0" stroke-width="0.8"/><path d="M552.93,387.25 A2.6,2.6 0 0 1 552.93,392.45Z" fill="#7a1cf0"/><circle cx="548.93" cy="386.38" r="2.6" fill="#fff" stroke="#7a1cf0" stroke-width="0.8"/><path d="M548.93,383.78 A2.6,2.6 0 0 1 548.93,388.98Z" fill="#7a1cf0"/><circle cx="544.94" cy="382.5" r="2.6" fill="#fff" stroke="#7a1cf0" stroke-width="0.8"/><path d="M544.94,379.9 A2.6,2.6 0 0 1 544.94,385.1Z" fill="#7a1cf0"/><circle cx="540.95" cy="377.96" r="2.6" fill="#fff" stroke="#7a1cf0" stroke-width="0.8"/><path d="M540.95,375.36 A2.6,2.6 0 0 1 540.95,380.56Z" fill="#7a1cf0"/><circle cx="536.95" cy="373.08" r="2.6" fill="#fff" stroke="#7a1cf0" stroke-width="0.8"/><path d="M536.95,370.48 A2.6,2.6 0 0 1 536.95,375.68Z" fill="#7a1cf0"/><circle cx="532.96" cy="368.19" r="2.6" fill="#fff" stroke="#7a1cf0" stroke-width="0.8"/><path d="M532.96,365.59 A2.6,2.6 0 0 1 532.96,370.79Z" fill="#7a1cf0"/><circle cx="528.97" cy="363.43" r="2.6" fill="#fff" stroke="#7a1cf0" stroke-width="0.8"/><path d="M528.97,360.83 A2.6,2.6 0 0 1 528.97,366.03Z" fill="#7a1cf0"/><circle cx="524.98" cy="358.65" r="2.6" fill="#fff" stroke="#7a1cf0" stroke-width="0.8"/><path d="M524.98,356.05 A2.6,2.6 0 0 1 524.98,361.25Z" fill="#7a1cf0"/><circle cx="520.98" cy="353.86" r="2.6" fill="#fff" stroke="#7a1cf0" stroke-width="0.8"/><path d="M520.98,351.26 A2.6,2.6 0 0 1 520.98,356.46Z" fill="#7a1cf0"/><circle cx="516.99" cy="349.01" r="2.6" fill="#fff" stroke="#7a1cf0" stroke-width="0.8"/><path d="M516.99,346.41 A2.6,2.6 0 0 1 516.99,351.61Z" fill="#7a1cf0"/><circle cx="513" cy="344.06" r="2.6" fill="#fff" stroke="#7a1cf0" stroke-width="0.8"/><path d="M513,341.46 A2.6,2.6 0 0 1 513,346.66Z" fill="#7a1cf0"/><circle cx="509" cy="339.24" r="2.6" fill="#fff" stroke="#7a1cf0" stroke-width="0.8"/><path d="M509,336.64 A2.6,2.6 0 0 1 509,341.84Z" fill="#7a1cf0"/><circle cx="505.01" cy="334.81" r="2.6" fill="#fff" stroke="#7a1cf0" stroke-width="0.8"/><path d="M505.01,332.21 A2.6,2.6 0 0 1 505.01,337.41Z" fill="#7a1cf0"/><circle cx="501.02" cy="330.77" r="2.6" fill="#fff" stroke="#7a1cf0" stroke-width="0.8"/><path d="M501.02,328.17 A2.6,2.6 0 0 1 501.02,333.37Z" fill="#7a1cf0"/><circle cx="497.02" cy="326.91" r="2.6" fill="#fff" stroke="#7a1cf0" stroke-width="0.8"/><path d="M497.02,324.31 A2.6,2.6 0 0 1 497.02,329.51Z" fill="#7a1cf0"/><circle cx="493.03" cy="323.03" r="2.6" fill="#fff" stroke="#7a1cf0" stroke-width="0.8"/><path d="M493.03,320.43 A2.6,2.6 0 0 1 493.03,325.63Z" fill="#7a1cf0"/><circle cx="489.04" cy="318.96" r="2.6" fill="#fff" stroke="#7a1cf0" stroke-width="0.8"/><path d="M489.04,316.36 A2.6,2.6 0 0 1 489.04,321.56Z" fill="#7a1cf0"/><circle cx="485.05" cy="314.88" r="2.6" fill="#fff" stroke="#7a1cf0" stroke-width="0.8"/><path d="M485.05,312.28 A2.6,2.6 0 0 1 485.05,317.48Z" fill="#7a1cf0"/><circle cx="481.05" cy="311.17" r="2.6" fill="#fff" stroke="#7a1cf0" stroke-width="0.8"/><path d="M481.05,308.57 A2.6,2.6 0 0 1 481.05,313.77Z" fill="#7a1cf0"/><circle cx="477.06" cy="308.05" r="2.6" fill="#fff" stroke="#7a1cf0" stroke-width="0.8"/><path d="M477.06,305.45 A2.6,2.6 0 0 1 477.06,310.65Z" fill="#7a1cf0"/><circle cx="473.07" cy="305.26" r="2.6" fill="#fff" stroke="#7a1cf0" stroke-width="0.8"/><path d="M473.07,302.66 A2.6,2.6 0 0 1 473.07,307.86Z" fill="#7a1cf0"/><circle cx="469.07" cy="302.73" r="2.6" fill="#fff" stroke="#7a1cf0" stroke-width="0.8"/><path d="M469.07,300.13 A2.6,2.6 0 0 1 469.07,305.33Z" fill="#7a1cf0"/><circle cx="465.08" cy="300.36" r="2.6" fill="#fff" stroke="#7a1cf0" stroke-width="0.8"/><path d="M465.08,297.76 A2.6,2.6 0 0 1 465.08,302.96Z" fill="#7a1cf0"/><circle cx="461.09" cy="298.12" r="2.6" fill="#fff" stroke="#7a1cf0" stroke-width="0.8"/><path d="M461.09,295.52 A2.6,2.6 0 0 1 461.09,300.72Z" fill="#7a1cf0"/><circle cx="457.09" cy="296.08" r="2.6" fill="#fff" stroke="#7a1cf0" stroke-width="0.8"/><path d="M457.09,293.48 A2.6,2.6 0 0 1 457.09,298.68Z" fill="#7a1cf0"/><circle cx="453.1" cy="294.3" r="2.6" fill="#fff" stroke="#7a1cf0" stroke-width="0.8"/><path d="M453.1,291.7 A2.6,2.6 0 0 1 453.1,296.9Z" fill="#7a1cf0"/><circle cx="449.11" cy="292.69" r="2.6" fill="#fff" stroke="#7a1cf0" stroke-width="0.8"/><path d="M449.11,290.09 A2.6,2.6 0 0 1 449.11,295.29Z" fill="#7a1cf0"/><circle cx="445.12" cy="291.26" r="2.6" fill="#fff" stroke="#7a1cf0" stroke-width="0.8"/><path d="M445.12,288.66 A2.6,2.6 0 0 1 445.12,293.86Z" fill="#7a1cf0"/><circle cx="441.12" cy="290.13" r="2.6" fill="#fff" stroke="#7a1cf0" stroke-width="0.8"/><path d="M441.12,287.53 A2.6,2.6 0 0 1 441.12,292.73Z" fill="#7a1cf0"/><circle cx="437.13" cy="289.31" r="2.6" fill="#fff" stroke="#7a1cf0" stroke-width="0.8"/><path d="M437.13,286.71 A2.6,2.6 0 0 1 437.13,291.91Z" fill="#7a1cf0"/><circle cx="433.14" cy="288.6" r="2.6" fill="#fff" stroke="#7a1cf0" stroke-width="0.8"/><path d="M433.14,286 A2.6,2.6 0 0 1 433.14,291.2Z" fill="#7a1cf0"/><circle cx="429.14" cy="287.81" r="2.6" fill="#fff" stroke="#7a1cf0" stroke-width="0.8"/><path d="M429.14,285.21 A2.6,2.6 0 0 1 429.14,290.41Z" fill="#7a1cf0"/><circle cx="425.15" cy="286.89" r="2.6" fill="#fff" stroke="#7a1cf0" stroke-width="0.8"/><path d="M425.15,284.29 A2.6,2.6 0 0 1 425.15,289.49Z" fill="#7a1cf0"/><circle cx="421.16" cy="285.68" r="2.6" fill="#fff" stroke="#7a1cf0" stroke-width="0.8"/><path d="M421.16,283.08 A2.6,2.6 0 0 1 421.16,288.28Z" fill="#7a1cf0"/><circle cx="417.16" cy="282" r="2.6" fill="#fff" stroke="#7a1cf0" stroke-width="0.8"/><path d="M417.16,279.4 A2.6,2.6 0 0 1 417.16,284.6Z" fill="#7a1cf0"/><circle cx="413.17" cy="280.6" r="2.6" fill="#fff" stroke="#7a1cf0" stroke-width="0.8"/><path d="M413.17,278 A2.6,2.6 0 0 1 413.17,283.2Z" fill="#7a1cf0"/><circle cx="409.18" cy="283.2" r="2.6" fill="#fff" stroke="#7a1cf0" stroke-width="0.8"/><path d="M409.18,280.6 A2.6,2.6 0 0 1 409.18,285.8Z" fill="#7a1cf0"/>
<path d="M670.34,457.51 L675.52,460.31 L670.34,463.11Z" fill="#fff" stroke="#ec3f25" stroke-width="0.8" stroke-linejoin="miter"/><path d="M671.88,458.35 L675.52,460.31 L671.88,462.28Z" fill="#ec3f25"/><path d="M666.34,457.06 L671.52,459.86 L666.34,462.66Z" fill="#fff" stroke="#ec3f25" stroke-width="0.8" stroke-linejoin="miter"/><path d="M667.88,457.89 L671.52,459.86 L667.88,461.82Z" fill="#ec3f25"/><path d="M662.35,456.55 L667.53,459.35 L662.35,462.15Z" fill="#fff" stroke="#ec3f25" stroke-width="0.8" stroke-linejoin="miter"/><path d="M663.89,457.38 L667.53,459.35 L663.89,461.32Z" fill="#ec3f25"/><path d="M658.36,456.01 L663.54,458.81 L658.36,461.61Z" fill="#fff" stroke="#ec3f25" stroke-width="0.8" stroke-linejoin="miter"/><path d="M659.9,456.84 L663.54,458.81 L659.9,460.77Z" fill="#ec3f25"/><path d="M654.37,455.44 L659.54,458.24 L654.37,461.04Z" fill="#fff" stroke="#ec3f25" stroke-width="0.8" stroke-linejoin="miter"/><path d="M655.9,456.27 L659.54,458.24 L655.9,460.2Z" fill="#ec3f25"/><path d="M650.37,454.78 L655.55,457.58 L650.37,460.38Z" fill="#fff" stroke="#ec3f25" stroke-width="0.8" stroke-linejoin="miter"/><path d="M651.91,455.62 L655.55,457.58 L651.91,459.55Z" fill="#ec3f25"/><path d="M646.38,453.99 L651.56,456.79 L646.38,459.59Z" fill="#fff" stroke="#ec3f25" stroke-width="0.8" stroke-linejoin="miter"/><path d="M647.92,454.82 L651.56,456.79 L647.92,458.75Z" fill="#ec3f25"/><path d="M642.39,452.97 L647.57,455.77 L642.39,458.57Z" fill="#fff" stroke="#ec3f25" stroke-width="0.8" stroke-linejoin="miter"/><path d="M643.93,453.8 L647.57,455.77 L643.93,457.73Z" fill="#ec3f25"/><path d="M638.39,451.25 L643.57,454.05 L638.39,456.85Z" fill="#fff" stroke="#ec3f25" stroke-width="0.8" stroke-linejoin="miter"/><path d="M639.93,452.08 L643.57,454.05 L639.93,456.02Z" fill="#ec3f25"/><path d="M634.4,450.45 L639.58,453.25 L634.4,456.05Z" fill="#fff" stroke="#ec3f25" stroke-width="0.8" stroke-linejoin="miter"/><path d="M635.94,451.28 L639.58,453.25 L635.94,455.22Z" fill="#ec3f25"/><path d="M630.41,449.9 L635.59,452.7 L630.41,455.5Z" fill="#fff" stroke="#ec3f25" stroke-width="0.8" stroke-linejoin="miter"/><path d="M631.95,450.73 L635.59,452.7 L631.95,454.67Z" fill="#ec3f25"/><path d="M626.41,449.25 L631.59,452.05 L626.41,454.85Z" fill="#fff" stroke="#ec3f25" stroke-width="0.8" stroke-linejoin="miter"/><path d="M627.95,450.08 L631.59,452.05 L627.95,454.01Z" fill="#ec3f25"/><path d="M622.42,448.5 L627.6,451.3 L622.42,454.1Z" fill="#fff" stroke="#ec3f25" stroke-width="0.8" stroke-linejoin="miter"/><path d="M623.96,449.33 L627.6,451.3 L623.96,453.27Z" fill="#ec3f25"/><path d="M618.43,447.61 L623.61,450.41 L618.43,453.21Z" fill="#fff" stroke="#ec3f25" stroke-width="0.8" stroke-linejoin="miter"/><path d="M619.97,448.44 L623.61,450.41 L619.97,452.37Z" fill="#ec3f25"/><path d="M614.43,446.64 L619.61,449.44 L614.43,452.24Z" fill="#fff" stroke="#ec3f25" stroke-width="0.8" stroke-linejoin="miter"/><path d="M615.97,447.47 L619.61,449.44 L615.97,451.41Z" fill="#ec3f25"/><path d="M610.44,445.62 L615.62,448.42 L610.44,451.22Z" fill="#fff" stroke="#ec3f25" stroke-width="0.8" stroke-linejoin="miter"/><path d="M611.98,446.45 L615.62,448.42 L611.98,450.39Z" fill="#ec3f25"/><path d="M606.45,444.29 L611.63,447.09 L606.45,449.89Z" fill="#fff" stroke="#ec3f25" stroke-width="0.8" stroke-linejoin="miter"/><path d="M607.99,445.12 L611.63,447.09 L607.99,449.05Z" fill="#ec3f25"/><path d="M602.46,442.5 L607.64,445.3 L602.46,448.1Z" fill="#fff" stroke="#ec3f25" stroke-width="0.8" stroke-linejoin="miter"/><path d="M604,443.33 L607.64,445.3 L604,447.27Z" fill="#ec3f25"/><path d="M598.46,440.22 L603.64,443.02 L598.46,445.82Z" fill="#fff" stroke="#ec3f25" stroke-width="0.8" stroke-linejoin="miter"/><path d="M600,441.05 L603.64,443.02 L600,444.99Z" fill="#ec3f25"/><path d="M594.47,437.31 L599.65,440.11 L594.47,442.91Z" fill="#fff" stroke="#ec3f25" stroke-width="0.8" stroke-linejoin="miter"/><path d="M596.01,438.14 L599.65,440.11 L596.01,442.08Z" fill="#ec3f25"/><path d="M590.48,433.98 L595.66,436.78 L590.48,439.58Z" fill="#fff" stroke="#ec3f25" stroke-width="0.8" stroke-linejoin="miter"/><path d="M592.02,434.81 L595.66,436.78 L592.02,438.74Z" fill="#ec3f25"/><path d="M586.48,430.09 L591.66,432.89 L586.48,435.69Z" fill="#fff" stroke="#ec3f25" stroke-width="0.8" stroke-linejoin="miter"/><path d="M588.02,430.93 L591.66,432.89 L588.02,434.86Z" fill="#ec3f25"/><path d="M582.49,425.47 L587.67,428.27 L582.49,431.07Z" fill="#fff" stroke="#ec3f25" stroke-width="0.8" stroke-linejoin="miter"/><path d="M584.03,426.3 L587.67,428.27 L584.03,430.24Z" fill="#ec3f25"/><path d="M578.5,420.51 L583.68,423.31 L578.5,426.11Z" fill="#fff" stroke="#ec3f25" stroke-width="0.8" stroke-linejoin="miter"/><path d="M580.04,421.34 L583.68,423.31 L580.04,425.27Z" fill="#ec3f25"/><path d="M574.5,416.08 L579.68,418.88 L574.5,421.68Z" fill="#fff" stroke="#ec3f25" stroke-width="0.8" stroke-linejoin="miter"/><path d="M576.04,416.91 L579.68,418.88 L576.04,420.85Z" fill="#ec3f25"/><path d="M570.51,411.77 L575.69,414.57 L570.51,417.37Z" fill="#fff" stroke="#ec3f25" stroke-width="0.8" stroke-linejoin="miter"/><path d="M572.05,412.6 L575.69,414.57 L572.05,416.54Z" fill="#ec3f25"/><path d="M566.52,407.36 L571.7,410.16 L566.52,412.96Z" fill="#fff" stroke="#ec3f25" stroke-width="0.8" stroke-linejoin="miter"/><path d="M568.06,408.2 L571.7,410.16 L568.06,412.13Z" fill="#ec3f25"/><path d="M562.53,403.08 L567.71,405.88 L562.53,408.68Z" fill="#fff" stroke="#ec3f25" stroke-width="0.8" stroke-linejoin="miter"/><path d="M564.07,403.91 L567.71,405.88 L564.07,407.85Z" fill="#ec3f25"/><path d="M558.53,399.11 L563.71,401.91 L558.53,404.71Z" fill="#fff" stroke="#ec3f25" stroke-width="0.8" stroke-linejoin="miter"/><path d="M560.07,399.95 L563.71,401.91 L560.07,403.88Z" fill="#ec3f25"/><path d="M554.54,394.88 L559.72,397.68 L554.54,400.48Z" fill="#fff" stroke="#ec3f25" stroke-width="0.8" stroke-linejoin="miter"/><path d="M556.08,395.72 L559.72,397.68 L556.08,399.65Z" fill="#ec3f25"/><path d="M550.55,390.14 L555.73,392.94 L550.55,395.74Z" fill="#fff" stroke="#ec3f25" stroke-width="0.8" stroke-linejoin="miter"/><path d="M552.09,390.98 L555.73,392.94 L552.09,394.91Z" fill="#ec3f25"/><path d="M546.55,385.19 L551.73,387.99 L546.55,390.79Z" fill="#fff" stroke="#ec3f25" stroke-width="0.8" stroke-linejoin="miter"/><path d="M548.09,386.03 L551.73,387.99 L548.09,389.96Z" fill="#ec3f25"/><path d="M542.56,380.33 L547.74,383.13 L542.56,385.93Z" fill="#fff" stroke="#ec3f25" stroke-width="0.8" stroke-linejoin="miter"/><path d="M544.1,381.16 L547.74,383.13 L544.1,385.1Z" fill="#ec3f25"/><path d="M538.57,375.54 L543.75,378.34 L538.57,381.14Z" fill="#fff" stroke="#ec3f25" stroke-width="0.8" stroke-linejoin="miter"/><path d="M540.11,376.38 L543.75,378.34 L540.11,380.31Z" fill="#ec3f25"/><path d="M534.57,370.77 L539.75,373.57 L534.57,376.37Z" fill="#fff" stroke="#ec3f25" stroke-width="0.8" stroke-linejoin="miter"/><path d="M536.11,371.6 L539.75,373.57 L536.11,375.54Z" fill="#ec3f25"/><path d="M530.58,365.99 L535.76,368.79 L530.58,371.59Z" fill="#fff" stroke="#ec3f25" stroke-width="0.8" stroke-linejoin="miter"/><path d="M532.12,366.83 L535.76,368.79 L532.12,370.76Z" fill="#ec3f25"/><path d="M526.59,361.22 L531.77,364.02 L526.59,366.82Z" fill="#fff" stroke="#ec3f25" stroke-width="0.8" stroke-linejoin="miter"/><path d="M528.13,362.05 L531.77,364.02 L528.13,365.98Z" fill="#ec3f25"/><path d="M522.6,356.44 L527.78,359.24 L522.6,362.04Z" fill="#fff" stroke="#ec3f25" stroke-width="0.8" stroke-linejoin="miter"/><path d="M524.14,357.27 L527.78,359.24 L524.14,361.21Z" fill="#ec3f25"/><path d="M518.6,351.66 L523.78,354.46 L518.6,357.26Z" fill="#fff" stroke="#ec3f25" stroke-width="0.8" stroke-linejoin="miter"/><path d="M520.14,352.49 L523.78,354.46 L520.14,356.43Z" fill="#ec3f25"/><path d="M514.61,346.82 L519.79,349.62 L514.61,352.42Z" fill="#fff" stroke="#ec3f25" stroke-width="0.8" stroke-linejoin="miter"/><path d="M516.15,347.65 L519.79,349.62 L516.15,351.58Z" fill="#ec3f25"/><path d="M510.62,341.87 L515.8,344.67 L510.62,347.47Z" fill="#fff" stroke="#ec3f25" stroke-width="0.8" stroke-linejoin="miter"/><path d="M512.16,342.7 L515.8,344.67 L512.16,346.64Z" fill="#ec3f25"/><path d="M506.62,337.05 L511.8,339.85 L506.62,342.65Z" fill="#fff" stroke="#ec3f25" stroke-width="0.8" stroke-linejoin="miter"/><path d="M508.16,337.88 L511.8,339.85 L508.16,341.82Z" fill="#ec3f25"/><path d="M502.63,332.61 L507.81,335.41 L502.63,338.21Z" fill="#fff" stroke="#ec3f25" stroke-width="0.8" stroke-linejoin="miter"/><path d="M504.17,333.44 L507.81,335.41 L504.17,337.37Z" fill="#ec3f25"/><path d="M498.64,328.52 L503.82,331.32 L498.64,334.12Z" fill="#fff" stroke="#ec3f25" stroke-width="0.8" stroke-linejoin="miter"/><path d="M500.18,329.35 L503.82,331.32 L500.18,333.29Z" fill="#ec3f25"/><path d="M494.64,324.61 L499.82,327.41 L494.64,330.21Z" fill="#fff" stroke="#ec3f25" stroke-width="0.8" stroke-linejoin="miter"/><path d="M496.19,325.45 L499.82,327.41 L496.19,329.38Z" fill="#ec3f25"/><path d="M490.65,320.74 L495.83,323.54 L490.65,326.34Z" fill="#fff" stroke="#ec3f25" stroke-width="0.8" stroke-linejoin="miter"/><path d="M492.19,321.57 L495.83,323.54 L492.19,325.5Z" fill="#ec3f25"/><path d="M486.66,316.73 L491.84,319.53 L486.66,322.33Z" fill="#fff" stroke="#ec3f25" stroke-width="0.8" stroke-linejoin="miter"/><path d="M488.2,317.56 L491.84,319.53 L488.2,321.49Z" fill="#ec3f25"/><path d="M482.67,312.74 L487.85,315.54 L482.67,318.34Z" fill="#fff" stroke="#ec3f25" stroke-width="0.8" stroke-linejoin="miter"/><path d="M484.21,313.58 L487.85,315.54 L484.21,317.51Z" fill="#ec3f25"/><path d="M478.67,309.08 L483.85,311.88 L478.67,314.68Z" fill="#fff" stroke="#ec3f25" stroke-width="0.8" stroke-linejoin="miter"/><path d="M480.21,309.91 L483.85,311.88 L480.21,313.85Z" fill="#ec3f25"/><path d="M474.68,305.9 L479.86,308.7 L474.68,311.5Z" fill="#fff" stroke="#ec3f25" stroke-width="0.8" stroke-linejoin="miter"/><path d="M476.22,306.73 L479.86,308.7 L476.22,310.66Z" fill="#ec3f25"/><path d="M470.69,303.01 L475.87,305.81 L470.69,308.61Z" fill="#fff" stroke="#ec3f25" stroke-width="0.8" stroke-linejoin="miter"/><path d="M472.23,303.84 L475.87,305.81 L472.23,307.78Z" fill="#ec3f25"/><path d="M466.69,300.37 L471.87,303.17 L466.69,305.97Z" fill="#fff" stroke="#ec3f25" stroke-width="0.8" stroke-linejoin="miter"/><path d="M468.23,301.2 L471.87,303.17 L468.23,305.14Z" fill="#ec3f25"/><path d="M462.7,297.91 L467.88,300.71 L462.7,303.51Z" fill="#fff" stroke="#ec3f25" stroke-width="0.8" stroke-linejoin="miter"/><path d="M464.24,298.75 L467.88,300.71 L464.24,302.68Z" fill="#ec3f25"/><path d="M458.71,295.6 L463.89,298.4 L458.71,301.2Z" fill="#fff" stroke="#ec3f25" stroke-width="0.8" stroke-linejoin="miter"/><path d="M460.25,296.43 L463.89,298.4 L460.25,300.37Z" fill="#ec3f25"/><path d="M454.71,293.5 L459.89,296.3 L454.71,299.1Z" fill="#fff" stroke="#ec3f25" stroke-width="0.8" stroke-linejoin="miter"/><path d="M456.25,294.33 L459.89,296.3 L456.25,298.27Z" fill="#ec3f25"/><path d="M450.72,291.7 L455.9,294.5 L450.72,297.3Z" fill="#fff" stroke="#ec3f25" stroke-width="0.8" stroke-linejoin="miter"/><path d="M452.26,292.53 L455.9,294.5 L452.26,296.47Z" fill="#ec3f25"/><path d="M446.73,290.08 L451.91,292.88 L446.73,295.68Z" fill="#fff" stroke="#ec3f25" stroke-width="0.8" stroke-linejoin="miter"/><path d="M448.27,290.91 L451.91,292.88 L448.27,294.84Z" fill="#ec3f25"/><path d="M442.74,288.66 L447.92,291.46 L442.74,294.26Z" fill="#fff" stroke="#ec3f25" stroke-width="0.8" stroke-linejoin="miter"/><path d="M444.28,289.49 L447.92,291.46 L444.28,293.43Z" fill="#ec3f25"/><path d="M438.74,287.53 L443.92,290.33 L438.74,293.13Z" fill="#fff" stroke="#ec3f25" stroke-width="0.8" stroke-linejoin="miter"/><path d="M440.28,288.36 L443.92,290.33 L440.28,292.3Z" fill="#ec3f25"/><path d="M434.75,286.64 L439.93,289.44 L434.75,292.24Z" fill="#fff" stroke="#ec3f25" stroke-width="0.8" stroke-linejoin="miter"/><path d="M436.29,287.47 L439.93,289.44 L436.29,291.4Z" fill="#ec3f25"/><path d="M430.76,285.88 L435.94,288.68 L430.76,291.48Z" fill="#fff" stroke="#ec3f25" stroke-width="0.8" stroke-linejoin="miter"/><path d="M432.3,286.71 L435.94,288.68 L432.3,290.65Z" fill="#ec3f25"/><path d="M426.76,285.21 L431.94,288.01 L426.76,290.81Z" fill="#fff" stroke="#ec3f25" stroke-width="0.8" stroke-linejoin="miter"/><path d="M428.3,286.04 L431.94,288.01 L428.3,289.97Z" fill="#ec3f25"/><path d="M422.77,284.6 L427.95,287.4 L422.77,290.2Z" fill="#fff" stroke="#ec3f25" stroke-width="0.8" stroke-linejoin="miter"/><path d="M424.31,285.44 L427.95,287.4 L424.31,289.37Z" fill="#ec3f25"/><path d="M418.78,284.06 L423.96,286.86 L418.78,289.66Z" fill="#fff" stroke="#ec3f25" stroke-width="0.8" stroke-linejoin="miter"/><path d="M420.32,284.9 L423.96,286.86 L420.32,288.83Z" fill="#ec3f25"/><path d="M414.78,283.52 L419.96,286.32 L414.78,289.12Z" fill="#fff" stroke="#ec3f25" stroke-width="0.8" stroke-linejoin="miter"/><path d="M416.32,284.36 L419.96,286.32 L416.32,288.29Z" fill="#ec3f25"/><path d="M410.79,282.94 L415.97,285.74 L410.79,288.54Z" fill="#fff" stroke="#ec3f25" stroke-width="0.8" stroke-linejoin="miter"/><path d="M412.33,283.77 L415.97,285.74 L412.33,287.71Z" fill="#ec3f25"/><path d="M406.8,282.34 L411.98,285.14 L406.8,287.94Z" fill="#fff" stroke="#ec3f25" stroke-width="0.8" stroke-linejoin="miter"/><path d="M408.34,283.17 L411.98,285.14 L408.34,287.11Z" fill="#ec3f25"/><path d="M402.81,281.75 L407.99,284.55 L402.81,287.35Z" fill="#fff" stroke="#ec3f25" stroke-width="0.8" stroke-linejoin="miter"/><path d="M404.35,282.58 L407.99,284.55 L404.35,286.52Z" fill="#ec3f25"/><path d="M398.81,281.17 L403.99,283.97 L398.81,286.77Z" fill="#fff" stroke="#ec3f25" stroke-width="0.8" stroke-linejoin="miter"/><path d="M400.35,282 L403.99,283.97 L400.35,285.94Z" fill="#ec3f25"/><path d="M394.82,280.6 L400,283.4 L394.82,286.2Z" fill="#fff" stroke="#ec3f25" stroke-width="0.8" stroke-linejoin="miter"/><path d="M396.36,281.43 L400,283.4 L396.36,285.37Z" fill="#ec3f25"/>
<rect x="393.2" y="271.5" width="279.50" height="220.90" fill="none" stroke="#5a5a5e" stroke-width="1.35"/>
<path d="M393.2,475.8h4 M393.2,421.7h4 M393.2,367.6h4 M393.2,313.5h4" stroke="#5a5a5e" stroke-width="1.2" fill="none"/>
<path d="M393.2,487.8h2.5 M393.2,484.18h2.5 M393.2,481.04h2.5 M393.2,478.28h2.5 M393.2,459.51h2.5 M393.2,449.99h2.5 M393.2,443.23h2.5 M393.2,437.99h2.5 M393.2,433.7h2.5 M393.2,430.08h2.5 M393.2,426.94h2.5 M393.2,424.18h2.5 M393.2,405.41h2.5 M393.2,395.89h2.5 M393.2,389.13h2.5 M393.2,383.89h2.5 M393.2,379.6h2.5 M393.2,375.98h2.5 M393.2,372.84h2.5 M393.2,370.08h2.5 M393.2,351.31h2.5 M393.2,341.79h2.5 M393.2,335.03h2.5 M393.2,329.79h2.5 M393.2,325.5h2.5 M393.2,321.88h2.5 M393.2,318.74h2.5 M393.2,315.98h2.5 M393.2,297.21h2.5 M393.2,287.69h2.5 M393.2,280.93h2.5 M393.2,275.69h2.5" stroke="#5a5a5e" stroke-width="0.9" fill="none"/>
<path d="M433.13,492.4v-4 M473.06,492.4v-4 M512.99,492.4v-4 M552.92,492.4v-4 M592.85,492.4v-4 M632.78,492.4v-4" stroke="#5a5a5e" stroke-width="1.2" fill="none"/>
<path d="M405.22,492.4v-2.3 M412.25,492.4v-2.3 M417.24,492.4v-2.3 M421.11,492.4v-2.3 M424.27,492.4v-2.3 M426.94,492.4v-2.3 M429.26,492.4v-2.3 M431.3,492.4v-2.3 M445.15,492.4v-2.3 M452.18,492.4v-2.3 M457.17,492.4v-2.3 M461.04,492.4v-2.3 M464.2,492.4v-2.3 M466.87,492.4v-2.3 M469.19,492.4v-2.3 M471.23,492.4v-2.3 M485.08,492.4v-2.3 M492.11,492.4v-2.3 M497.1,492.4v-2.3 M500.97,492.4v-2.3 M504.13,492.4v-2.3 M506.8,492.4v-2.3 M509.12,492.4v-2.3 M511.16,492.4v-2.3 M525.01,492.4v-2.3 M532.04,492.4v-2.3 M537.03,492.4v-2.3 M540.9,492.4v-2.3 M544.06,492.4v-2.3 M546.73,492.4v-2.3 M549.05,492.4v-2.3 M551.09,492.4v-2.3 M564.94,492.4v-2.3 M571.97,492.4v-2.3 M576.96,492.4v-2.3 M580.83,492.4v-2.3 M583.99,492.4v-2.3 M586.66,492.4v-2.3 M588.98,492.4v-2.3 M591.02,492.4v-2.3 M604.87,492.4v-2.3 M611.9,492.4v-2.3 M616.89,492.4v-2.3 M620.76,492.4v-2.3 M623.92,492.4v-2.3 M626.59,492.4v-2.3 M628.91,492.4v-2.3 M630.95,492.4v-2.3 M644.8,492.4v-2.3 M651.83,492.4v-2.3 M656.82,492.4v-2.3 M660.69,492.4v-2.3 M663.85,492.4v-2.3 M666.52,492.4v-2.3 M668.84,492.4v-2.3 M670.88,492.4v-2.3" stroke="#5a5a5e" stroke-width="0.9" fill="none"/>
<text x="387.4" y="480.1" font-size="12.8" text-anchor="end" fill="#111">10<tspan font-size="8.5" dy="-5.5">1</tspan></text>
<text x="387.4" y="426" font-size="12.8" text-anchor="end" fill="#111">10<tspan font-size="8.5" dy="-5.5">2</tspan></text>
<text x="387.4" y="371.9" font-size="12.8" text-anchor="end" fill="#111">10<tspan font-size="8.5" dy="-5.5">3</tspan></text>
<text x="387.4" y="317.8" font-size="12.8" text-anchor="end" fill="#111">10<tspan font-size="8.5" dy="-5.5">4</tspan></text>
<text x="393.2" y="509.3" font-size="12.8" text-anchor="middle" fill="#111" font-weight="normal">10<tspan font-size="8.5" dy="-5.5">-2</tspan></text>
<text x="433.13" y="509.3" font-size="12.8" text-anchor="middle" fill="#111" font-weight="normal">10<tspan font-size="8.5" dy="-5.5">-1</tspan></text>
<text x="473.06" y="509.3" font-size="12.8" text-anchor="middle" fill="#111" font-weight="normal">10<tspan font-size="8.5" dy="-5.5">0</tspan></text>
<text x="512.99" y="509.3" font-size="12.8" text-anchor="middle" fill="#111" font-weight="normal">10<tspan font-size="8.5" dy="-5.5">1</tspan></text>
<text x="552.92" y="509.3" font-size="12.8" text-anchor="middle" fill="#111" font-weight="normal">10<tspan font-size="8.5" dy="-5.5">2</tspan></text>
<text x="592.85" y="509.3" font-size="12.8" text-anchor="middle" fill="#111" font-weight="normal">10<tspan font-size="8.5" dy="-5.5">3</tspan></text>
<text x="632.78" y="509.3" font-size="12.8" text-anchor="middle" fill="#111" font-weight="normal">10<tspan font-size="8.5" dy="-5.5">4</tspan></text>
<text x="672.71" y="509.3" font-size="12.8" text-anchor="middle" fill="#111" font-weight="normal">10<tspan font-size="8.5" dy="-5.5">5</tspan></text>
<line x1="596" y1="282.4" x2="624" y2="282.4" stroke="#5cc6ea" stroke-width="1"/>
<rect x="608.5" y="280.2" width="4.4" height="4.4" fill="#fff" stroke="#5cc6ea" stroke-width="0.6"/><rect x="610.7" y="280.2" width="2.2" height="4.4" fill="#5cc6ea"/>
<text x="628.5" y="286.7" font-size="12.5" fill="#111">S0</text>
<line x1="596" y1="298.2" x2="624" y2="298.2" stroke="#7a1cf0" stroke-width="1"/>
<circle cx="610.7" cy="298.2" r="2.6" fill="#fff" stroke="#7a1cf0" stroke-width="0.6"/><path d="M610.7,295.6 A2.6,2.6 0 0 1 610.7,300.8Z" fill="#7a1cf0"/>
<text x="628.5" y="302.5" font-size="12.5" fill="#111">S25</text>
<line x1="596" y1="313.4" x2="624" y2="313.4" stroke="#ec3f25" stroke-width="1"/>
<path d="M608.24,310.5 L613.6,313.4 L608.24,316.3Z" fill="#fff" stroke="#ec3f25" stroke-width="0.7" stroke-linejoin="miter"/><path d="M609.83,311.36 L613.6,313.4 L609.83,315.44Z" fill="#ec3f25"/>
<text x="628.5" y="317.7" font-size="12.5" fill="#111">S50</text>
<line x1="596" y1="328.7" x2="624" y2="328.7" stroke="#ecc948" stroke-width="1"/>
<path d="M610.7,325.7 L611.58,327.49 L613.55,327.77 L612.13,329.16 L612.46,331.13 L610.7,330.2 L608.94,331.13 L609.27,329.16 L607.85,327.77 L609.82,327.49Z" fill="#f6dc78" stroke="#ecc948" stroke-width="0.6"/>
<text x="628.5" y="333.0" font-size="12.5" fill="#111">S100</text>
<path d="M345.4,426.3H364.6M345.4,401.8H364.6" stroke="#111" stroke-width="1.7"/>
<text transform="translate(363.3,414.1) rotate(-90)" font-size="20.5" text-anchor="middle" fill="#111">Z</text>
<text transform="translate(363.3,361.4) rotate(-90)" font-size="19" text-anchor="middle" fill="#111">(Ω cm<tspan font-size="12" dy="-8">2</tspan><tspan dy="8">)</tspan></text>
<text x="533" y="524" font-size="19" text-anchor="middle" fill="#111">Frequency (Hz)</text>
<rect x="4.4" y="261.8" width="28.4" height="26.69999999999999" fill="#f0f0f0"/>
<text x="7.2" y="280.9" font-size="21" fill="#111">(c)</text>
<rect x="358.1" y="262.2" width="28.899999999999977" height="25.900000000000034" fill="#f0f0f0"/>
<text x="360.3" y="281.2" font-size="21" fill="#111">(d)</text>
<g>
<g opacity="0.8"><circle cx="432.8" cy="500.5" r="6.5" fill="#a9a9a9"/><circle cx="442.9" cy="507.4" r="6.6" fill="#a9a9a9" stroke="#fff" stroke-width="0.9"/></g>
<circle cx="430.4" cy="498.4" r="0.9" fill="#fff"/><circle cx="435.3" cy="498.4" r="0.9" fill="#fff"/><circle cx="440.6" cy="505.6" r="0.9" fill="#fff"/><circle cx="445.3" cy="505.6" r="0.9" fill="#fff"/>
<text class="wm" x="456.3" y="510.2" font-size="17.5" fill="#a3a3a3" fill-opacity="0.9" letter-spacing="1.3" font-weight="300" font-family="'Liberation Sans','Noto Sans CJK SC',sans-serif">公众号</text>
<text class="wm" x="531.8" y="510.2" font-size="17.5" fill="#a3a3a3" fill-opacity="0.9" letter-spacing="1.2" font-weight="300" font-family="'Liberation Sans','Noto Sans CJK SC',sans-serif">材料强化与防护</text>
</g>
</svg></body></html>
